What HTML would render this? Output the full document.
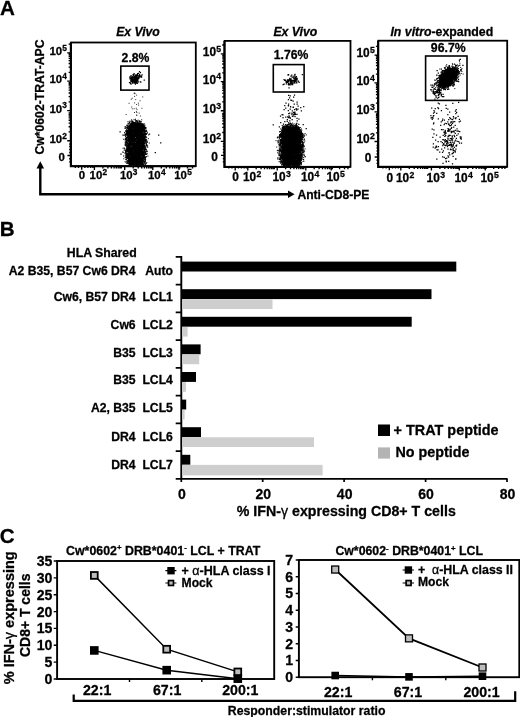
<!DOCTYPE html>
<html><head><meta charset="utf-8"><title>Figure</title>
<style>
html,body{margin:0;padding:0;background:#fff;}
svg{display:block;font-family:"Liberation Sans", sans-serif;}
text{fill:#000;stroke:#000;stroke-width:0.28px;stroke-linejoin:round;}
</style></head>
<body>
<svg width="520" height="717" viewBox="0 0 520 717">
<rect width="520" height="717" fill="#fff"/>
<rect x="71" y="42.5" width="124.8" height="123.6" fill="none" stroke="#000" stroke-width="1.8"/>
<path d="M70.8 42.5V166.29999999999998H195.8" fill="none" stroke="#000" stroke-width="2.0"/>
<path d="M67.2 52.9H71M68.6 44.1H71M67.2 81.1H71M68.6 72.3H71M68.6 67.1H71M68.6 63.5H71M68.6 60.6H71M68.6 58.3H71M68.6 56.4H71M68.6 54.7H71M68.6 53.2H71M67.2 110.6H71M68.6 101.8H71M68.6 96.6H71M68.6 93.0H71M68.6 90.1H71M68.6 87.8H71M68.6 85.9H71M68.6 84.2H71M68.6 82.7H71M67.2 140.7H71M68.6 131.9H71M68.6 126.7H71M68.6 123.1H71M68.6 120.2H71M68.6 117.9H71M68.6 116.0H71M68.6 114.3H71M68.6 112.8H71M67.4 155.5H71M69.2 158.7H71M69.2 161.9H71M69.2 152.5H71M69.2 149.5H71M69.2 146.5H71M69.2 144.0H71M94.4 166.1V169.9M102.9 166.1V168.5M107.9 166.1V168.5M111.4 166.1V168.5M114.1 166.1V168.5M116.3 166.1V168.5M118.2 166.1V168.5M119.9 166.1V168.5M121.3 166.1V168.5M124.7 166.1V169.9M133.2 166.1V168.5M138.2 166.1V168.5M141.7 166.1V168.5M144.4 166.1V168.5M146.6 166.1V168.5M148.5 166.1V168.5M150.2 166.1V168.5M151.6 166.1V168.5M152.8 166.1V169.9M161.3 166.1V168.5M166.3 166.1V168.5M169.8 166.1V168.5M172.5 166.1V168.5M174.7 166.1V168.5M176.6 166.1V168.5M178.3 166.1V168.5M179.7 166.1V168.5M179.0 166.1V169.9M187.5 166.1V168.5M192.5 166.1V168.5M81.7 166.1V169.7M78.5 166.1V167.9M75.3 166.1V167.9M84.9 166.1V167.9M87.9 166.1V167.9M90.7 166.1V167.9M92.9 166.1V167.9" stroke="#000" stroke-width="1.35" fill="none"/>
<text x="49.4" y="54.8" font-size="11.4" font-weight="bold">10<tspan dx="0.3" dy="-4.1" font-size="8.322">5</tspan></text>
<text x="49.4" y="83.0" font-size="11.4" font-weight="bold">10<tspan dx="0.3" dy="-4.1" font-size="8.322">4</tspan></text>
<text x="49.4" y="112.5" font-size="11.4" font-weight="bold">10<tspan dx="0.3" dy="-4.1" font-size="8.322">3</tspan></text>
<text x="49.4" y="142.6" font-size="11.4" font-weight="bold">10<tspan dx="0.3" dy="-4.1" font-size="8.322">2</tspan></text>
<text x="58.6" y="160.7" font-size="11.4" font-weight="bold">0</text>
<text x="78.8" y="179.4" font-size="11.4" font-weight="bold">0</text>
<text x="89.6" y="179.4" font-size="11.4" font-weight="bold">10<tspan dx="0.3" dy="-4.1" font-size="8.322">2</tspan></text>
<text x="119.9" y="179.4" font-size="11.4" font-weight="bold">10<tspan dx="0.3" dy="-4.1" font-size="8.322">3</tspan></text>
<text x="148.0" y="179.4" font-size="11.4" font-weight="bold">10<tspan dx="0.3" dy="-4.1" font-size="8.322">4</tspan></text>
<text x="174.2" y="179.4" font-size="11.4" font-weight="bold">10<tspan dx="0.3" dy="-4.1" font-size="8.322">5</tspan></text>
<rect x="224.6" y="40.9" width="125.9" height="125.9" fill="none" stroke="#000" stroke-width="1.8"/>
<path d="M224.4 40.9V167.0H350.5" fill="none" stroke="#000" stroke-width="2.0"/>
<path d="M220.8 53.8H224.6M222.2 45.0H224.6M220.8 81.6H224.6M222.2 72.8H224.6M222.2 67.7H224.6M222.2 64.0H224.6M222.2 61.2H224.6M222.2 58.9H224.6M222.2 57.0H224.6M222.2 55.3H224.6M222.2 53.8H224.6M220.8 110.7H224.6M222.2 101.9H224.6M222.2 96.8H224.6M222.2 93.1H224.6M222.2 90.3H224.6M222.2 88.0H224.6M222.2 86.1H224.6M222.2 84.4H224.6M222.2 82.9H224.6M220.8 141.3H224.6M222.2 132.5H224.6M222.2 127.4H224.6M222.2 123.7H224.6M222.2 120.9H224.6M222.2 118.6H224.6M222.2 116.7H224.6M222.2 115.0H224.6M222.2 113.5H224.6M221.0 155.4H224.6M222.8 158.6H224.6M222.8 161.8H224.6M222.8 152.4H224.6M222.8 149.4H224.6M222.8 146.4H224.6M222.8 143.9H224.6M247.8 166.8V170.6M256.2 166.8V169.2M261.1 166.8V169.2M264.5 166.8V169.2M267.2 166.8V169.2M269.4 166.8V169.2M271.3 166.8V169.2M272.9 166.8V169.2M274.3 166.8V169.2M277.2 166.8V170.6M285.6 166.8V169.2M290.5 166.8V169.2M293.9 166.8V169.2M296.6 166.8V169.2M298.8 166.8V169.2M300.7 166.8V169.2M302.3 166.8V169.2M303.7 166.8V169.2M305.8 166.8V170.6M314.2 166.8V169.2M319.1 166.8V169.2M322.5 166.8V169.2M325.2 166.8V169.2M327.4 166.8V169.2M329.3 166.8V169.2M330.9 166.8V169.2M332.3 166.8V169.2M331.2 166.8V170.6M339.6 166.8V169.2M344.5 166.8V169.2M347.9 166.8V169.2M235.2 166.8V170.4M232.0 166.8V168.6M228.8 166.8V168.6M238.4 166.8V168.6M241.4 166.8V168.6M244.2 166.8V168.6M246.4 166.8V168.6" stroke="#000" stroke-width="1.35" fill="none"/>
<text x="202.8" y="55.7" font-size="11.9" font-weight="bold">10<tspan dx="0.3" dy="-4.1" font-size="8.687">5</tspan></text>
<text x="202.8" y="83.5" font-size="11.9" font-weight="bold">10<tspan dx="0.3" dy="-4.1" font-size="8.687">4</tspan></text>
<text x="202.8" y="112.6" font-size="11.9" font-weight="bold">10<tspan dx="0.3" dy="-4.1" font-size="8.687">3</tspan></text>
<text x="202.8" y="143.2" font-size="11.9" font-weight="bold">10<tspan dx="0.3" dy="-4.1" font-size="8.687">2</tspan></text>
<text x="211.2" y="160.6" font-size="11.9" font-weight="bold">0</text>
<text x="232.3" y="180.9" font-size="11.9" font-weight="bold">0</text>
<text x="243.0" y="180.9" font-size="11.9" font-weight="bold">10<tspan dx="0.3" dy="-4.1" font-size="8.687">2</tspan></text>
<text x="272.4" y="180.9" font-size="11.9" font-weight="bold">10<tspan dx="0.3" dy="-4.1" font-size="8.687">3</tspan></text>
<text x="301.0" y="180.9" font-size="11.9" font-weight="bold">10<tspan dx="0.3" dy="-4.1" font-size="8.687">4</tspan></text>
<text x="326.4" y="180.9" font-size="11.9" font-weight="bold">10<tspan dx="0.3" dy="-4.1" font-size="8.687">5</tspan></text>
<rect x="378.3" y="40.7" width="128.9" height="126.0" fill="none" stroke="#000" stroke-width="1.8"/>
<path d="M378.1 40.7V166.89999999999998H507.2" fill="none" stroke="#000" stroke-width="2.0"/>
<path d="M374.5 55.1H378.3M375.9 46.4H378.3M374.5 82.8H378.3M375.9 74.1H378.3M375.9 69.1H378.3M375.9 65.5H378.3M375.9 62.7H378.3M375.9 60.4H378.3M375.9 58.5H378.3M375.9 56.8H378.3M375.9 55.3H378.3M374.5 111.8H378.3M375.9 103.1H378.3M375.9 98.1H378.3M375.9 94.5H378.3M375.9 91.7H378.3M375.9 89.4H378.3M375.9 87.5H378.3M375.9 85.8H378.3M375.9 84.3H378.3M374.5 141.5H378.3M375.9 132.8H378.3M375.9 127.8H378.3M375.9 124.2H378.3M375.9 121.4H378.3M375.9 119.1H378.3M375.9 117.2H378.3M375.9 115.5H378.3M375.9 114.0H378.3M374.7 157.0H378.3M376.5 160.2H378.3M376.5 163.4H378.3M376.5 154.0H378.3M376.5 151.0H378.3M376.5 148.0H378.3M376.5 145.5H378.3M400.8 166.7V170.5M409.3 166.7V169.1M414.2 166.7V169.1M417.7 166.7V169.1M420.5 166.7V169.1M422.7 166.7V169.1M424.6 166.7V169.1M426.2 166.7V169.1M427.6 166.7V169.1M431.4 166.7V170.5M439.9 166.7V169.1M444.8 166.7V169.1M448.3 166.7V169.1M451.1 166.7V169.1M453.3 166.7V169.1M455.2 166.7V169.1M456.8 166.7V169.1M458.2 166.7V169.1M459.3 166.7V170.5M467.8 166.7V169.1M472.7 166.7V169.1M476.2 166.7V169.1M479.0 166.7V169.1M481.2 166.7V169.1M483.1 166.7V169.1M484.7 166.7V169.1M486.1 166.7V169.1M485.2 166.7V170.5M493.7 166.7V169.1M498.6 166.7V169.1M502.1 166.7V169.1M504.9 166.7V169.1M389.3 166.7V170.3M386.1 166.7V168.5M382.9 166.7V168.5M392.5 166.7V168.5M395.5 166.7V168.5M398.3 166.7V168.5" stroke="#000" stroke-width="1.35" fill="none"/>
<text x="356.5" y="57" font-size="11.9" font-weight="bold">10<tspan dx="0.3" dy="-4.1" font-size="8.687">5</tspan></text>
<text x="356.5" y="84.7" font-size="11.9" font-weight="bold">10<tspan dx="0.3" dy="-4.1" font-size="8.687">4</tspan></text>
<text x="356.5" y="113.7" font-size="11.9" font-weight="bold">10<tspan dx="0.3" dy="-4.1" font-size="8.687">3</tspan></text>
<text x="356.5" y="143.4" font-size="11.9" font-weight="bold">10<tspan dx="0.3" dy="-4.1" font-size="8.687">2</tspan></text>
<text x="364.8" y="162.2" font-size="11.9" font-weight="bold">0</text>
<text x="386.4" y="181.9" font-size="11.9" font-weight="bold">0</text>
<text x="396" y="181.9" font-size="11.9" font-weight="bold">10<tspan dx="0.3" dy="-4.1" font-size="8.687">2</tspan></text>
<text x="426.6" y="181.9" font-size="11.9" font-weight="bold">10<tspan dx="0.3" dy="-4.1" font-size="8.687">3</tspan></text>
<text x="454.5" y="181.9" font-size="11.9" font-weight="bold">10<tspan dx="0.3" dy="-4.1" font-size="8.687">4</tspan></text>
<text x="480.4" y="181.9" font-size="11.9" font-weight="bold">10<tspan dx="0.3" dy="-4.1" font-size="8.687">5</tspan></text>
<text x="138" y="35.6" font-size="12.2" font-weight="bold" text-anchor="middle" font-style="italic" textLength="43.5" lengthAdjust="spacingAndGlyphs">Ex Vivo</text>
<text x="295.3" y="35.8" font-size="12.2" font-weight="bold" text-anchor="middle" font-style="italic" textLength="43.8" lengthAdjust="spacingAndGlyphs">Ex Vivo</text>
<text x="390.4" y="36.1" font-size="12.2" font-weight="bold" textLength="102.8" lengthAdjust="spacingAndGlyphs"><tspan font-style="italic">In vitro</tspan>-expanded</text>
<rect x="120.8" y="66.1" width="28.2" height="24.0" fill="none" stroke="#000" stroke-width="1.6"/>
<rect x="273.3" y="64.6" width="30.8" height="27.4" fill="none" stroke="#000" stroke-width="1.6"/>
<rect x="425.6" y="56" width="41.4" height="44.4" fill="none" stroke="#000" stroke-width="1.6"/>
<text x="135.5" y="61.6" font-size="12.2" font-weight="bold" text-anchor="middle">2.8%</text>
<text x="291" y="59.0" font-size="12.2" font-weight="bold" text-anchor="middle">1.76%</text>
<text x="448.3" y="52.4" font-size="12.3" font-weight="bold" text-anchor="middle">96.7%</text>
<path d="M130.2 139.5h1M136.1 146.8h1M130.2 124.5h1M129.5 142.8h1M132.7 153.7h1M130.3 137.4h1M128.1 160.8h1M136.9 138.7h1M137.0 132.9h1M133.4 150.2h1M128.8 157.7h1M137.8 161.2h1M134.0 133.9h1M125.4 144.1h1M140.9 146.1h1M133.0 152.5h1M138.4 144.2h1M131.4 155.7h1M134.3 140.4h1M140.7 131.4h1M143.7 129.3h1M141.2 124.8h1M132.9 160.8h1M125.6 143.0h1M136.7 131.5h1M134.1 149.6h1M136.7 135.6h1M125.2 144.2h1M136.3 164.1h1M138.4 140.2h1M130.6 127.4h1M129.1 138.6h1M141.7 127.7h1M133.9 151.6h1M147.1 142.3h1M128.3 143.3h1M133.2 138.3h1M129.4 126.7h1M144.4 149.9h1M132.0 161.3h1M137.9 131.2h1M147.9 138.7h1M136.0 162.5h1M126.7 131.8h1M139.2 124.5h1M144.3 161.6h1M130.8 134.6h1M140.9 158.0h1M136.3 125.0h1M140.8 155.6h1M128.2 139.8h1M128.4 144.2h1M144.6 131.5h1M133.0 132.4h1M126.3 138.1h1M136.7 163.0h1M130.6 130.3h1M130.1 150.8h1M131.2 164.3h1M136.0 164.2h1M138.1 146.0h1M126.9 131.9h1M137.7 143.4h1M136.6 145.9h1M130.3 147.4h1M136.8 149.2h1M134.9 139.0h1M132.2 154.1h1M141.0 164.8h1M140.2 131.8h1M128.5 128.3h1M125.9 134.4h1M129.3 160.3h1M142.5 127.1h1M141.9 135.4h1M133.7 128.6h1M129.8 130.9h1M132.5 147.7h1M144.1 150.4h1M131.4 159.3h1M128.9 125.5h1M129.0 145.2h1M137.7 132.3h1M135.2 130.2h1M139.5 129.2h1M140.6 127.6h1M145.3 142.3h1M132.6 137.0h1M131.0 128.7h1M135.0 136.2h1M128.5 146.4h1M136.6 137.7h1M129.9 127.5h1M142.1 157.8h1M143.9 138.0h1M135.0 140.2h1M129.3 141.1h1M129.0 126.5h1M134.9 129.3h1M136.4 136.1h1M143.7 129.1h1M133.3 137.2h1M135.5 143.3h1M134.8 123.6h1M131.5 126.9h1M137.6 146.3h1M130.9 156.6h1M129.5 154.5h1M140.0 147.8h1M137.4 145.7h1M139.3 157.2h1M131.6 152.4h1M129.7 139.7h1M136.6 149.2h1M138.7 121.6h1M141.4 145.0h1M127.4 135.9h1M142.1 135.6h1M133.6 140.1h1M139.0 147.9h1M138.9 135.3h1M128.6 126.4h1M137.8 157.0h1M138.1 146.3h1M144.4 135.1h1M143.4 143.7h1M131.5 135.0h1M123.8 148.8h1M136.7 128.7h1M132.5 154.4h1M127.6 123.3h1M127.9 137.0h1M127.8 162.1h1M140.5 125.2h1M127.1 132.4h1M131.4 153.9h1M130.2 126.3h1M131.5 163.6h1M137.3 134.2h1M141.6 158.4h1M142.6 145.5h1M138.9 144.4h1M142.3 124.4h1M131.4 140.3h1M137.3 129.8h1M130.2 143.3h1M136.0 164.7h1M129.1 144.2h1M131.9 139.8h1M131.6 151.1h1M132.2 140.0h1M134.4 125.4h1M127.2 143.2h1M136.5 135.5h1M129.6 121.3h1M139.1 140.6h1M142.7 164.6h1M129.8 130.5h1M142.8 155.6h1M134.1 154.7h1M133.4 158.0h1M128.7 135.6h1M130.9 157.1h1M133.9 150.3h1M128.2 126.5h1M140.8 153.2h1M143.2 134.7h1M134.7 122.9h1M139.8 133.1h1M131.2 124.4h1M140.6 133.7h1M142.3 130.3h1M130.5 137.0h1M135.8 164.1h1M139.5 143.2h1M131.4 140.6h1M126.4 125.6h1M132.6 160.4h1M125.6 134.6h1M133.8 151.6h1M132.8 132.5h1M134.5 136.1h1M125.3 139.5h1M128.7 164.5h1M135.2 127.9h1M132.8 122.3h1M141.4 136.5h1M142.4 134.5h1M132.1 154.3h1M139.4 157.1h1M129.4 121.2h1M137.5 140.6h1M141.1 159.3h1M129.8 135.5h1M130.2 129.5h1M127.7 124.9h1M129.3 164.1h1M134.7 124.8h1M140.0 131.6h1M126.6 158.2h1M135.7 160.1h1M132.4 156.6h1M130.4 132.2h1M130.4 143.3h1M123.0 156.0h1M139.2 146.1h1M131.9 125.0h1M131.5 162.8h1M140.3 160.5h1M129.5 152.5h1M128.5 133.3h1M125.1 130.9h1M133.1 134.2h1M129.2 151.0h1M139.0 149.0h1M133.4 154.9h1M133.1 135.7h1M131.0 163.6h1M142.8 155.8h1M140.4 143.1h1M136.6 144.1h1M137.1 152.6h1M131.5 138.9h1M134.8 147.4h1M129.2 160.4h1M138.7 125.5h1M143.2 153.6h1M135.9 136.2h1M128.8 128.7h1M128.7 141.8h1M129.1 122.4h1M137.8 162.5h1M138.9 150.6h1M132.4 141.2h1M131.1 122.9h1M127.7 157.7h1M134.8 145.2h1M129.6 125.4h1M142.1 154.4h1M134.0 148.3h1M142.7 156.4h1M128.1 149.4h1M132.6 159.1h1M135.1 159.2h1M143.7 161.0h1M134.6 132.5h1M142.5 125.6h1M139.7 154.5h1M132.9 125.9h1M140.8 159.8h1M133.4 130.8h1M142.7 158.3h1M127.3 139.6h1M132.4 159.8h1M138.1 154.3h1M129.1 137.8h1M143.6 148.7h1M130.0 129.7h1M134.2 123.1h1M128.7 131.2h1M143.4 150.1h1M138.6 134.8h1M130.1 162.5h1M132.2 122.5h1M141.3 147.9h1M135.6 135.0h1M141.1 141.5h1M131.1 119.8h1M136.4 130.6h1M133.6 160.3h1M136.8 128.2h1M132.6 125.5h1M128.7 155.1h1M140.4 135.5h1M128.5 156.0h1M137.3 145.0h1M126.1 132.2h1M131.7 164.0h1M131.5 159.4h1M142.8 161.8h1M141.1 150.5h1M139.1 145.9h1M129.2 142.5h1M142.2 132.3h1M143.3 130.8h1M127.5 139.1h1M137.2 152.2h1M138.9 124.9h1M140.8 160.4h1M132.4 132.3h1M138.8 160.3h1M131.1 133.8h1M131.8 134.4h1M131.1 135.1h1M139.7 135.9h1M125.0 150.8h1M132.2 158.8h1M145.2 130.8h1M127.5 132.9h1M138.8 121.5h1M141.3 129.9h1M129.7 136.5h1M137.9 153.6h1M137.2 127.8h1M135.2 150.1h1M130.7 126.7h1M134.4 149.8h1M136.1 143.0h1M132.1 149.0h1M137.8 161.8h1M139.4 141.8h1M142.4 143.5h1M139.7 138.1h1M129.9 129.5h1M134.4 132.7h1M129.9 160.6h1M145.1 140.3h1M129.3 139.8h1M135.5 132.0h1M135.9 158.9h1M127.3 144.0h1M140.3 155.2h1M134.5 157.7h1M134.7 156.6h1M138.2 150.3h1M139.7 124.9h1M136.8 151.4h1M144.8 148.6h1M130.6 129.7h1M136.1 145.7h1M130.9 131.5h1M137.6 125.9h1M132.8 143.9h1M138.3 142.9h1M143.1 141.0h1M134.2 140.7h1M138.4 122.4h1M141.2 139.0h1M139.6 163.8h1M141.5 141.1h1M134.8 157.9h1M137.5 135.2h1M130.2 160.6h1M135.6 150.3h1M133.3 161.0h1M139.5 142.4h1M136.8 136.0h1M130.6 140.7h1M142.2 159.7h1M137.9 159.3h1M129.9 152.6h1M127.2 134.1h1M140.1 163.8h1M139.4 151.0h1M137.5 159.1h1M140.0 146.9h1M130.4 148.0h1M129.8 147.3h1M142.0 142.9h1M134.7 124.9h1M132.2 154.0h1M124.5 152.9h1M134.9 162.9h1M145.8 144.7h1M133.8 151.8h1M136.0 143.1h1M130.3 141.5h1M139.3 135.3h1M138.5 136.8h1M131.8 158.1h1M138.0 150.9h1M141.7 155.0h1M128.3 136.6h1M139.4 154.4h1M135.2 146.6h1M139.4 147.8h1M141.2 146.5h1M141.5 125.9h1M141.8 138.4h1M130.2 132.6h1M138.6 143.4h1M129.9 148.4h1M142.6 151.3h1M142.5 140.8h1M136.2 142.5h1M129.3 134.5h1M129.5 153.8h1M132.5 161.8h1M139.9 134.6h1M141.0 158.4h1M136.7 124.8h1M134.4 162.8h1M127.8 123.3h1M132.8 124.2h1M136.8 160.5h1M133.8 149.6h1M131.3 157.9h1M134.5 139.9h1M136.4 153.8h1M135.6 155.5h1M135.7 134.9h1M140.3 152.6h1M126.3 134.0h1M141.6 151.5h1M142.1 160.0h1M142.8 133.8h1M135.0 161.3h1M130.6 160.1h1M136.3 129.5h1M131.0 130.7h1M129.2 140.5h1M140.3 130.8h1M133.8 144.2h1M129.0 131.4h1M132.5 146.8h1M141.8 125.4h1M142.1 152.2h1M136.3 140.9h1M131.7 159.4h1M142.5 153.9h1M127.9 161.2h1M128.1 132.7h1M141.8 149.6h1M130.1 142.1h1M140.9 148.1h1M137.4 140.2h1M133.1 134.7h1M138.5 123.5h1M130.8 164.5h1M142.7 152.7h1M130.8 127.5h1M130.3 145.5h1M130.3 156.5h1M141.3 126.3h1M134.0 162.7h1M136.0 131.1h1M138.3 141.6h1M128.6 152.2h1M141.7 154.1h1M131.9 134.4h1M136.2 160.1h1M143.4 138.4h1M129.0 128.2h1M131.6 144.3h1M142.6 146.3h1M132.3 126.8h1M132.3 154.3h1M128.0 158.7h1M134.1 159.2h1M132.4 164.4h1M126.7 131.9h1M136.7 129.2h1M141.9 136.3h1M127.4 158.3h1M129.2 153.4h1M145.0 157.5h1M135.4 149.5h1M141.6 162.0h1M138.8 140.7h1M135.4 121.7h1M137.9 128.1h1M137.9 137.3h1M131.7 129.5h1M126.3 143.9h1M131.4 129.2h1M138.6 127.3h1M133.5 150.4h1M141.1 127.6h1M133.7 128.4h1M135.5 128.9h1M127.7 163.6h1M142.8 129.4h1M139.4 141.4h1M133.8 157.2h1M142.4 146.2h1M135.2 160.0h1M136.1 141.6h1M133.9 128.3h1M144.3 129.7h1M144.2 147.1h1M136.9 122.4h1M138.8 138.5h1M131.1 133.4h1M131.3 138.1h1M142.0 149.1h1M136.7 144.0h1M130.3 130.1h1M124.1 135.2h1M135.8 149.5h1M131.9 153.9h1M132.1 143.5h1M133.0 147.5h1M142.1 139.0h1M133.3 147.7h1M133.2 157.6h1M125.8 144.6h1M129.4 157.4h1M129.1 161.0h1M139.8 154.9h1M139.5 143.6h1M139.3 141.3h1M143.3 125.1h1M138.0 149.5h1M142.5 141.4h1M131.3 138.5h1M131.5 137.3h1M142.0 137.1h1M129.3 141.4h1M140.9 150.0h1M144.4 140.1h1M134.4 128.5h1M132.6 125.5h1M138.5 157.8h1M137.2 146.4h1M135.7 151.0h1M126.7 145.9h1M140.7 149.7h1M129.4 141.7h1M136.5 134.2h1M145.2 136.5h1M140.1 126.4h1M140.1 164.1h1M134.3 136.9h1M136.2 131.5h1M141.1 153.6h1M131.7 137.0h1M128.8 158.4h1M137.5 144.1h1M133.7 149.5h1M131.3 130.7h1M143.0 129.0h1M125.9 150.9h1M135.8 156.3h1M143.6 130.9h1M135.2 148.1h1M141.2 127.9h1M126.1 141.9h1M139.4 162.0h1M132.9 146.8h1M143.9 155.6h1M128.0 145.3h1M136.8 141.3h1M135.1 150.1h1M141.7 142.3h1M132.9 139.1h1M133.2 136.7h1M130.4 130.2h1M141.9 161.9h1M140.5 160.1h1M143.1 141.5h1M131.0 146.2h1M141.5 154.5h1M133.1 139.9h1M137.4 163.8h1M136.2 135.7h1M129.9 147.9h1M136.8 132.3h1M134.8 126.7h1M131.2 138.2h1M132.2 128.8h1M137.1 164.4h1M138.9 129.3h1M140.0 151.7h1M136.8 154.5h1M143.8 151.7h1M126.6 155.9h1M134.9 131.2h1M133.2 124.2h1M129.9 158.0h1M124.6 142.1h1M126.7 160.7h1M131.0 160.9h1M141.0 128.8h1M135.2 159.2h1M126.9 157.4h1M140.3 161.5h1M132.1 157.5h1M133.9 125.3h1M139.1 127.7h1M142.1 146.3h1M126.1 132.8h1M134.1 133.9h1M130.8 155.4h1M142.2 145.5h1M128.8 164.0h1M136.3 159.0h1M133.7 151.9h1M128.9 161.1h1M127.2 134.4h1M135.9 155.8h1M133.3 145.4h1M142.0 124.6h1M143.1 154.5h1M135.2 144.8h1M140.0 126.1h1M137.7 162.8h1M127.5 131.1h1M127.1 133.0h1M131.0 161.8h1M133.8 152.9h1M131.1 140.9h1M133.5 159.8h1M139.9 152.0h1M134.3 161.4h1M139.7 136.8h1M135.3 132.1h1M135.5 125.1h1M142.3 126.5h1M130.2 139.7h1M129.6 140.2h1M142.5 161.2h1M135.7 144.5h1M127.6 128.3h1M143.9 150.2h1M127.1 151.5h1M137.5 142.8h1M129.6 164.4h1M126.9 146.0h1M131.2 147.7h1M130.3 140.6h1M129.5 151.4h1M135.8 126.6h1M129.6 150.2h1M138.9 145.8h1M136.0 127.7h1M144.9 153.3h1M129.8 159.3h1M140.1 129.4h1M141.2 128.3h1M125.5 140.5h1M135.2 136.1h1M137.8 152.8h1M130.1 160.4h1M139.1 155.6h1M142.9 139.2h1M138.4 124.5h1M131.7 160.5h1M126.1 133.5h1M129.5 150.4h1M128.7 159.1h1M135.9 153.4h1M140.6 150.4h1M134.6 119.8h1M140.8 164.0h1M136.6 160.0h1M138.3 131.9h1M127.1 153.0h1M137.7 164.3h1M133.0 139.8h1M124.8 138.3h1M135.3 123.6h1M138.2 129.9h1M128.8 147.2h1M142.1 158.2h1M132.2 149.0h1M137.9 164.4h1M132.5 153.6h1M132.9 147.3h1M132.8 140.0h1M130.8 134.5h1M133.3 125.3h1M128.8 148.3h1M139.5 135.8h1M140.0 162.7h1M145.5 128.1h1M139.8 139.6h1M133.0 122.5h1M131.4 136.0h1M132.1 155.1h1M127.7 152.0h1M127.7 158.5h1M128.4 160.6h1M136.8 128.1h1M140.3 164.8h1M134.3 149.9h1M137.4 125.5h1M131.1 135.8h1M137.0 148.3h1M133.4 156.5h1M143.4 130.4h1M133.8 144.1h1M135.5 151.3h1M139.5 137.7h1M142.6 133.9h1M136.9 135.5h1M133.7 123.5h1M144.7 136.8h1M127.4 130.6h1M138.5 146.2h1M130.6 143.8h1M131.4 133.9h1M133.2 164.3h1M142.8 157.3h1M137.1 128.2h1M136.0 141.7h1M135.2 145.7h1M135.8 133.4h1M141.4 134.7h1M136.6 138.0h1M128.0 132.9h1M131.0 157.5h1M137.9 145.9h1M143.1 147.6h1M139.1 134.1h1M145.8 163.3h1M144.1 137.6h1M138.1 124.8h1M131.1 129.2h1M140.6 141.2h1M140.8 158.9h1M134.5 134.3h1M134.4 138.2h1M139.0 128.4h1M126.2 129.9h1M132.8 134.9h1M138.7 136.9h1M129.1 136.3h1M136.0 123.5h1M138.4 142.5h1M143.1 144.8h1M130.8 161.8h1M133.0 143.9h1M132.4 145.9h1M136.7 151.7h1M129.9 140.3h1M124.6 161.7h1M139.0 153.0h1M139.8 137.6h1M143.5 158.8h1M130.7 131.7h1M139.0 153.2h1M138.8 152.3h1M141.7 132.3h1M132.5 144.1h1M139.7 136.0h1M130.0 143.3h1M135.8 132.1h1M126.5 163.2h1M125.2 142.1h1M133.8 130.3h1M127.9 157.0h1M134.4 144.0h1M125.7 145.6h1M132.6 152.1h1M128.5 138.9h1M129.3 131.8h1M132.6 155.1h1M142.1 162.7h1M139.1 129.5h1M133.6 141.9h1M140.1 154.5h1M138.3 158.3h1M132.5 159.8h1M137.5 125.2h1M142.6 147.1h1M130.8 149.3h1M136.7 142.7h1M137.0 144.0h1M136.7 153.8h1M140.4 148.8h1M128.2 132.3h1M138.7 126.6h1M138.5 153.4h1M127.5 154.2h1M143.2 156.3h1M128.2 147.8h1M131.9 135.0h1M135.0 151.9h1M143.3 137.3h1M132.5 131.3h1M132.0 140.8h1M142.3 139.9h1M126.3 152.2h1M135.8 143.8h1M131.2 160.1h1M136.7 146.4h1M126.2 161.6h1M143.0 126.8h1M139.5 132.6h1M137.7 144.3h1M144.3 131.4h1M131.3 136.0h1M141.3 141.1h1M139.5 154.3h1M130.3 126.2h1M131.6 148.3h1M133.2 162.3h1M127.8 160.8h1M135.1 139.5h1M135.0 124.7h1M131.2 156.3h1M129.6 146.7h1M145.2 148.1h1M136.1 163.0h1M134.5 129.5h1M145.8 131.3h1M126.3 141.4h1M140.3 136.9h1M125.9 131.8h1M142.1 150.3h1M135.8 149.4h1M135.8 127.2h1M131.5 137.2h1M140.9 132.6h1M129.2 161.1h1M137.2 164.1h1M136.2 127.6h1M134.7 145.1h1M143.2 133.5h1M143.1 146.0h1M136.2 145.8h1M129.9 133.7h1M133.9 123.1h1M137.8 135.1h1M128.9 123.3h1M135.9 122.2h1M136.4 135.4h1M140.1 125.0h1M130.9 128.4h1M133.7 127.4h1M139.5 134.2h1M131.6 157.6h1M138.3 163.8h1M141.8 150.2h1M135.5 154.5h1M142.1 157.5h1M136.6 163.5h1M142.1 146.4h1M140.4 160.6h1M132.3 161.7h1M134.8 131.1h1M138.5 153.4h1M136.7 156.8h1M143.0 143.9h1M138.4 135.6h1M130.6 123.4h1M136.0 157.2h1M143.5 138.8h1M132.1 150.7h1M142.0 152.0h1M140.2 128.6h1M138.2 131.0h1M140.7 135.4h1M135.5 136.2h1M137.2 134.0h1M131.3 144.2h1M134.6 124.4h1M136.5 143.8h1M140.6 125.4h1M130.6 138.1h1M131.3 144.8h1M141.3 140.3h1M139.1 151.8h1M125.5 162.6h1M146.4 141.0h1M126.9 127.8h1M128.4 140.8h1M136.5 156.7h1M135.5 164.8h1M138.1 143.3h1M143.6 137.1h1M136.6 158.1h1M133.0 164.0h1M133.9 138.8h1M144.0 136.9h1M128.2 144.5h1M143.6 142.5h1M137.9 144.9h1M137.7 139.3h1M128.3 146.7h1M130.3 141.6h1M130.7 151.2h1M142.1 158.5h1M137.1 135.3h1M139.0 156.0h1M145.2 127.5h1M130.1 150.4h1M140.1 139.2h1M133.3 163.1h1M129.6 163.1h1M137.3 142.4h1M132.2 146.8h1M140.6 160.2h1M135.5 152.3h1M140.0 163.3h1M128.6 159.9h1M134.0 147.8h1M132.1 161.1h1M141.8 129.0h1M142.6 138.9h1M125.7 139.5h1M124.9 134.9h1M128.4 160.1h1M136.7 132.6h1M130.7 150.1h1M140.0 159.4h1M125.2 157.9h1M136.9 126.2h1M134.3 138.7h1M144.7 161.2h1M146.3 133.5h1M133.2 130.4h1M133.3 140.9h1M129.7 137.8h1M129.6 140.6h1M134.8 134.1h1M146.4 151.8h1M127.6 153.9h1M137.8 162.1h1M125.0 138.2h1M128.1 132.7h1M129.0 158.3h1M141.9 130.7h1M138.2 164.5h1M137.3 131.1h1M143.2 132.8h1M132.6 160.0h1M144.1 153.4h1M137.1 130.7h1M140.8 143.9h1M137.2 147.9h1M142.9 125.5h1M129.7 144.1h1M137.3 163.0h1M139.0 129.7h1M125.4 151.1h1M134.4 157.6h1M136.6 153.0h1M143.0 153.1h1M144.8 151.3h1M143.5 131.0h1M127.5 151.6h1M132.8 125.2h1M140.1 152.7h1M132.7 131.9h1M142.9 128.5h1M128.7 158.1h1M142.1 158.3h1M137.2 161.2h1M137.4 148.9h1M135.6 125.2h1M142.0 125.7h1M136.7 160.0h1M138.5 134.6h1M135.6 151.0h1M141.9 162.9h1M141.8 138.0h1M128.9 158.3h1M133.1 152.3h1M140.9 139.4h1M137.0 157.2h1M141.9 158.1h1M142.5 143.4h1M130.3 142.7h1M135.2 138.6h1M136.0 164.5h1M132.0 163.7h1M130.8 134.2h1M138.6 164.3h1M133.8 160.4h1M136.0 128.9h1M128.0 135.0h1M141.2 145.6h1M142.2 144.0h1M143.4 127.8h1M144.1 123.9h1M139.7 128.6h1M129.6 156.6h1M131.2 124.3h1M135.9 164.6h1M125.9 149.4h1M129.7 128.3h1M137.9 123.5h1M126.9 135.8h1M136.1 134.5h1M135.3 159.4h1M132.1 163.9h1M129.5 162.3h1M133.9 125.5h1M128.0 150.3h1M136.7 134.3h1M126.9 151.2h1M141.0 124.8h1M139.5 139.4h1M130.3 133.1h1M131.6 134.9h1M131.9 157.6h1M137.1 138.7h1M140.9 164.7h1M128.9 135.9h1M127.6 143.7h1M135.7 145.4h1M135.7 130.4h1M131.2 164.3h1M142.1 152.9h1M132.7 149.7h1M127.4 136.2h1M141.6 148.2h1M129.1 138.5h1M141.8 127.3h1M137.1 124.1h1M138.2 144.3h1M136.6 145.3h1M142.7 158.2h1M143.3 136.0h1M143.9 151.2h1M135.2 125.7h1M138.7 157.6h1M128.1 152.9h1M137.9 144.2h1M133.9 151.8h1M139.5 136.3h1M140.2 123.7h1M134.2 122.4h1M129.6 148.1h1M128.8 129.9h1M125.3 143.2h1M137.0 135.1h1M139.9 143.8h1M128.2 146.1h1M131.7 123.8h1M140.2 138.5h1M130.7 151.5h1M140.6 149.7h1M137.5 164.0h1M129.0 137.5h1M127.6 155.2h1M138.6 141.7h1M137.8 144.3h1M143.4 128.8h1M144.2 141.2h1M136.1 163.7h1M129.3 153.0h1M129.4 133.0h1M137.3 140.8h1M137.6 163.7h1M128.9 143.9h1M145.4 154.4h1M135.2 158.9h1M139.9 156.0h1M141.1 136.7h1M129.3 162.9h1M132.5 121.2h1M138.5 127.8h1M139.3 123.9h1M130.1 148.0h1M128.5 136.0h1M136.9 128.1h1M138.1 157.2h1M142.5 133.7h1M136.3 130.1h1M141.0 135.7h1M128.8 148.7h1M133.1 155.2h1M129.9 150.1h1M137.9 130.6h1M135.9 143.7h1M129.6 155.1h1M138.5 156.7h1M138.2 136.5h1M141.8 134.6h1M139.2 163.3h1M127.0 157.0h1M137.8 125.2h1M136.5 144.3h1M138.5 144.6h1M134.0 158.4h1M133.5 144.9h1M140.7 134.6h1M144.8 135.9h1M139.3 152.6h1M144.2 141.0h1M132.9 126.6h1M131.5 126.6h1M142.8 126.6h1M133.0 125.0h1M136.5 129.2h1M140.6 161.0h1M131.7 141.9h1M144.1 157.3h1M136.4 164.7h1M140.4 157.3h1M129.5 128.9h1M130.6 129.1h1M140.3 160.8h1M143.2 139.4h1M139.4 161.5h1M129.2 154.1h1M132.1 161.7h1M130.0 139.0h1M136.7 135.2h1M140.3 162.9h1M139.1 162.2h1M136.2 159.5h1M134.6 162.3h1M144.5 157.8h1M137.9 159.9h1M134.6 161.6h1M141.1 158.7h1M132.4 137.6h1M139.7 125.6h1M139.8 127.2h1M142.6 143.3h1M138.1 151.0h1M134.0 156.8h1M137.7 126.4h1M136.2 142.9h1M129.5 130.8h1M129.5 158.0h1M133.7 149.4h1M137.0 125.6h1M130.3 136.3h1M144.3 129.8h1M140.5 140.3h1M132.2 136.3h1M134.8 146.5h1M129.8 164.7h1M140.2 160.8h1M126.2 140.7h1M140.9 149.0h1M127.9 148.3h1M135.2 152.1h1M137.8 134.7h1M132.6 144.4h1M129.5 155.2h1M145.2 147.6h1M138.1 129.8h1M139.9 154.7h1M131.4 144.6h1M126.1 155.0h1M128.4 138.5h1M133.6 128.4h1M130.7 130.8h1M135.0 136.3h1M143.0 145.1h1M131.7 145.2h1M145.3 133.6h1M134.5 140.2h1M142.7 153.2h1M139.7 152.6h1M130.2 136.3h1M140.9 141.9h1M132.7 157.1h1M135.8 161.9h1M132.7 140.8h1M143.8 134.6h1M136.9 123.7h1M134.8 141.0h1M131.4 163.3h1M128.8 138.1h1M144.1 138.5h1M143.0 147.1h1M129.5 130.5h1M130.4 126.5h1M141.3 125.8h1M131.0 163.6h1M141.2 131.1h1M140.9 126.2h1M129.6 164.2h1M137.7 124.8h1M127.4 130.0h1M135.2 164.7h1M131.6 140.6h1M130.3 155.3h1M135.2 139.0h1M141.1 155.7h1M138.5 145.3h1M144.9 134.8h1M130.2 163.0h1M140.6 140.4h1M140.4 158.1h1M137.1 140.6h1M141.8 146.2h1M133.1 150.0h1M137.1 164.4h1M130.2 155.5h1M134.6 160.8h1M143.2 131.4h1M139.0 156.1h1M146.3 141.0h1M134.6 129.8h1M139.3 145.6h1M124.8 155.3h1M137.8 133.1h1M141.1 148.8h1M135.8 159.7h1M141.2 128.1h1M140.3 128.1h1M136.6 128.5h1M127.2 160.6h1M143.5 161.3h1M139.1 144.7h1M132.8 163.1h1M127.8 131.5h1M139.5 130.8h1M143.7 135.1h1M144.3 154.7h1M140.9 144.5h1M138.6 164.3h1M137.1 130.9h1M129.0 160.0h1M131.0 139.2h1M129.4 147.0h1M139.0 159.0h1M144.8 143.2h1M141.8 149.2h1M127.2 139.0h1M133.0 137.0h1M135.8 152.1h1M141.0 146.7h1M133.3 148.7h1M130.7 128.8h1M141.1 148.6h1M135.7 159.1h1M134.1 155.7h1M136.0 126.2h1M127.6 158.6h1M130.5 161.5h1M133.6 161.9h1M142.6 145.9h1M128.1 128.4h1M139.9 137.2h1M137.4 128.7h1M132.4 162.8h1M137.4 131.0h1M134.7 144.7h1M128.7 146.9h1M140.2 134.7h1M126.0 137.7h1M140.7 138.6h1M130.8 163.3h1M130.4 150.2h1M126.7 138.5h1M137.1 135.6h1M130.0 129.8h1M134.5 158.5h1M140.7 129.4h1M125.6 150.3h1M138.8 128.0h1M135.6 128.7h1M143.5 128.7h1M132.7 141.2h1M133.5 138.1h1M127.1 140.5h1M138.9 121.0h1M131.0 125.7h1M131.8 149.7h1M137.1 127.8h1M137.4 156.5h1M142.2 155.1h1M136.4 127.0h1M132.6 152.6h1M139.5 143.7h1M140.4 161.1h1M139.8 156.6h1M141.1 125.4h1M137.0 162.1h1M142.2 149.4h1M134.0 146.0h1M137.3 147.7h1M132.8 147.3h1M135.4 133.1h1M138.7 157.9h1M134.6 164.3h1M140.2 142.4h1M128.3 153.9h1M133.0 137.6h1M131.4 129.6h1M137.3 150.7h1M137.5 124.8h1M142.2 147.7h1M135.4 132.9h1M134.1 158.3h1M142.4 146.2h1M133.0 159.7h1M144.4 132.5h1M145.1 159.5h1M136.5 143.6h1M132.3 130.5h1M133.8 149.9h1M140.2 142.1h1M127.1 137.1h1M131.1 123.2h1M127.0 134.9h1M126.2 148.0h1M133.3 136.3h1M135.6 129.3h1M143.6 140.4h1M135.7 135.0h1M141.9 143.5h1M141.8 135.8h1M137.9 124.9h1M131.5 159.3h1M140.4 160.1h1M134.7 143.8h1M128.1 133.8h1M132.6 137.8h1M128.8 149.2h1M142.0 144.3h1M131.1 134.1h1M127.3 149.3h1M135.1 153.3h1M129.1 162.4h1M135.3 141.8h1M133.2 155.3h1M135.6 159.3h1M127.9 154.4h1M136.1 158.5h1M127.5 132.3h1M139.9 132.6h1M134.5 133.1h1M134.3 131.6h1M135.8 136.5h1M137.0 157.3h1M136.4 162.3h1M145.2 141.6h1M140.8 125.7h1M133.6 155.3h1M141.7 159.8h1M133.2 144.4h1M136.6 162.9h1M130.2 124.3h1M132.5 152.0h1M139.9 139.5h1M133.4 164.2h1M130.4 130.7h1M143.9 149.5h1M139.2 146.4h1M126.9 135.8h1M131.2 153.2h1M136.9 164.2h1M137.9 124.7h1M141.5 139.8h1M130.6 150.7h1M140.2 162.0h1M139.1 132.0h1M137.7 127.2h1M133.6 139.0h1M138.6 124.0h1M126.9 145.8h1M144.3 156.9h1M136.5 154.4h1M136.5 142.6h1M134.4 163.0h1M127.2 150.1h1M135.7 143.3h1M133.9 164.4h1M136.8 149.5h1M139.9 140.3h1M132.3 154.7h1M140.4 152.1h1M130.7 157.9h1M133.3 122.5h1M135.2 128.1h1M133.9 145.5h1M132.9 125.6h1M139.8 128.4h1M128.5 126.6h1M133.5 162.8h1M141.1 144.3h1M134.0 159.1h1M137.8 160.6h1M135.7 142.7h1M141.8 163.4h1M140.5 151.7h1M139.0 137.0h1M138.0 150.7h1M130.7 142.7h1M137.4 128.2h1M136.6 140.3h1M128.1 155.0h1M133.9 155.4h1M135.7 147.4h1M142.1 138.4h1M142.5 135.0h1M133.9 162.8h1M125.0 126.8h1M134.5 133.7h1M131.6 128.7h1M126.2 132.2h1M136.0 144.6h1M130.6 158.9h1M132.8 136.8h1M129.6 128.8h1M130.3 134.1h1M136.9 148.7h1M131.3 134.9h1M136.5 160.1h1M126.8 150.5h1M129.6 151.6h1M133.5 146.3h1M139.6 149.0h1M129.0 128.0h1M138.5 126.3h1M133.7 136.6h1M132.6 161.7h1M142.0 130.1h1M128.7 145.5h1M138.3 134.1h1M127.9 157.1h1M137.9 143.8h1M142.0 131.4h1M138.7 141.4h1M135.3 138.6h1M141.7 138.3h1M144.8 158.3h1M138.8 132.0h1M143.0 140.1h1M131.0 150.1h1M133.4 134.9h1M131.5 155.9h1M132.0 159.7h1M134.3 125.9h1M138.0 161.9h1M131.9 133.6h1M135.3 155.1h1M139.5 136.2h1M138.7 129.2h1M138.3 158.6h1M133.3 128.9h1M137.8 131.3h1M138.3 147.8h1M137.4 146.6h1M144.2 126.5h1M136.2 149.8h1M133.0 140.1h1M129.7 125.8h1M128.2 154.6h1M148.8 143.0h1M126.7 144.0h1M124.6 144.2h1M134.0 143.8h1M135.8 133.3h1M137.3 150.4h1M131.2 125.7h1M141.9 161.2h1M138.9 148.7h1M140.0 135.2h1M134.5 141.1h1M139.9 156.4h1M145.6 149.5h1M140.0 125.3h1M141.3 162.9h1M132.2 148.2h1M127.7 153.9h1M136.9 147.4h1M132.8 122.4h1M136.4 148.4h1M132.1 155.0h1M138.0 126.1h1M129.8 139.1h1M127.8 148.1h1M143.6 155.6h1M133.1 142.9h1M140.7 147.1h1M136.4 135.3h1M129.7 160.3h1M133.5 125.1h1M138.1 137.8h1M137.8 158.5h1M134.1 162.6h1M129.1 132.4h1M139.4 125.2h1M141.9 157.7h1M138.8 136.2h1M137.7 148.4h1M127.4 132.0h1M139.5 153.9h1M132.5 157.1h1M130.1 154.3h1M133.3 125.9h1M137.2 126.8h1M143.9 127.3h1M132.7 141.2h1M137.3 134.9h1M132.3 146.7h1M133.6 135.9h1M142.0 137.1h1M146.6 141.7h1M129.3 140.0h1M141.7 136.7h1M137.2 125.1h1M129.4 142.6h1M139.6 126.9h1M133.9 151.9h1M143.6 139.2h1M130.2 159.7h1M131.3 161.9h1M134.0 160.4h1M133.7 155.7h1M143.6 159.6h1M130.8 136.1h1M140.7 164.2h1M126.5 126.9h1M142.4 143.0h1M132.1 142.9h1M134.1 146.6h1M137.1 147.0h1M128.4 132.4h1M142.0 159.6h1M135.5 146.4h1M137.2 126.3h1M140.0 162.5h1M138.3 148.7h1M126.8 145.6h1M134.6 133.2h1M137.9 132.7h1M138.4 139.8h1M138.6 139.3h1M135.4 158.1h1M130.7 137.6h1M142.7 142.9h1M130.1 133.9h1M132.9 154.0h1M139.5 157.2h1M143.7 127.8h1M139.7 141.1h1M136.3 159.4h1M139.0 122.9h1M130.5 125.6h1M134.0 148.9h1M133.3 129.8h1M131.5 130.5h1M138.4 139.6h1M128.5 155.4h1M130.3 126.7h1M141.4 162.5h1M136.3 157.4h1M132.8 123.3h1M141.2 142.9h1M131.7 141.2h1M129.9 134.2h1M137.2 131.5h1M138.8 133.8h1M134.7 141.6h1M143.3 144.1h1M145.1 154.0h1M134.8 124.6h1M140.0 159.1h1M142.5 130.6h1M130.7 131.7h1M131.7 130.1h1M142.6 160.9h1M138.3 129.8h1M143.5 163.8h1M129.1 142.6h1M141.3 148.6h1M125.8 157.8h1M131.4 157.5h1M129.1 155.0h1M135.6 158.3h1M126.0 146.2h1M133.8 161.6h1M141.8 157.2h1M137.8 143.4h1M140.6 123.4h1M144.1 130.1h1M140.7 128.7h1M134.2 127.1h1M128.4 142.0h1M138.0 160.7h1M135.7 144.3h1M136.9 161.7h1M140.4 135.4h1M134.0 150.5h1M133.6 138.4h1M138.1 126.4h1M139.6 154.8h1M127.5 154.2h1M127.5 157.0h1M143.6 162.1h1M139.1 129.1h1M131.3 155.3h1M136.1 150.6h1M138.2 155.9h1M132.3 143.6h1M130.2 140.2h1M126.3 131.2h1M136.0 141.5h1M141.8 125.2h1M136.4 143.5h1M131.4 162.0h1M133.9 161.7h1M141.9 159.8h1M143.6 149.1h1M128.3 127.9h1M134.1 158.6h1M135.6 152.9h1M127.1 137.3h1M134.5 132.3h1M138.1 143.4h1M130.5 142.5h1M139.0 151.8h1M129.1 151.5h1M139.1 149.1h1M136.6 162.0h1M129.9 135.9h1M129.2 143.9h1M135.4 129.7h1M134.9 155.4h1M141.2 159.4h1M138.3 136.9h1M143.5 140.3h1M133.7 138.8h1M140.4 133.4h1M134.2 150.6h1M141.4 126.5h1M133.0 147.2h1M143.6 134.0h1M126.6 156.5h1M137.0 126.2h1M130.0 158.2h1M141.5 123.8h1M135.4 132.4h1M129.4 139.8h1M129.7 151.3h1M137.1 127.9h1M145.2 139.8h1M140.8 135.8h1M132.3 147.8h1M137.5 131.3h1M130.4 147.4h1M132.5 125.5h1M127.8 127.2h1M125.8 138.3h1M127.1 154.4h1M130.4 152.3h1M137.8 142.6h1M130.1 145.2h1M141.3 141.6h1M135.9 154.1h1M142.5 128.7h1M129.6 135.8h1M138.7 155.7h1M141.7 139.5h1M142.4 139.4h1M130.4 144.6h1M128.4 146.1h1M142.5 151.1h1M143.6 147.1h1M131.1 158.7h1M134.3 147.8h1M128.9 147.7h1M136.1 129.2h1M143.4 151.5h1M141.9 134.1h1M125.7 159.5h1M131.9 155.9h1M137.8 157.5h1M140.4 145.6h1M141.7 151.5h1M142.5 147.2h1M129.4 151.4h1M129.3 137.7h1M126.9 128.5h1M138.5 134.4h1M134.9 162.6h1M137.8 150.8h1M142.2 155.0h1M123.2 139.3h1M142.4 163.1h1M134.1 125.9h1M135.9 137.6h1M138.4 135.8h1M134.6 141.6h1M139.1 144.7h1M128.6 162.2h1M122.4 135.1h1M137.6 122.7h1M140.9 129.4h1M145.0 137.7h1M135.5 149.9h1M128.6 160.4h1M143.6 142.4h1M132.0 139.3h1M145.3 146.7h1M123.3 158.8h1M131.7 137.1h1M142.0 154.2h1M138.1 129.1h1M144.0 127.8h1M145.9 156.7h1M139.1 134.6h1M139.3 152.8h1M131.1 162.4h1M139.6 147.0h1M127.3 146.4h1M129.2 143.8h1M132.5 131.0h1M133.2 159.0h1M135.2 150.1h1M138.4 134.2h1M139.3 126.7h1M143.3 143.8h1M126.7 146.0h1M141.1 139.6h1M135.4 152.1h1M137.7 156.1h1M137.7 151.3h1M136.2 154.2h1M141.7 144.6h1M132.8 144.4h1M128.5 158.9h1M140.5 134.2h1M128.2 163.0h1M128.5 130.9h1M143.1 151.9h1M128.1 126.6h1M139.0 147.0h1M141.8 145.4h1M131.2 149.6h1M134.0 134.4h1M130.8 123.6h1M137.9 126.1h1M139.0 143.6h1M138.5 163.9h1M138.7 124.1h1M133.5 135.0h1M133.1 123.3h1M134.1 163.6h1M136.7 127.9h1M128.8 158.8h1M129.4 161.9h1M129.0 162.7h1M141.2 164.2h1M142.8 152.5h1M128.8 135.1h1M139.3 130.9h1M135.5 150.2h1M133.7 138.0h1M134.1 159.9h1M133.0 146.4h1M132.9 127.5h1M138.5 155.7h1M140.2 154.6h1M133.4 147.6h1M138.3 162.9h1M137.2 134.7h1M137.4 148.0h1M137.4 150.4h1M141.0 121.8h1M130.5 127.5h1M136.5 123.5h1M131.7 140.5h1M130.5 134.3h1M128.5 138.8h1M126.9 142.7h1M132.0 147.8h1M134.7 125.3h1M136.2 137.3h1M133.5 148.6h1M141.8 160.7h1M128.9 157.2h1M141.0 162.6h1M129.6 163.4h1M136.3 132.6h1M128.3 133.7h1M138.0 154.4h1M136.8 130.3h1M125.2 131.2h1M128.5 155.8h1M129.1 149.5h1M128.1 151.5h1M133.2 148.2h1M130.1 144.9h1M137.1 154.7h1M135.2 132.5h1M130.2 158.6h1M138.1 140.3h1M139.7 162.1h1M141.5 148.3h1M133.6 125.2h1M136.2 127.8h1M130.1 143.7h1M131.5 140.7h1M141.2 135.0h1M128.6 145.4h1M134.9 131.3h1M142.9 164.0h1M130.2 149.0h1M136.1 127.4h1M135.8 126.4h1M130.4 137.7h1M136.5 163.4h1M125.6 159.6h1M143.7 156.8h1M136.7 142.0h1M132.5 145.4h1M131.8 127.5h1M127.7 160.0h1M134.2 128.5h1M140.7 144.6h1M128.2 146.2h1M126.1 133.3h1M137.0 143.7h1M134.5 149.7h1M144.8 160.5h1M130.8 144.2h1M138.9 125.5h1M125.8 142.7h1M129.1 158.9h1M140.1 129.4h1M143.8 144.0h1M128.0 137.4h1M141.9 141.1h1M134.8 127.4h1M132.6 149.0h1M129.3 157.3h1M143.3 135.6h1M130.3 160.8h1M143.5 141.3h1M126.5 132.5h1M132.5 159.8h1M131.8 135.4h1M139.6 157.9h1M134.9 122.8h1M129.0 144.3h1M128.5 129.7h1M135.5 151.1h1M137.8 133.5h1M139.8 141.3h1M135.8 131.3h1M125.3 157.0h1M138.3 150.0h1M128.4 136.8h1M138.2 133.2h1M145.5 134.7h1M127.4 131.9h1M137.2 161.1h1M126.8 155.5h1M138.1 156.2h1M125.2 135.7h1M137.9 162.5h1M126.7 145.4h1M125.6 146.1h1M130.8 152.1h1M131.4 157.9h1M137.6 150.5h1M140.9 143.5h1M141.0 128.7h1M145.0 154.5h1M124.6 157.2h1M131.2 139.4h1M127.5 121.6h1M144.3 149.2h1M133.8 133.1h1M135.5 127.3h1M129.5 154.2h1M137.6 163.2h1M139.7 132.6h1M130.5 144.3h1M128.4 141.3h1M126.2 135.1h1M133.3 126.7h1M134.0 157.4h1M142.1 163.1h1M133.8 151.9h1M140.0 129.6h1M133.7 162.4h1M132.9 145.1h1M131.7 138.9h1M130.3 152.4h1M135.4 157.9h1M138.0 133.4h1M129.9 159.9h1M140.5 127.9h1M144.0 145.6h1M134.4 154.7h1M135.8 133.4h1M135.1 130.4h1M144.3 156.3h1M125.4 127.9h1M133.0 164.5h1M141.8 146.7h1M138.3 141.3h1M143.0 153.2h1M130.9 134.6h1M140.7 153.9h1M135.8 130.8h1M135.2 161.4h1M135.6 160.9h1M143.4 130.5h1M134.0 156.6h1M142.5 125.9h1M138.7 136.5h1M144.5 149.5h1M128.6 133.6h1M134.3 126.6h1M140.9 127.1h1M131.4 124.9h1M131.7 142.2h1M143.3 139.8h1M134.7 133.5h1M133.8 158.2h1M134.5 164.0h1M136.9 146.6h1M138.7 154.3h1M126.1 154.2h1M131.0 129.2h1M134.5 150.6h1M139.7 134.8h1M142.4 149.1h1M132.4 140.3h1M136.5 124.5h1M143.9 154.6h1M132.8 138.4h1M137.9 134.8h1M141.1 164.4h1M132.6 160.2h1M133.4 143.8h1M140.2 130.6h1M140.6 135.2h1M130.1 131.3h1M139.9 124.7h1M142.5 133.1h1M127.5 133.5h1M134.9 153.9h1M135.6 163.3h1M138.0 149.7h1M144.5 138.6h1M138.1 158.9h1M130.0 135.4h1M129.4 148.9h1M134.1 148.0h1M135.6 151.4h1M129.6 145.5h1M130.0 149.7h1M136.3 152.9h1M135.1 132.1h1M138.3 162.5h1M143.9 162.8h1M140.2 159.4h1M134.4 140.7h1M142.5 144.7h1M128.6 144.1h1M133.2 161.9h1M131.6 155.9h1M133.7 164.2h1M141.3 141.2h1M127.6 155.5h1M139.3 123.8h1M131.2 131.6h1M137.1 162.2h1M142.6 154.2h1M135.8 139.7h1M137.6 153.0h1M135.7 125.5h1M130.7 133.3h1M131.6 123.5h1M141.2 137.0h1M125.4 150.4h1M135.1 127.1h1M141.7 153.7h1M139.3 131.0h1M127.3 141.3h1M140.0 149.1h1M130.6 149.4h1M130.1 153.4h1M143.7 136.4h1M128.2 126.4h1M130.0 158.9h1M135.6 128.5h1M141.3 138.7h1M144.7 162.9h1M132.0 147.4h1M135.0 134.1h1M126.2 154.3h1M130.9 158.3h1M138.8 151.8h1M130.4 128.7h1M131.4 148.6h1M128.2 141.5h1M133.9 145.9h1M137.4 133.1h1M134.8 162.4h1M128.7 126.3h1M131.7 143.7h1M139.6 163.3h1M143.6 161.7h1M139.9 136.0h1M144.7 161.5h1M138.6 148.7h1M135.9 143.9h1M139.8 162.4h1M136.6 143.4h1M144.5 143.0h1M131.5 129.0h1M141.4 158.4h1M129.6 163.7h1M138.8 149.1h1M129.0 135.3h1M138.8 164.6h1M139.4 140.4h1M136.1 160.0h1M132.5 127.5h1M131.1 127.0h1M137.0 125.5h1M140.4 132.2h1M142.7 145.9h1M133.5 136.6h1M135.3 135.2h1M135.3 134.6h1M141.1 163.1h1M134.4 157.6h1M133.3 133.9h1M129.2 143.9h1M142.6 136.0h1M127.6 136.1h1M129.2 126.4h1M128.2 130.8h1M129.8 129.6h1M139.9 121.7h1M141.7 134.5h1M125.5 136.0h1M137.1 127.0h1M132.6 153.5h1M135.3 160.1h1M133.4 128.7h1M136.2 146.5h1M126.3 134.5h1M127.7 148.7h1M133.3 143.9h1M131.7 144.6h1M130.4 157.8h1M133.6 136.0h1M144.6 152.7h1M129.5 142.6h1M130.7 130.6h1M138.5 143.5h1M128.8 158.3h1M136.1 131.8h1M129.7 128.2h1M141.9 153.7h1M130.2 158.0h1M142.2 157.4h1M134.6 149.3h1M143.3 129.0h1M129.7 153.2h1M128.4 148.5h1M134.7 157.4h1M131.4 127.2h1M131.4 155.2h1M137.2 127.8h1M132.0 157.8h1M137.9 160.9h1M139.0 123.8h1M125.9 154.8h1M141.2 151.8h1M139.4 161.8h1M137.7 163.2h1M134.4 147.5h1M132.9 137.3h1M139.8 158.2h1M139.2 125.9h1M142.0 143.0h1M137.5 151.9h1M138.0 143.6h1M143.2 148.8h1M127.3 148.2h1M127.9 154.3h1M139.8 145.4h1M137.1 127.5h1M139.4 148.9h1M140.6 163.9h1M129.5 132.2h1M135.1 133.6h1M142.3 157.1h1M133.9 142.4h1M131.9 126.8h1M126.5 134.5h1M127.3 127.5h1M133.2 139.5h1M144.9 133.6h1M134.6 159.8h1M132.2 132.4h1M122.6 148.2h1M135.6 143.9h1M132.9 152.6h1M127.1 149.6h1M143.9 140.2h1M145.1 128.1h1M139.0 159.9h1M137.8 126.2h1M126.4 127.5h1M124.6 153.6h1M144.2 132.6h1M132.9 142.3h1M133.8 127.0h1M138.0 143.2h1M137.4 161.7h1M132.3 148.9h1M130.2 151.2h1M145.1 164.5h1M140.1 145.6h1M132.9 145.3h1M134.3 153.3h1M138.3 128.5h1M137.5 128.9h1M146.0 134.2h1M133.3 123.6h1M136.0 143.9h1M141.5 140.1h1M133.3 160.0h1M128.8 161.9h1M144.7 140.7h1M140.0 140.6h1M130.9 148.4h1M131.1 125.6h1M141.3 135.7h1M141.4 124.5h1M139.2 126.2h1M131.7 161.3h1M139.9 129.0h1M143.3 129.1h1M144.9 152.1h1M139.1 132.6h1M135.5 146.6h1M122.8 135.2h1M136.8 147.1h1M132.4 158.3h1M131.9 153.3h1M142.1 128.7h1M133.4 162.4h1M127.0 155.4h1M136.8 155.5h1M141.8 134.9h1M132.6 157.5h1M145.2 140.6h1M125.1 136.4h1M142.5 154.1h1M144.8 154.0h1M130.2 131.4h1M131.2 137.9h1M136.2 124.1h1M128.4 141.3h1M131.7 122.1h1M143.7 147.3h1M137.7 147.2h1M138.8 162.9h1M135.4 159.4h1M137.4 164.7h1M125.8 159.6h1M129.9 154.7h1M140.3 138.5h1M136.0 145.8h1M132.8 134.9h1M124.7 145.5h1M143.6 139.8h1M131.0 149.1h1M134.1 137.7h1M134.5 132.8h1M137.6 156.2h1M127.8 145.2h1M130.3 161.5h1M136.1 158.1h1M140.9 140.4h1M136.1 125.3h1M142.5 134.9h1M133.7 132.1h1M132.6 127.6h1M139.7 127.8h1M125.4 151.7h1M131.6 160.2h1M142.4 157.9h1M139.2 125.6h1M139.9 122.0h1M134.4 139.7h1M132.6 135.0h1M131.1 143.1h1M140.0 138.9h1M143.1 160.2h1M145.1 157.2h1M124.6 140.0h1M140.3 123.2h1M133.7 128.3h1M138.5 150.5h1M131.8 159.2h1M131.5 144.1h1M132.8 156.4h1M137.2 151.5h1M131.9 155.3h1M122.4 151.9h1M135.8 125.1h1M139.4 152.6h1M142.8 126.7h1M133.4 131.0h1M137.6 145.0h1M134.0 143.3h1M136.1 135.6h1M139.7 147.8h1M138.3 123.7h1M137.5 159.9h1M140.5 144.5h1M131.8 140.5h1M131.9 162.7h1M136.9 148.1h1M130.9 139.1h1M136.1 159.9h1M136.8 133.5h1M130.7 130.1h1M142.5 154.3h1M137.1 143.7h1M140.3 148.3h1M133.5 126.5h1M135.3 122.4h1M130.6 161.6h1M128.4 133.3h1M144.1 147.9h1M136.0 141.4h1M124.2 132.4h1M127.8 128.0h1M139.1 163.9h1M126.6 127.6h1M133.5 155.2h1M141.5 150.6h1M145.5 134.5h1M131.0 137.0h1M133.7 139.5h1M126.8 133.2h1M141.4 146.1h1M134.1 133.5h1M135.3 138.6h1M141.3 126.6h1M138.9 136.2h1M136.6 147.2h1M130.1 135.1h1M131.6 164.6h1M129.6 123.8h1M138.0 127.0h1M131.7 145.6h1M139.9 145.5h1M134.0 155.3h1M140.8 147.3h1M139.9 145.4h1M139.9 156.1h1M138.2 125.4h1M129.7 134.2h1M127.3 145.4h1M128.3 146.9h1M135.5 129.3h1M128.0 130.4h1M137.6 127.5h1M129.5 153.0h1M138.9 158.8h1M132.9 139.2h1M129.2 136.1h1M143.7 164.0h1M133.4 153.3h1M143.2 138.3h1M129.1 139.4h1M140.3 157.1h1M143.1 144.9h1M140.7 162.6h1M140.6 155.4h1M136.6 132.7h1M142.2 129.3h1M134.7 154.9h1M128.9 153.0h1M135.3 123.1h1M138.1 160.1h1M127.1 131.7h1M141.7 129.9h1M143.5 133.6h1M134.5 139.3h1M127.7 145.6h1M136.8 131.4h1M140.7 161.5h1M146.7 145.2h1M142.0 125.8h1M130.0 153.0h1M144.7 127.9h1M143.9 155.5h1M140.1 155.9h1M130.9 140.8h1M132.2 147.0h1M128.1 153.7h1M125.8 149.1h1M128.6 151.4h1M132.9 129.2h1M131.3 123.4h1M135.3 134.7h1M140.1 160.5h1M129.2 128.5h1M144.4 145.5h1M129.9 125.4h1M134.2 162.4h1M135.5 143.7h1M132.8 137.8h1M125.1 151.0h1M127.6 132.2h1M135.9 120.5h1M127.8 161.3h1M138.2 156.0h1M135.8 157.9h1M130.6 164.3h1M140.6 132.1h1M146.7 153.7h1M131.4 137.7h1M143.1 140.2h1M129.3 132.2h1M134.6 149.3h1M140.3 149.7h1M131.2 125.3h1M131.2 149.1h1M145.6 156.8h1M137.6 157.0h1M139.9 164.2h1M134.8 148.2h1M143.3 152.4h1M130.5 131.8h1M128.0 158.4h1M126.2 142.0h1M128.6 138.5h1M133.2 138.8h1M134.1 137.8h1M132.7 156.0h1M138.5 149.0h1M131.5 141.2h1M130.7 149.0h1M128.8 134.8h1M138.5 153.7h1M137.7 155.1h1M140.8 138.1h1M127.5 157.2h1M132.4 152.9h1M140.9 156.9h1M139.6 125.4h1M135.9 148.2h1M137.4 156.9h1M146.2 144.8h1M128.2 147.2h1M129.5 148.4h1M128.0 137.8h1M142.7 124.8h1M128.4 136.8h1M135.6 128.2h1M137.2 138.2h1M125.2 142.6h1M133.0 145.5h1M140.4 151.8h1M130.3 162.7h1M130.8 147.7h1M142.8 157.8h1M139.9 141.5h1M135.6 133.5h1M141.8 143.9h1M141.8 147.2h1M140.1 145.3h1M136.9 154.6h1M135.8 149.9h1M140.8 153.4h1M140.4 164.1h1M130.3 143.9h1M134.9 147.5h1M129.4 140.9h1M141.7 149.3h1M138.2 124.6h1M133.3 125.2h1M130.7 125.6h1M134.1 133.8h1M133.8 123.4h1M127.5 133.9h1M141.2 155.1h1M139.8 149.1h1M139.3 140.4h1M136.1 145.1h1M139.4 163.1h1M126.0 157.6h1M135.6 147.1h1M133.9 131.2h1M143.0 128.0h1M136.8 127.8h1M135.9 156.5h1M141.9 143.5h1M143.0 141.5h1M129.4 150.4h1M139.2 156.1h1M138.7 124.7h1M144.5 149.2h1M135.3 157.6h1M136.7 155.3h1M142.1 142.0h1M131.2 161.6h1M133.7 128.2h1M135.8 158.3h1M138.1 136.7h1M132.1 133.8h1M129.1 164.0h1M136.7 121.7h1M135.6 134.8h1M133.2 157.5h1M131.9 153.7h1M143.0 157.7h1M133.8 131.6h1M136.2 146.4h1M137.1 143.4h1M127.1 148.3h1M140.6 139.5h1M128.0 143.8h1M141.0 129.0h1M132.9 149.7h1M136.2 135.7h1M135.4 158.6h1M134.1 153.9h1M123.8 148.0h1M140.2 132.5h1M137.2 139.0h1M135.8 160.2h1M140.1 149.7h1M134.9 134.4h1M132.2 157.6h1M138.3 149.9h1M139.4 132.4h1M129.9 151.9h1M139.1 137.7h1M145.6 130.3h1M142.0 163.5h1M136.2 135.3h1M125.4 157.0h1M129.6 153.7h1M139.4 124.4h1M133.5 138.9h1M138.6 163.9h1M138.5 134.7h1M132.8 145.6h1M140.9 149.5h1M130.9 132.7h1M140.0 143.9h1M130.4 138.2h1M126.9 130.9h1M131.3 163.0h1M142.5 148.4h1M132.3 155.6h1M135.7 127.4h1M135.0 126.0h1M124.2 132.9h1M130.2 132.4h1M140.9 157.5h1M134.3 149.3h1M131.3 150.1h1M134.0 137.9h1M138.8 148.3h1M131.3 126.9h1M140.7 145.5h1M141.1 150.6h1M134.3 161.7h1M141.3 143.9h1M141.1 160.5h1M136.4 142.0h1M139.7 157.8h1M126.7 133.4h1M142.1 146.8h1M140.1 127.5h1M126.6 151.3h1M135.2 146.2h1M139.1 161.9h1M131.0 137.3h1M129.9 131.1h1M135.3 127.3h1M141.1 153.1h1M135.0 163.1h1M133.1 158.7h1M142.4 157.0h1M144.5 163.0h1M139.0 130.4h1M131.1 162.3h1M141.4 136.7h1M126.1 157.6h1M139.0 131.0h1M132.1 137.8h1M129.0 133.6h1M136.1 133.4h1M133.7 163.6h1M126.5 147.9h1M136.1 144.1h1M144.7 160.3h1M131.7 162.5h1M130.0 157.8h1M144.1 149.7h1M144.3 140.8h1M140.2 151.4h1M138.2 151.6h1M138.4 138.0h1M137.1 129.0h1M128.2 138.0h1M134.1 149.4h1M134.1 161.0h1M131.7 131.6h1M133.4 126.1h1M133.0 156.6h1M140.4 157.3h1M138.8 136.9h1M143.4 126.0h1M138.6 124.0h1M128.4 159.8h1M137.6 134.5h1M141.7 164.3h1M127.9 148.9h1M135.0 132.6h1M134.1 161.3h1M131.1 150.3h1M141.5 137.0h1M133.5 144.5h1M141.9 144.0h1M141.3 131.9h1M135.1 147.6h1M135.7 141.1h1M141.0 151.1h1M135.5 132.2h1M138.8 151.3h1M142.8 127.6h1M129.3 153.4h1M125.8 152.3h1M130.1 134.9h1M131.2 162.5h1M131.5 162.7h1M143.0 140.6h1M137.2 147.0h1M137.5 164.1h1M137.5 154.5h1M142.7 142.1h1M144.4 152.4h1M141.2 128.9h1M134.9 160.7h1M148.0 134.9h1M138.5 151.6h1M130.2 160.6h1M131.4 133.0h1M143.3 164.6h1M136.4 154.5h1M129.8 130.0h1M131.1 154.2h1M142.2 162.0h1M141.9 143.9h1M138.6 143.6h1M135.8 156.5h1M135.6 147.7h1M134.8 159.3h1M141.5 150.6h1M124.8 144.1h1M134.3 152.1h1M141.7 139.7h1M139.5 136.7h1M141.2 150.5h1M137.2 151.8h1M144.7 135.0h1M136.1 138.9h1M133.2 153.0h1M133.7 158.6h1M142.0 145.8h1M136.8 160.2h1M139.4 152.6h1M141.3 138.7h1M130.8 151.1h1M141.4 147.7h1M139.1 136.1h1M131.0 139.4h1M126.5 140.2h1M142.6 136.4h1M130.0 142.7h1M134.2 143.9h1M137.2 129.8h1M129.1 156.6h1M126.3 130.4h1M137.5 146.5h1M132.7 157.1h1M134.6 129.6h1M136.6 147.8h1M135.4 152.8h1M135.8 123.7h1M132.7 139.4h1M127.8 133.9h1M141.5 150.3h1M140.8 163.5h1M137.6 127.8h1M137.7 129.1h1M129.8 146.7h1M133.6 153.2h1M131.4 133.1h1M142.0 160.4h1M147.4 156.1h1M141.0 159.0h1M137.4 122.8h1M133.2 163.4h1M126.4 158.8h1M137.7 126.7h1M139.9 133.0h1M143.1 137.0h1M143.1 145.0h1M128.8 151.3h1M132.9 152.3h1M128.1 132.7h1M135.9 136.6h1M131.5 145.0h1M127.7 150.7h1M128.2 147.5h1M143.6 152.4h1M135.3 139.4h1M147.2 147.3h1M136.8 138.9h1M131.8 148.5h1M143.6 127.9h1M128.4 154.1h1M126.5 140.5h1M135.9 145.9h1M137.1 155.0h1M135.5 125.4h1M142.0 137.8h1M140.4 154.0h1M137.5 125.3h1M130.5 142.2h1M131.8 163.8h1M133.3 157.8h1M142.5 163.0h1M143.6 126.8h1M128.2 137.2h1M142.3 153.1h1M140.9 155.4h1M146.1 139.8h1M145.2 127.7h1M131.9 129.8h1M140.9 163.6h1M142.2 128.0h1M134.2 131.2h1M136.6 128.4h1M129.1 162.9h1M129.9 153.0h1M131.6 144.6h1M125.7 159.7h1M134.1 156.1h1M140.6 131.4h1M146.2 154.4h1M132.1 123.0h1M141.5 135.2h1M136.7 143.0h1M132.8 138.1h1M142.8 147.8h1M130.0 151.5h1M129.8 132.1h1M132.1 138.8h1M134.7 154.1h1M124.9 139.5h1M131.6 156.1h1M129.4 143.2h1M136.9 121.9h1M140.5 151.2h1M131.4 126.3h1M139.3 159.3h1M126.7 153.7h1M136.2 141.3h1M139.6 124.2h1M140.7 146.7h1M130.4 149.6h1M134.1 161.5h1M140.0 162.8h1M139.8 133.6h1M128.9 145.7h1M126.9 163.0h1M134.7 126.1h1M145.6 141.9h1M133.3 153.6h1M145.8 149.9h1M135.4 160.6h1M138.3 139.6h1M139.3 160.8h1M144.8 152.1h1M136.4 158.7h1M144.6 146.1h1M131.4 136.8h1M127.0 156.4h1M136.3 133.4h1M138.2 129.6h1M143.3 142.8h1M142.8 152.4h1M134.6 155.8h1M135.4 156.7h1M132.4 127.3h1M133.0 157.0h1M137.7 158.8h1M142.6 127.7h1M127.7 130.7h1M130.9 142.6h1M139.9 158.4h1M140.0 163.8h1M142.0 164.5h1M131.9 155.5h1M127.7 150.1h1M132.8 127.4h1M137.0 130.7h1M134.3 160.4h1M130.7 150.6h1M140.0 140.7h1M130.6 130.2h1M141.2 152.4h1M132.2 125.9h1M127.7 157.8h1M137.8 134.3h1M139.2 128.5h1M138.8 159.2h1M136.8 146.3h1M127.8 128.5h1M140.8 149.4h1M130.1 164.4h1M131.5 125.7h1M141.7 124.9h1M130.2 123.9h1M137.2 137.4h1M127.6 129.8h1M131.4 121.2h1M135.3 144.9h1M142.7 143.0h1M134.1 161.2h1M142.4 161.7h1M139.6 145.5h1M141.8 144.7h1M135.5 132.1h1M138.3 151.0h1M140.6 134.1h1M144.1 157.3h1M140.0 142.2h1M131.7 145.3h1M137.3 142.2h1M139.2 159.0h1M137.1 128.7h1M138.1 146.8h1M127.9 161.5h1M142.1 156.4h1M132.2 132.3h1M141.2 129.2h1M141.2 125.0h1M133.0 135.8h1M136.4 137.9h1M134.0 128.0h1M131.8 141.0h1M137.2 153.7h1M140.6 130.5h1M135.3 134.6h1M127.9 158.9h1M129.5 133.0h1M144.2 143.2h1M139.4 145.9h1M137.0 164.0h1M143.3 152.7h1M134.7 134.0h1M130.5 160.5h1M130.2 134.9h1M132.7 143.4h1M137.8 138.8h1M140.7 164.3h1M129.3 144.1h1M134.9 161.7h1M136.7 149.7h1M139.9 150.7h1M131.0 159.9h1M136.4 160.2h1M128.6 131.0h1M129.4 144.0h1M139.0 150.7h1M134.5 152.9h1M137.8 158.9h1M143.2 152.9h1M131.5 153.6h1M131.3 132.6h1M139.1 132.3h1M131.6 133.9h1M138.0 125.9h1M137.0 121.7h1M133.5 135.4h1M131.9 126.5h1M131.7 140.3h1M137.4 145.3h1M127.8 156.8h1M129.2 153.1h1M140.2 133.1h1M142.8 160.9h1M131.9 130.4h1M142.0 146.0h1M127.4 154.9h1M141.7 160.6h1M129.3 135.5h1M132.6 140.1h1M139.2 146.4h1M145.7 139.8h1M134.5 151.5h1M138.8 161.1h1M131.3 142.0h1M140.1 148.0h1M139.4 138.7h1M141.2 132.7h1M129.0 155.9h1M125.9 150.0h1M129.8 147.9h1M137.1 139.3h1M131.0 153.8h1M125.7 156.0h1M134.2 136.0h1M127.9 157.5h1M138.1 141.1h1M144.0 146.4h1M130.7 150.1h1M143.0 160.0h1M140.7 152.1h1M139.7 129.3h1M130.6 134.5h1M134.8 139.5h1M138.7 129.9h1M142.9 139.5h1M128.8 158.2h1M132.2 138.4h1M134.0 159.6h1M139.2 126.8h1M126.4 163.2h1M127.8 131.6h1M139.8 157.1h1M141.1 154.6h1M138.5 159.6h1M128.6 130.1h1M125.4 141.4h1M130.5 141.4h1M137.8 140.9h1M146.9 151.2h1M129.0 128.4h1M128.9 153.2h1M146.6 146.3h1M131.6 123.5h1M135.7 151.6h1M128.5 157.6h1M140.9 133.6h1M127.8 130.2h1M139.3 127.6h1M135.0 162.8h1M131.2 140.4h1M131.4 156.4h1M145.8 142.2h1M136.7 147.6h1M143.7 134.8h1M133.1 162.5h1M134.6 125.7h1M133.7 130.3h1M132.4 126.2h1M127.1 150.8h1M133.3 123.5h1M140.7 151.0h1M135.2 158.4h1M140.0 126.0h1M129.8 160.7h1M142.0 125.1h1M139.1 130.8h1M134.8 135.4h1M135.2 157.4h1M144.3 125.8h1M139.1 161.1h1M139.9 147.2h1M136.0 161.7h1M134.3 155.3h1M129.9 164.5h1M139.0 121.5h1M136.8 133.2h1M135.5 164.6h1M133.7 129.3h1M133.5 145.7h1M135.1 131.6h1M127.3 131.1h1M129.6 160.2h1M131.7 135.3h1M130.1 136.8h1M141.4 158.7h1M143.8 158.8h1M144.8 133.7h1M134.0 154.5h1M136.2 127.7h1M127.9 133.3h1M128.6 162.7h1M127.8 140.6h1M127.3 133.7h1M135.1 144.1h1M125.6 139.2h1M139.1 139.5h1M134.1 125.2h1M132.2 132.2h1M128.9 145.1h1M139.6 122.1h1M137.2 160.0h1M133.5 155.0h1M139.3 151.2h1M140.9 131.5h1M142.9 151.3h1M140.5 137.3h1M140.0 156.7h1M126.7 149.6h1M135.9 149.1h1M137.6 162.6h1M128.1 140.4h1M137.5 138.9h1M139.1 136.5h1M130.9 153.4h1M137.0 138.5h1M141.5 161.6h1M131.5 123.4h1M130.2 163.2h1M137.1 132.7h1M131.7 131.1h1M130.9 154.5h1M145.3 163.6h1M143.3 129.4h1M126.0 129.1h1M132.8 162.1h1M137.6 147.4h1M142.5 154.6h1M136.9 127.1h1M134.5 150.3h1M130.3 133.4h1M142.8 157.3h1M138.5 129.4h1M130.3 136.6h1M140.9 134.7h1M130.0 147.2h1M138.0 150.2h1M136.3 142.7h1M125.6 145.2h1M143.2 135.7h1M136.8 149.1h1M133.4 147.7h1M138.4 150.4h1M137.8 161.3h1M134.4 143.1h1M131.9 153.8h1M132.4 137.9h1M145.1 139.6h1M135.8 130.8h1M133.1 152.7h1M134.7 143.6h1M131.7 150.4h1M138.6 160.6h1M127.5 148.5h1M145.9 150.1h1M132.4 146.5h1M143.9 138.1h1M146.0 143.4h1M141.8 129.3h1M136.9 142.8h1M141.3 135.1h1M140.1 139.3h1M131.9 148.0h1M142.0 127.6h1M131.6 121.5h1M132.8 155.0h1M130.8 162.1h1M145.2 133.7h1M129.9 137.6h1M128.8 128.5h1M127.8 131.4h1M132.4 153.8h1M131.8 138.5h1M143.2 140.6h1M128.9 150.0h1M140.3 161.2h1M129.4 134.6h1M128.7 161.6h1M138.5 146.2h1M129.4 128.2h1M147.1 145.9h1M132.2 152.9h1M133.8 142.4h1M140.3 164.3h1M136.1 138.2h1M135.8 157.0h1M133.2 138.8h1M138.2 164.0h1M143.3 153.7h1M126.4 153.8h1M128.1 156.0h1M141.6 150.0h1M133.7 147.3h1M134.8 162.8h1M142.7 124.0h1M141.8 126.0h1M127.3 131.5h1M134.1 142.9h1M131.9 125.0h1M139.6 140.1h1M129.9 155.6h1M128.4 158.4h1M140.8 161.3h1M135.3 154.4h1M138.5 123.6h1M132.4 144.6h1M130.1 153.8h1M133.4 163.5h1M138.5 148.1h1M142.9 149.3h1M142.5 154.1h1M139.6 152.3h1M142.4 157.2h1M131.1 128.6h1M130.1 157.7h1M130.7 144.1h1M130.6 152.8h1M138.3 147.0h1M140.7 162.5h1M137.2 157.4h1M128.7 139.4h1M139.0 140.6h1M122.6 152.5h1M137.4 151.9h1M135.3 120.5h1M138.1 139.6h1M132.3 150.4h1M130.0 154.2h1M144.3 125.2h1M135.0 154.2h1M132.7 132.0h1M130.0 153.0h1M132.0 148.5h1M133.4 134.0h1M132.5 125.0h1M139.2 140.1h1M136.9 143.6h1M141.0 130.4h1M138.2 151.5h1M138.8 149.3h1M139.1 164.4h1M143.7 149.7h1M127.0 133.2h1M143.7 129.5h1M134.6 130.3h1M137.5 155.6h1M125.0 128.2h1M137.5 164.7h1M141.4 147.5h1M131.2 148.5h1M125.9 142.0h1M129.2 138.9h1M139.1 150.5h1M146.1 130.3h1M127.8 126.5h1M142.1 127.3h1M134.6 124.4h1M131.9 139.0h1M131.1 153.2h1M134.4 133.7h1M128.5 155.2h1M130.8 152.1h1M136.9 162.0h1M132.5 164.4h1M144.8 149.4h1M127.6 144.3h1M137.6 156.2h1M135.3 159.6h1M129.4 152.0h1M127.5 156.2h1M135.3 147.2h1M136.4 132.4h1M138.6 147.4h1M131.2 125.6h1M144.0 131.0h1M133.8 136.6h1M136.2 154.4h1M136.3 148.8h1M131.2 130.2h1M132.6 129.5h1M128.4 150.2h1M132.1 144.2h1M133.5 153.2h1M137.0 160.7h1M135.9 134.7h1M129.8 160.2h1M143.3 145.1h1M134.6 140.1h1M144.4 139.8h1M134.5 146.4h1M132.3 126.0h1M129.4 141.7h1M138.3 154.6h1M132.2 146.9h1M139.1 155.4h1M130.4 160.6h1M135.5 146.4h1M145.2 140.7h1M126.5 151.1h1M123.7 150.3h1M132.2 146.7h1M137.4 164.7h1M140.2 157.2h1M126.2 140.1h1M142.1 146.5h1M136.9 140.2h1M135.7 133.1h1M135.5 131.4h1M129.3 131.8h1M143.7 131.8h1M137.7 157.8h1M144.9 131.9h1M138.3 124.7h1M137.6 158.7h1M138.6 140.3h1M134.2 146.5h1M125.1 152.6h1M146.2 133.3h1M126.0 151.5h1M132.2 132.0h1M131.0 153.5h1M142.7 141.0h1M139.6 123.7h1M133.7 139.1h1M136.3 158.7h1M139.4 153.1h1M134.5 149.8h1M132.2 125.6h1M136.3 156.7h1M128.4 163.2h1M130.6 132.6h1M140.3 131.3h1M129.7 125.5h1M131.5 124.5h1M138.0 138.3h1M127.0 162.3h1M129.6 134.5h1M142.3 139.1h1M126.5 130.5h1M142.3 155.3h1M139.2 162.6h1M139.6 151.7h1M137.2 155.3h1M140.1 135.0h1M133.7 127.8h1M129.2 163.0h1M137.7 136.2h1M130.8 128.4h1M141.3 151.1h1M140.8 155.1h1M137.0 163.7h1M141.1 155.2h1M137.2 161.6h1M143.0 136.4h1M140.2 149.2h1M141.1 136.2h1M136.7 141.7h1M140.5 143.4h1M135.2 153.1h1M141.4 142.9h1M134.4 144.6h1M142.7 133.6h1M137.9 149.7h1M127.2 137.3h1M128.9 134.6h1M129.2 138.0h1M128.8 140.2h1M133.3 141.3h1M138.7 143.6h1M141.0 150.4h1M136.6 143.8h1M132.4 134.4h1M140.0 133.5h1M140.0 134.5h1M132.7 158.4h1M136.4 144.7h1M143.5 134.4h1M130.6 131.6h1M130.8 163.1h1M141.4 151.5h1M139.9 155.7h1M136.3 135.0h1M139.8 135.1h1M130.1 151.9h1M126.4 153.8h1M128.2 131.3h1M134.4 164.5h1M142.7 151.6h1M128.7 138.6h1M144.1 162.1h1M136.0 143.8h1M129.9 137.4h1M141.4 145.5h1M137.1 136.6h1M132.6 138.6h1M143.0 130.4h1M138.1 152.5h1M145.1 128.5h1M146.1 151.4h1M140.5 133.0h1M137.4 134.6h1M137.7 148.5h1M131.4 120.8h1M129.7 141.8h1M131.4 151.0h1M135.4 148.3h1M128.4 152.6h1M144.2 138.5h1M130.9 145.2h1M142.3 143.6h1M131.1 144.0h1M142.2 137.9h1M144.0 127.6h1M131.1 159.7h1M145.5 154.1h1M137.5 143.5h1M137.4 150.8h1M128.8 129.0h1M144.1 151.9h1M129.1 134.2h1M147.0 132.8h1M130.4 129.0h1M125.4 155.0h1M126.3 156.2h1M133.6 131.9h1M143.9 159.4h1M132.0 132.1h1M144.9 158.9h1M139.8 137.1h1M136.2 143.4h1M135.1 161.7h1M133.2 163.9h1M128.5 131.9h1M142.1 154.0h1M139.5 155.6h1M128.7 124.7h1M128.3 139.7h1M130.7 162.4h1M132.5 131.5h1M136.0 138.2h1M133.1 155.3h1M141.0 134.5h1M134.1 154.9h1M126.4 125.1h1M132.2 135.5h1M136.0 132.9h1M130.5 162.1h1M131.8 153.5h1M130.2 145.1h1M140.6 137.9h1M127.0 145.5h1M146.4 131.7h1M137.9 158.4h1M129.9 150.2h1M142.7 130.7h1M133.0 145.5h1M129.2 159.4h1M139.3 141.1h1M143.0 125.3h1M139.0 136.9h1M141.4 133.1h1M127.9 157.2h1M133.5 151.0h1M124.4 128.3h1M129.8 148.6h1M144.5 137.2h1M136.9 133.6h1M127.8 140.7h1M134.5 130.5h1M133.5 130.9h1M129.7 154.0h1M139.8 158.8h1M140.2 138.5h1M128.2 128.9h1M143.5 146.0h1M127.1 140.7h1M126.9 126.1h1M132.7 142.1h1M135.9 152.7h1M131.5 128.7h1M125.5 153.4h1M127.5 153.7h1M130.2 139.1h1M137.2 157.3h1M128.9 128.2h1M127.7 140.7h1M135.0 119.2h1M146.0 137.0h1M140.6 152.3h1M141.1 140.2h1M132.9 141.2h1M142.2 163.7h1M129.5 137.4h1M143.6 143.9h1M136.0 141.7h1M132.3 160.8h1M139.0 142.5h1M129.3 122.5h1M140.5 147.0h1M136.2 138.3h1M139.3 130.9h1M137.1 152.2h1M135.7 135.3h1M126.9 156.9h1M137.6 156.9h1M132.5 138.1h1M129.7 139.4h1M138.4 160.8h1M142.1 130.6h1M141.9 129.2h1M129.6 147.2h1M134.3 131.8h1M137.0 133.6h1M140.6 137.7h1M140.3 161.3h1M142.6 124.0h1M130.5 148.0h1M135.2 160.2h1M130.0 142.8h1M137.3 156.7h1M132.6 133.9h1M133.7 143.4h1M141.5 133.9h1M143.0 137.1h1M129.2 156.9h1M141.4 132.7h1M131.4 126.6h1M128.1 145.4h1M127.5 134.9h1M136.1 125.3h1M130.2 162.9h1M130.4 157.7h1M132.3 136.9h1M144.7 134.2h1M133.0 164.7h1M140.7 130.2h1M138.5 147.1h1M136.0 128.0h1M137.2 163.2h1M128.7 153.1h1M141.8 142.1h1M136.8 149.6h1M141.2 132.0h1M131.2 143.5h1M141.4 145.2h1M130.8 132.2h1M127.4 125.2h1M133.3 125.1h1M128.2 129.5h1M138.9 145.1h1M146.2 137.8h1M136.0 145.4h1M136.3 141.5h1M129.4 161.7h1M136.9 126.0h1M143.4 143.3h1M136.2 136.8h1M145.9 145.5h1M132.3 159.9h1M135.3 132.5h1M129.0 145.5h1M126.5 142.6h1M128.1 159.8h1M134.5 164.3h1M139.4 136.5h1M130.3 149.9h1M131.5 134.8h1M134.1 145.1h1M135.6 149.8h1M130.3 134.8h1M137.1 139.5h1M132.5 161.8h1M133.7 144.0h1M143.1 161.5h1M130.7 164.8h1M136.9 123.0h1M134.6 137.0h1M138.3 131.1h1M131.4 142.3h1M136.3 151.7h1M140.5 150.2h1M135.6 121.4h1M142.4 133.1h1M128.3 155.3h1M133.8 153.1h1M135.4 163.5h1M138.3 139.9h1M140.3 158.9h1M138.4 153.0h1M130.9 136.1h1M136.8 164.2h1M132.9 164.3h1M140.1 157.3h1M134.4 154.4h1M126.9 156.5h1M138.8 156.8h1M128.3 161.0h1M127.1 147.2h1M135.5 138.8h1M132.2 127.1h1M130.6 164.2h1M141.1 141.2h1M135.4 147.9h1M136.5 120.6h1M140.7 139.1h1M142.4 134.2h1M135.3 156.5h1M139.6 156.5h1M140.2 141.3h1M130.5 164.4h1M133.3 134.0h1M139.2 137.8h1M133.3 160.7h1M134.7 130.1h1M133.8 140.5h1M129.1 161.3h1M136.1 125.7h1M139.0 132.5h1M131.9 137.6h1M140.3 127.5h1M135.4 143.1h1M144.6 139.6h1M132.8 124.8h1M137.9 131.4h1M140.3 142.8h1M140.3 156.6h1M136.1 154.9h1M141.2 119.8h1M138.5 127.3h1M132.9 161.3h1M134.6 147.2h1M130.0 144.5h1M131.0 135.9h1M143.0 129.3h1M135.9 161.2h1M129.8 144.1h1M136.8 144.1h1M126.9 126.0h1M127.4 161.5h1M132.2 132.8h1M130.3 135.0h1M134.1 154.5h1M125.9 137.8h1M141.8 152.5h1M142.0 155.2h1M139.4 124.5h1M127.5 151.4h1M126.4 137.3h1M139.7 134.1h1M139.0 164.2h1M134.4 130.4h1M144.4 137.6h1M130.2 162.5h1M126.1 156.6h1M145.1 148.2h1M136.0 161.9h1M131.6 145.9h1M135.7 156.8h1M126.2 148.0h1M126.5 157.2h1M131.1 140.8h1M132.4 136.4h1M139.4 163.2h1M137.7 120.2h1M132.1 140.8h1M128.8 159.3h1M133.8 136.8h1M129.2 143.0h1M137.9 130.5h1M143.8 140.6h1M140.9 159.6h1M139.0 154.4h1M142.3 150.6h1M135.3 124.1h1M129.4 135.6h1M135.1 129.4h1M138.1 131.0h1M135.8 147.8h1M129.1 134.4h1M128.7 142.0h1M143.3 143.6h1M136.1 141.1h1M126.7 142.9h1M131.7 147.3h1M129.4 160.3h1M144.2 130.7h1M129.8 144.1h1M132.2 139.3h1M126.7 147.6h1M143.9 148.9h1M139.4 157.4h1M131.5 160.9h1M130.8 137.8h1M128.8 135.2h1M131.0 137.5h1M135.9 145.5h1M141.8 159.2h1M140.4 146.9h1M136.4 142.6h1M132.8 143.4h1M129.7 149.9h1M131.3 148.3h1M129.5 139.2h1M129.6 136.4h1M131.6 151.6h1M129.6 143.2h1M140.3 143.4h1M137.2 138.6h1M142.3 136.8h1M139.5 136.3h1M135.7 161.4h1M128.0 136.6h1M128.5 142.8h1M139.4 153.6h1M131.9 121.6h1M128.6 128.4h1M131.8 161.3h1M132.2 145.7h1M136.7 158.2h1M136.2 156.3h1M137.8 155.7h1M129.0 138.9h1M134.3 131.3h1M144.1 129.7h1M138.5 150.1h1M139.3 120.8h1M135.4 140.6h1M142.0 145.7h1M127.2 145.0h1M140.0 158.6h1M139.3 164.1h1M138.0 148.3h1M146.3 162.5h1M129.4 142.3h1M144.3 131.6h1M142.0 141.6h1M130.0 139.4h1M139.9 130.1h1M138.3 132.6h1M133.1 122.4h1M139.6 143.6h1M135.2 154.2h1M131.6 137.3h1M128.1 139.2h1M132.6 159.0h1M139.6 133.3h1M127.7 131.3h1M143.3 158.7h1M145.6 153.2h1M133.3 161.0h1M137.0 131.3h1M130.2 136.8h1M134.1 162.5h1M132.9 164.6h1M134.9 146.8h1M128.9 157.5h1M139.8 158.6h1M136.6 136.9h1M138.0 153.6h1M132.9 163.3h1M132.7 133.0h1M139.7 151.3h1M135.1 141.8h1M130.7 138.2h1M133.2 145.2h1M143.1 144.4h1M133.0 151.7h1M131.0 127.6h1M136.2 138.7h1M133.7 140.6h1M126.9 130.9h1M135.6 145.9h1M138.9 126.6h1M132.0 157.1h1M135.6 124.7h1M139.5 130.1h1M138.8 163.9h1M139.4 156.4h1M136.5 134.6h1M143.0 142.6h1M131.2 130.7h1M142.3 128.0h1M140.8 136.3h1M132.2 134.1h1M134.4 160.7h1M126.3 149.1h1M133.0 139.1h1M128.7 163.7h1M134.3 156.8h1M145.5 131.1h1M138.0 160.1h1M132.0 151.2h1M136.9 128.3h1M135.3 136.1h1M130.1 164.3h1M127.3 158.3h1M142.9 154.6h1M138.2 128.2h1M140.7 132.3h1M135.0 163.3h1M131.4 139.0h1M134.7 130.5h1M136.0 164.2h1M140.6 141.8h1M138.5 141.6h1M142.6 128.7h1M127.8 163.7h1M124.4 149.0h1M138.0 123.7h1M129.6 143.1h1M133.3 158.5h1M135.7 134.9h1M129.5 128.3h1M133.2 125.7h1M136.9 137.5h1M136.7 123.7h1M126.6 132.3h1M128.7 127.0h1M134.4 137.3h1M127.4 143.4h1M134.0 152.4h1M141.8 158.6h1M143.3 131.6h1M130.3 151.4h1M140.2 154.7h1M139.5 158.0h1M129.5 153.2h1M132.2 151.9h1M139.4 146.2h1M139.2 153.5h1M139.0 132.6h1M133.5 124.4h1M134.3 135.9h1M129.0 126.2h1M130.5 138.3h1M131.1 163.7h1M132.0 158.4h1M144.3 150.6h1M140.7 149.9h1M135.6 155.9h1M138.1 125.1h1M132.2 137.6h1M134.7 135.2h1M128.6 140.1h1M139.3 159.8h1M141.9 129.2h1M137.4 157.2h1M136.4 149.5h1M131.7 162.9h1M137.7 163.6h1M129.0 152.7h1M142.3 138.9h1M134.5 132.4h1M131.1 139.7h1M143.7 141.1h1M128.6 132.0h1M129.9 129.3h1M136.8 134.7h1M141.0 145.0h1M139.7 163.9h1M134.5 150.4h1M131.1 128.4h1M136.0 148.5h1M143.9 133.8h1M131.8 146.1h1M131.2 157.1h1M133.6 157.5h1M131.8 163.1h1M141.0 162.4h1M129.9 158.1h1M128.3 135.5h1M128.2 130.4h1M130.8 148.9h1M134.1 159.5h1M124.4 126.9h1M139.7 149.4h1M141.8 164.4h1M129.4 164.7h1M145.7 144.3h1M130.7 153.1h1M139.0 142.0h1M134.2 139.8h1M133.2 147.2h1M133.3 156.7h1M133.3 130.1h1M139.4 135.4h1M143.6 133.1h1M128.8 161.0h1M128.6 153.7h1M140.9 148.1h1M142.8 129.8h1M130.1 162.4h1M129.5 139.4h1M134.3 149.8h1M135.7 146.2h1M127.3 131.1h1M127.9 154.3h1M128.0 150.2h1M130.0 144.0h1M130.1 163.5h1M137.3 143.0h1M125.0 134.1h1M136.7 132.4h1M130.7 132.1h1M135.2 148.3h1M128.8 148.6h1M136.3 134.9h1M144.9 157.6h1M142.0 145.9h1M135.4 147.5h1M143.1 145.3h1M138.8 129.7h1M132.4 126.6h1M142.9 135.9h1M133.1 146.4h1M141.6 164.2h1M134.0 131.4h1M133.7 136.4h1M141.0 140.0h1" stroke="#000" stroke-width="1" fill="none"/>
<path d="M135.2 76.5h1.25M134.7 77.7h1.25M132.7 75.7h1.25M130.1 78.5h1.25M131.2 80.1h1.25M130.2 80.3h1.25M135.6 76.7h1.25M131.2 78.7h1.25M137.5 81.0h1.25M141.0 77.2h1.25M136.4 78.6h1.25M133.7 76.5h1.25M133.9 81.3h1.25M138.3 76.3h1.25M130.4 84.0h1.25M134.7 79.6h1.25M132.9 75.0h1.25M134.8 76.4h1.25M133.1 77.6h1.25M134.8 84.0h1.25M137.9 73.4h1.25M129.4 78.8h1.25M132.7 80.9h1.25M138.7 75.9h1.25M136.0 77.8h1.25M128.9 82.7h1.25M139.3 75.6h1.25M136.0 77.1h1.25M133.8 77.8h1.25M133.9 78.9h1.25M132.6 79.8h1.25M130.8 81.4h1.25M130.4 75.5h1.25M136.7 77.3h1.25M133.2 81.0h1.25M135.3 82.8h1.25M134.9 75.3h1.25M132.4 77.7h1.25M134.4 82.5h1.25M143.6 80.2h1.25M136.0 79.5h1.25M133.7 73.9h1.25M139.7 81.8h1.25M132.7 79.1h1.25M132.1 78.8h1.25M131.1 77.0h1.25M137.0 73.6h1.25M136.9 75.5h1.25M132.5 74.7h1.25M135.8 76.1h1.25M141.5 74.8h1.25M135.5 79.9h1.25M130.9 77.7h1.25M131.4 80.7h1.25M135.8 80.6h1.25M129.4 77.9h1.25M133.8 77.8h1.25M135.9 80.8h1.25M134.3 76.9h1.25M133.8 77.2h1.25M133.4 83.1h1.25M137.4 82.0h1.25M133.7 78.7h1.25M130.6 80.2h1.25M137.0 79.6h1.25M130.9 79.8h1.25M136.9 77.0h1.25M136.2 77.1h1.25M134.0 77.5h1.25M129.4 78.1h1.25M134.7 78.0h1.25M134.0 77.5h1.25M137.0 77.6h1.25M135.3 77.4h1.25M138.3 77.5h1.25M136.9 83.0h1.25M134.8 75.1h1.25M132.5 79.9h1.25M129.5 76.6h1.25M133.1 75.5h1.25M137.9 78.8h1.25M134.0 81.5h1.25M131.6 76.7h1.25M137.1 78.0h1.25M134.2 81.1h1.25M134.3 80.2h1.25M135.7 81.0h1.25M135.8 77.3h1.25M138.8 76.8h1.25M139.0 74.7h1.25M133.3 73.9h1.25M136.7 81.1h1.25M133.4 80.0h1.25M134.5 81.9h1.25M135.6 79.2h1.25M136.9 74.6h1.25M136.6 78.4h1.25M138.4 77.7h1.25M136.2 78.1h1.25M131.1 78.4h1.25M133.1 76.0h1.25M134.0 77.7h1.25M139.8 76.8h1.25M134.8 78.8h1.25M135.6 74.8h1.25M129.9 83.4h1.25M131.3 77.5h1.25M138.1 78.4h1.25M132.3 80.9h1.25M131.8 83.0h1.25M133.6 79.7h1.25M135.4 82.8h1.25M131.4 79.2h1.25M139.8 72.7h1.25M133.0 79.7h1.25M134.0 79.8h1.25M137.3 75.4h1.25M133.1 82.0h1.25M138.9 71.5h1.25M136.6 80.4h1.25M131.8 77.4h1.25M130.8 79.2h1.25M131.3 81.1h1.25M132.6 80.3h1.25M130.1 81.8h1.25M136.9 80.2h1.25M136.5 83.3h1.25M137.4 78.0h1.25M139.1 76.7h1.25M135.7 82.0h1.25M133.0 79.1h1.25M135.3 78.9h1.25M134.2 81.0h1.25M140.8 76.2h1.25M129.6 78.9h1.25M129.5 77.1h1.25M131.8 81.8h1.25M135.3 80.1h1.25M134.6 80.9h1.25M133.9 81.8h1.25M137.2 78.5h1.25M129.3 77.5h1.25M134.6 76.3h1.25M133.8 78.5h1.25M138.2 76.2h1.25M134.6 77.6h1.25M132.3 80.2h1.25M136.6 74.9h1.25M140.2 82.2h1.25M135.2 79.7h1.25M128.0 158.3h1.25M133.4 123.8h1.25M148.9 134.1h1.25M129.2 127.8h1.25M136.4 133.1h1.25M134.8 125.1h1.25M120.4 154.1h1.25M160.1 142.9h1.25M129.2 151.9h1.25M126.9 153.6h1.25M158.1 135.0h1.25M132.1 158.1h1.25M137.0 146.7h1.25M141.4 123.8h1.25M154.7 152.5h1.25M119.5 131.8h1.25M134.1 139.0h1.25M136.5 153.3h1.25M138.8 135.5h1.25M142.0 135.4h1.25M133.0 124.7h1.25M143.9 146.4h1.25M124.6 134.4h1.25M137.7 156.3h1.25M138.7 136.6h1.25M125.7 154.4h1.25M128.4 143.6h1.25M140.7 124.2h1.25M133.2 156.9h1.25M137.1 152.1h1.25" stroke="#000" stroke-width="1.25" fill="none"/>
<path d="M135.9 111.6h0.9M135.8 108.2h0.9M130.8 99.3h0.9M136.2 104.5h0.9M135.3 99.6h0.9M134.4 93.7h0.9M134.2 102.9h0.9M136.5 109.6h0.9M139.9 116.0h0.9M133.7 108.7h0.9M134.4 93.2h0.9M128.6 103.3h0.9M137.9 103.2h0.9M138.2 105.1h0.9M139.6 100.8h0.9M142.3 96.9h0.9M131.7 98.3h0.9M136.4 112.5h0.9M133.5 119.6h0.9M134.2 96.4h0.9M141.5 108.3h0.9M125.7 114.5h0.9M136.5 115.2h0.9M134.1 112.5h0.9M136.2 95.1h0.9M136.0 115.2h0.9M131.8 108.8h0.9M131.3 107.0h0.9M133.7 93.2h0.9M138.7 113.1h0.9" stroke="#000" stroke-width="0.9" fill="none"/>
<path d="M294.7 153.8h1M288.3 156.4h1M299.7 148.4h1M282.2 144.0h1M284.5 132.9h1M288.9 137.6h1M288.6 131.1h1M290.2 155.7h1M292.6 156.7h1M290.5 135.1h1M290.9 125.2h1M283.0 150.2h1M278.5 140.0h1M287.8 130.6h1M290.7 162.2h1M295.5 148.5h1M286.9 151.2h1M290.8 138.2h1M286.4 127.5h1M291.5 145.4h1M280.5 137.0h1M282.4 136.9h1M300.1 148.2h1M295.3 139.8h1M290.9 145.6h1M290.5 141.3h1M281.8 163.5h1M286.5 130.2h1M294.1 136.5h1M283.6 151.6h1M296.6 158.1h1M296.6 150.9h1M297.4 127.8h1M295.9 145.7h1M297.9 127.8h1M303.2 151.1h1M294.1 148.7h1M296.3 164.9h1M292.0 134.3h1M284.0 162.2h1M297.3 161.4h1M296.4 160.4h1M294.0 161.2h1M281.9 156.1h1M291.3 156.4h1M283.2 149.6h1M297.3 138.6h1M285.4 134.4h1M304.3 140.9h1M296.3 164.5h1M281.0 143.6h1M296.4 161.3h1M288.7 159.8h1M292.3 160.8h1M290.1 138.1h1M298.0 146.5h1M296.2 155.2h1M297.3 162.9h1M283.9 133.3h1M299.5 151.9h1M295.7 145.7h1M286.6 160.6h1M292.3 155.9h1M283.9 144.6h1M286.6 161.4h1M289.6 140.0h1M282.9 140.3h1M301.1 162.6h1M302.1 141.2h1M286.2 148.7h1M293.8 144.9h1M286.0 161.9h1M282.7 137.0h1M279.2 158.1h1M297.1 151.0h1M288.2 141.6h1M296.0 136.7h1M290.9 140.1h1M287.5 139.9h1M288.5 138.7h1M283.9 146.7h1M291.5 149.3h1M295.6 140.1h1M296.1 161.1h1M298.3 162.8h1M282.0 148.3h1M278.8 137.2h1M302.7 149.1h1M288.4 141.2h1M296.5 165.3h1M292.4 147.6h1M301.0 155.4h1M288.8 149.2h1M281.7 141.6h1M291.6 164.4h1M289.7 155.4h1M287.3 133.5h1M282.3 141.9h1M292.0 158.1h1M289.0 145.3h1M293.5 162.9h1M301.1 134.7h1M290.1 138.4h1M299.3 136.2h1M293.2 159.9h1M288.1 135.3h1M292.1 164.4h1M286.8 138.3h1M285.4 133.5h1M279.8 146.0h1M285.9 147.0h1M285.6 129.3h1M299.5 146.8h1M297.8 136.0h1M293.7 150.7h1M293.2 148.8h1M295.5 133.9h1M294.0 141.2h1M287.9 155.3h1M296.1 145.1h1M293.8 157.0h1M285.8 125.5h1M289.0 127.7h1M297.7 151.0h1M300.1 133.8h1M296.3 151.9h1M296.3 129.8h1M292.3 164.5h1M285.5 141.3h1M276.8 137.7h1M286.7 158.9h1M287.7 165.0h1M289.1 162.5h1M294.5 157.3h1M295.0 137.9h1M299.6 154.0h1M285.8 156.8h1M291.0 156.3h1M286.7 134.5h1M295.4 139.1h1M283.9 131.5h1M294.5 155.6h1M288.4 143.2h1M280.5 155.0h1M291.6 140.2h1M285.8 146.7h1M291.2 161.9h1M300.4 144.4h1M278.3 150.7h1M286.8 130.2h1M292.7 145.0h1M281.3 152.0h1M290.6 159.0h1M283.4 145.2h1M286.4 130.8h1M289.6 154.6h1M303.5 136.6h1M294.4 136.3h1M288.0 146.7h1M296.5 149.0h1M283.9 164.8h1M283.9 143.6h1M301.4 147.0h1M281.7 141.2h1M287.1 162.9h1M300.8 136.4h1M298.1 136.4h1M294.6 158.9h1M283.5 163.4h1M296.6 164.2h1M298.1 163.2h1M288.0 155.0h1M288.4 136.5h1M295.3 141.5h1M287.3 142.5h1M293.4 137.0h1M300.2 136.3h1M288.8 136.0h1M282.1 159.3h1M298.8 160.2h1M296.8 130.8h1M288.6 145.6h1M291.1 145.1h1M281.2 147.3h1M295.3 127.0h1M295.1 136.1h1M294.9 162.2h1M293.8 157.9h1M296.6 147.1h1M287.5 164.0h1M288.1 143.6h1M280.6 139.2h1M294.9 139.3h1M298.7 159.5h1M295.1 129.2h1M284.9 142.5h1M295.4 139.4h1M293.9 130.0h1M285.4 162.6h1M303.5 136.2h1M295.2 134.4h1M284.9 129.5h1M294.2 160.8h1M292.2 142.6h1M294.5 135.7h1M290.9 163.5h1M281.3 147.6h1M299.2 156.8h1M290.5 137.2h1M292.1 131.5h1M294.9 139.3h1M293.7 161.1h1M289.4 164.8h1M285.0 134.0h1M288.5 150.4h1M290.0 134.6h1M297.6 143.6h1M295.2 134.5h1M285.5 136.4h1M291.8 164.0h1M295.7 159.9h1M300.8 147.7h1M291.5 143.2h1M293.4 147.9h1M285.2 138.3h1M294.9 143.9h1M286.1 136.1h1M285.9 136.9h1M300.2 158.4h1M294.4 139.7h1M287.4 161.5h1M291.1 144.9h1M283.1 154.0h1M283.3 156.7h1M288.8 153.2h1M289.0 161.7h1M291.6 157.3h1M287.8 156.1h1M283.0 144.1h1M297.8 131.7h1M284.1 134.0h1M294.6 150.8h1M296.6 159.1h1M298.1 136.3h1M282.4 136.6h1M295.8 164.5h1M289.2 149.8h1M288.5 161.7h1M300.4 145.4h1M282.7 146.3h1M285.0 149.4h1M293.3 160.9h1M293.2 143.0h1M282.3 155.1h1M291.0 151.2h1M290.0 142.4h1M303.7 146.4h1M297.7 156.6h1M289.2 162.1h1M293.9 147.0h1M291.8 126.7h1M292.1 154.4h1M288.0 138.7h1M287.1 131.0h1M287.2 159.6h1M287.5 145.8h1M297.6 129.3h1M291.0 143.9h1M286.1 153.7h1M294.5 155.8h1M283.1 150.4h1M295.0 146.3h1M283.3 161.3h1M292.6 160.7h1M289.7 157.6h1M289.0 143.8h1M289.8 129.1h1M282.4 145.9h1M291.1 155.4h1M297.1 157.7h1M296.0 146.8h1M298.1 147.3h1M289.0 137.3h1M285.3 158.4h1M287.0 147.0h1M296.7 129.8h1M289.0 154.3h1M292.7 138.5h1M296.0 130.4h1M293.1 145.5h1M281.7 150.8h1M284.8 148.7h1M283.9 136.8h1M297.8 142.2h1M300.6 158.2h1M282.3 136.9h1M289.0 157.1h1M288.1 134.0h1M293.7 163.5h1M293.8 135.7h1M300.2 158.0h1M296.9 140.3h1M288.0 139.5h1M298.6 153.1h1M297.4 147.9h1M287.4 151.8h1M302.4 143.6h1M284.4 155.0h1M297.3 126.9h1M289.2 129.0h1M296.9 164.5h1M298.5 139.1h1M296.7 143.0h1M278.7 144.4h1M297.0 131.7h1M288.7 164.2h1M295.0 141.8h1M283.2 136.7h1M293.3 161.8h1M291.9 133.7h1M302.0 148.0h1M287.7 153.8h1M294.7 127.1h1M282.5 159.3h1M289.8 165.1h1M285.8 143.9h1M282.3 136.2h1M292.5 131.7h1M301.3 144.7h1M295.6 164.4h1M287.3 134.1h1M287.6 147.4h1M281.2 144.1h1M292.7 131.9h1M290.7 137.2h1M298.3 148.6h1M295.2 152.6h1M287.7 162.7h1M291.7 163.8h1M294.2 140.0h1M298.0 144.8h1M292.4 163.6h1M291.9 157.3h1M301.0 133.4h1M281.6 165.3h1M294.4 165.1h1M291.1 151.8h1M286.9 141.4h1M300.7 135.7h1M289.5 144.0h1M282.6 161.4h1M299.1 151.0h1M285.2 141.9h1M297.9 131.8h1M291.0 146.1h1M285.7 145.0h1M278.2 150.2h1M300.2 163.6h1M292.0 160.7h1M299.7 150.0h1M283.7 132.8h1M286.2 165.1h1M296.1 163.5h1M287.9 155.4h1M285.7 151.2h1M290.2 155.4h1M295.3 155.2h1M300.0 141.2h1M292.5 148.6h1M291.6 147.9h1M293.3 151.5h1M295.1 125.4h1M298.0 149.9h1M285.7 135.3h1M286.1 141.0h1M291.3 145.7h1M296.5 156.1h1M292.5 148.6h1M297.2 141.0h1M296.8 138.2h1M295.5 135.1h1M288.7 150.7h1M282.1 144.4h1M290.4 128.0h1M284.7 150.4h1M289.6 161.8h1M283.5 150.9h1M292.9 152.3h1M288.4 157.0h1M282.5 152.5h1M290.2 135.7h1M284.1 139.1h1M288.8 152.7h1M291.5 159.9h1M288.1 161.2h1M291.9 149.5h1M296.1 152.2h1M293.3 140.8h1M296.6 136.0h1M298.4 147.9h1M296.7 146.5h1M297.4 161.4h1M290.9 149.6h1M292.3 161.2h1M297.4 140.9h1M294.8 138.2h1M288.9 129.5h1M280.4 150.8h1M298.2 131.3h1M288.7 129.3h1M292.3 149.9h1M283.5 145.4h1M297.0 157.2h1M291.0 128.1h1M294.1 136.0h1M291.2 142.1h1M301.7 144.5h1M296.8 147.7h1M288.3 147.9h1M283.7 129.9h1M292.8 162.9h1M303.3 140.1h1M293.7 139.4h1M293.9 152.5h1M290.3 139.6h1M290.8 149.8h1M293.0 152.5h1M286.8 129.4h1M292.7 162.0h1M290.9 136.8h1M301.6 138.1h1M282.8 148.2h1M283.1 160.9h1M298.6 151.6h1M284.9 141.0h1M287.3 129.9h1M289.0 159.3h1M296.4 158.1h1M294.9 161.8h1M299.4 161.9h1M295.1 155.0h1M300.5 150.5h1M293.0 146.3h1M293.7 131.7h1M286.5 139.8h1M286.9 147.1h1M284.5 149.0h1M293.9 147.4h1M285.0 135.7h1M292.7 134.7h1M290.3 141.3h1M298.9 135.1h1M286.6 135.1h1M283.8 137.6h1M289.1 162.8h1M299.7 132.7h1M292.2 151.5h1M291.3 148.8h1M297.7 140.4h1M290.2 133.0h1M287.1 147.8h1M293.3 146.0h1M289.7 164.7h1M290.0 146.7h1M290.5 145.1h1M296.2 152.2h1M297.0 137.2h1M281.6 149.7h1M298.3 157.6h1M295.4 152.8h1M286.3 126.6h1M289.2 162.3h1M289.8 147.4h1M300.9 136.5h1M298.3 156.6h1M292.9 158.5h1M285.3 154.1h1M294.7 132.2h1M285.1 133.4h1M289.7 154.6h1M282.8 132.2h1M290.2 133.1h1M290.8 130.7h1M288.5 153.7h1M289.1 134.3h1M285.5 130.7h1M294.6 159.7h1M288.8 139.6h1M287.5 149.4h1M295.8 161.1h1M297.2 151.2h1M296.4 152.1h1M290.8 150.0h1M292.5 143.6h1M291.5 154.4h1M300.9 148.2h1M283.8 134.1h1M280.2 128.9h1M302.5 135.7h1M287.5 128.7h1M293.6 140.4h1M282.0 155.5h1M289.6 155.8h1M283.6 146.5h1M295.8 139.9h1M280.5 161.9h1M281.2 156.0h1M297.4 150.9h1M297.5 161.5h1M288.7 154.6h1M294.4 141.1h1M294.8 135.3h1M300.4 145.5h1M292.4 137.9h1M287.8 139.4h1M279.3 143.3h1M301.2 140.8h1M286.9 164.8h1M288.5 155.2h1M291.1 150.5h1M285.8 159.8h1M288.7 146.3h1M294.7 129.5h1M284.2 151.1h1M292.8 151.3h1M283.9 148.3h1M290.6 134.3h1M297.5 128.2h1M298.3 133.0h1M295.0 156.6h1M282.6 127.7h1M294.3 138.7h1M293.7 157.3h1M296.3 154.8h1M291.2 148.7h1M293.9 138.0h1M289.9 136.9h1M302.1 152.1h1M292.2 160.2h1M282.1 148.4h1M296.3 164.1h1M282.9 156.8h1M295.1 145.7h1M294.2 153.3h1M291.0 160.0h1M295.0 160.3h1M290.3 134.2h1M282.5 158.8h1M283.3 157.2h1M289.9 163.5h1M300.3 155.1h1M290.6 128.6h1M289.6 135.5h1M288.4 141.9h1M286.6 135.1h1M279.7 149.5h1M296.8 159.9h1M283.4 126.9h1M285.5 150.8h1M285.8 162.4h1M297.4 161.3h1M281.5 129.9h1M287.8 132.5h1M287.0 139.5h1M293.7 156.8h1M280.2 148.8h1M293.3 133.3h1M291.4 160.2h1M292.5 130.9h1M281.7 159.8h1M292.6 161.7h1M288.7 163.0h1M295.8 137.8h1M288.5 142.9h1M281.6 130.0h1M287.7 159.0h1M286.9 129.9h1M296.2 140.2h1M289.7 165.0h1M282.9 136.0h1M296.5 153.8h1M286.9 155.9h1M293.0 144.3h1M296.6 145.2h1M292.2 161.1h1M299.0 164.0h1M287.7 135.9h1M293.5 133.0h1M294.0 160.3h1M292.8 135.9h1M289.9 134.3h1M290.3 137.1h1M300.4 142.7h1M285.4 160.4h1M290.6 148.2h1M294.3 161.7h1M297.2 149.1h1M282.2 136.3h1M286.9 160.3h1M284.1 159.6h1M299.1 160.7h1M284.7 134.0h1M294.5 160.3h1M289.4 148.9h1M297.1 128.3h1M296.8 159.1h1M297.4 148.8h1M288.9 138.7h1M293.6 163.2h1M283.5 127.0h1M298.2 165.3h1M276.2 147.1h1M295.0 136.9h1M296.5 140.1h1M292.3 146.4h1M300.2 156.8h1M292.1 158.0h1M291.2 162.1h1M298.3 142.2h1M302.2 135.5h1M297.7 144.9h1M283.3 129.9h1M295.0 136.7h1M283.2 140.3h1M289.6 158.8h1M285.7 137.7h1M295.1 142.0h1M294.7 142.7h1M283.2 156.6h1M279.7 159.9h1M282.2 145.3h1M288.0 128.9h1M297.4 147.5h1M294.7 129.0h1M301.3 150.1h1M285.3 146.7h1M279.7 153.9h1M287.3 162.3h1M288.9 156.0h1M281.7 125.4h1M289.7 135.6h1M286.0 132.4h1M286.0 149.4h1M298.1 147.7h1M282.5 148.2h1M281.8 162.4h1M291.8 134.5h1M292.9 147.8h1M283.1 143.0h1M292.6 146.5h1M285.0 157.2h1M296.9 164.9h1M288.3 150.3h1M284.2 130.1h1M296.2 161.0h1M288.8 142.2h1M293.9 139.9h1M300.2 156.7h1M281.7 158.8h1M300.8 150.0h1M295.3 139.5h1M296.9 148.9h1M282.1 140.8h1M286.1 164.3h1M300.9 149.1h1M292.9 150.7h1M292.5 152.9h1M286.0 137.8h1M295.1 131.5h1M285.8 161.1h1M286.6 151.4h1M290.4 155.0h1M278.8 138.1h1M292.7 133.8h1M283.7 132.8h1M281.3 142.2h1M283.1 157.5h1M289.4 159.9h1M285.9 155.4h1M291.3 128.2h1M286.3 130.0h1M301.3 132.6h1M300.4 151.6h1M289.5 137.1h1M299.7 141.6h1M286.7 146.9h1M281.1 147.9h1M298.4 139.4h1M287.4 163.3h1M295.3 137.4h1M296.3 156.3h1M288.4 158.2h1M293.5 148.6h1M294.6 135.2h1M287.5 152.6h1M292.8 136.8h1M292.2 164.7h1M284.6 134.3h1M283.8 160.3h1M296.3 160.7h1M287.2 143.5h1M288.7 137.1h1M289.7 136.3h1M297.6 133.3h1M285.4 160.5h1M294.1 161.5h1M299.5 137.4h1M282.7 154.0h1M291.9 153.6h1M298.3 147.5h1M296.4 141.3h1M282.8 150.4h1M295.0 150.6h1M294.5 140.9h1M289.4 134.9h1M295.7 156.6h1M280.3 140.4h1M284.7 126.7h1M291.3 135.3h1M303.2 152.8h1M288.4 149.0h1M289.1 132.9h1M279.7 140.5h1M299.9 146.4h1M291.1 157.5h1M290.3 152.8h1M285.5 152.4h1M284.3 148.3h1M296.5 163.7h1M293.3 131.2h1M291.3 129.2h1M298.9 135.9h1M291.4 163.9h1M281.3 139.6h1M282.7 132.4h1M284.5 138.9h1M295.8 130.4h1M297.9 152.7h1M283.8 153.3h1M296.3 129.4h1M289.7 140.1h1M296.5 153.4h1M298.7 163.3h1M287.1 148.4h1M290.5 157.9h1M294.7 134.2h1M293.0 130.4h1M284.2 130.9h1M285.0 151.0h1M290.3 146.6h1M296.7 151.3h1M278.5 141.8h1M292.9 149.1h1M289.1 135.6h1M290.8 156.6h1M298.4 136.7h1M294.2 133.9h1M297.8 148.2h1M289.3 134.1h1M286.6 148.3h1M289.3 124.5h1M298.3 164.6h1M280.0 147.0h1M291.0 160.5h1M288.3 135.6h1M296.5 157.5h1M285.8 143.5h1M299.1 160.0h1M283.3 154.8h1M295.7 148.1h1M284.5 146.3h1M286.8 159.2h1M283.9 153.4h1M302.6 145.4h1M283.5 160.5h1M292.5 127.1h1M301.8 139.6h1M290.4 146.0h1M278.7 146.0h1M282.6 138.1h1M288.3 152.5h1M289.0 129.2h1M299.0 146.8h1M299.6 152.6h1M293.6 143.2h1M299.5 139.5h1M280.1 163.0h1M296.9 150.8h1M283.3 165.0h1M283.4 131.9h1M293.6 147.2h1M301.0 129.0h1M294.6 164.0h1M289.4 142.5h1M298.3 135.8h1M292.9 145.8h1M287.3 128.8h1M290.8 164.1h1M290.4 138.1h1M297.8 163.0h1M291.6 156.1h1M297.0 158.8h1M286.3 142.4h1M298.6 140.9h1M291.3 149.3h1M281.5 128.1h1M292.9 143.3h1M293.1 147.2h1M283.1 150.1h1M279.3 153.3h1M291.5 145.5h1M289.8 133.3h1M290.0 151.1h1M281.7 156.0h1M296.1 155.0h1M282.8 131.0h1M300.2 156.3h1M282.9 132.8h1M280.8 139.7h1M296.4 144.7h1M294.9 161.8h1M286.4 159.6h1M291.7 144.8h1M298.9 130.9h1M293.2 162.8h1M292.2 152.8h1M290.5 164.2h1M300.4 149.6h1M291.4 157.5h1M284.2 149.5h1M285.4 144.3h1M282.4 134.3h1M282.4 145.8h1M302.3 137.7h1M296.2 161.9h1M297.6 152.1h1M279.0 131.8h1M294.6 136.0h1M290.6 135.3h1M278.6 155.3h1M289.0 124.0h1M294.6 161.1h1M295.6 151.6h1M296.7 162.7h1M299.7 134.6h1M287.4 149.5h1M290.2 151.7h1M282.4 148.0h1M295.5 149.3h1M293.5 148.6h1M288.6 155.4h1M299.5 132.8h1M280.3 136.7h1M294.4 136.9h1M298.5 129.5h1M295.8 157.0h1M297.2 147.1h1M288.3 157.7h1M298.1 163.1h1M290.9 148.6h1M294.1 155.9h1M303.0 137.6h1M290.1 152.4h1M294.7 143.0h1M296.4 154.8h1M292.8 125.1h1M291.0 135.3h1M283.1 130.2h1M296.8 127.2h1M292.9 160.2h1M292.8 128.3h1M289.6 160.7h1M289.1 148.4h1M294.6 149.7h1M299.0 148.9h1M286.9 142.2h1M279.3 149.5h1M287.6 141.8h1M280.1 135.8h1M288.5 146.5h1M294.9 133.7h1M283.7 165.5h1M292.0 132.3h1M289.4 126.1h1M286.9 148.7h1M294.9 137.5h1M285.3 154.8h1M298.3 136.6h1M292.1 146.2h1M288.3 138.8h1M297.7 138.3h1M283.1 157.6h1M296.3 162.0h1M293.2 140.4h1M298.1 153.3h1M285.7 149.1h1M293.0 164.8h1M287.8 135.9h1M284.6 142.0h1M296.2 145.9h1M295.9 133.2h1M298.6 149.6h1M285.6 150.5h1M298.8 141.0h1M288.0 129.9h1M284.4 132.7h1M295.3 129.4h1M291.2 135.7h1M287.4 129.4h1M283.9 148.1h1M301.9 152.5h1M284.7 157.7h1M286.9 160.4h1M295.7 158.6h1M290.0 164.0h1M292.2 129.5h1M282.9 162.7h1M298.6 152.0h1M290.7 129.9h1M294.5 159.6h1M284.3 137.8h1M288.4 146.7h1M293.1 133.2h1M291.3 137.7h1M296.0 154.2h1M289.4 164.2h1M290.9 132.2h1M299.4 143.2h1M293.1 142.8h1M294.4 138.8h1M295.4 160.2h1M299.0 164.6h1M291.4 142.1h1M286.0 136.3h1M292.4 154.2h1M286.6 145.7h1M280.0 142.0h1M285.7 140.1h1M279.5 161.8h1M284.4 134.9h1M287.9 133.5h1M283.2 154.7h1M283.6 155.0h1M291.5 151.0h1M294.8 145.6h1M282.6 142.9h1M295.0 145.1h1M288.9 136.0h1M299.1 140.5h1M294.7 143.3h1M290.3 137.3h1M283.3 130.9h1M287.3 137.0h1M293.2 130.8h1M286.9 138.7h1M298.9 133.7h1M287.4 162.3h1M287.1 152.7h1M297.6 152.3h1M285.4 161.9h1M292.1 139.2h1M288.7 129.8h1M292.7 162.7h1M292.9 144.9h1M289.0 143.7h1M284.1 158.4h1M288.9 152.9h1M293.4 163.7h1M286.9 126.8h1M283.5 132.1h1M294.8 148.2h1M292.2 148.9h1M288.9 127.1h1M293.0 150.5h1M288.3 158.8h1M294.5 149.5h1M298.0 147.1h1M295.6 127.7h1M284.0 158.7h1M295.9 154.7h1M282.3 156.8h1M301.7 139.4h1M288.0 127.1h1M293.0 154.3h1M290.5 162.2h1M301.1 133.7h1M297.5 132.1h1M295.0 140.5h1M287.0 141.7h1M300.3 139.4h1M289.1 136.5h1M291.1 164.3h1M282.8 152.7h1M301.9 134.4h1M289.2 133.1h1M287.3 136.8h1M285.3 146.2h1M288.6 143.3h1M285.0 147.2h1M288.0 155.8h1M286.4 131.8h1M298.5 135.6h1M290.0 146.3h1M292.9 150.6h1M288.1 155.1h1M285.4 152.4h1M296.7 151.4h1M287.3 146.5h1M295.2 157.8h1M293.8 125.8h1M297.1 140.9h1M281.0 136.8h1M286.3 154.9h1M284.1 135.2h1M296.8 154.0h1M295.7 162.2h1M299.8 154.8h1M283.4 154.4h1M287.5 158.1h1M289.6 145.3h1M280.1 159.4h1M282.5 154.0h1M282.9 130.1h1M283.2 133.5h1M300.4 132.6h1M292.2 165.1h1M301.1 150.6h1M293.8 145.3h1M293.0 165.2h1M281.3 147.8h1M288.8 158.4h1M296.9 136.3h1M290.9 154.5h1M288.5 151.6h1M290.5 154.9h1M280.0 158.2h1M288.4 164.2h1M284.8 154.1h1M295.4 159.1h1M287.6 130.6h1M299.3 146.9h1M282.3 129.0h1M289.5 164.1h1M288.1 153.6h1M287.3 162.4h1M292.5 148.5h1M289.4 133.2h1M291.1 151.7h1M297.1 163.4h1M284.0 162.8h1M292.7 131.4h1M293.9 130.2h1M293.6 136.3h1M284.9 146.9h1M282.6 127.3h1M286.4 162.6h1M285.3 158.0h1M292.1 164.9h1M281.0 140.9h1M277.4 140.9h1M291.4 158.1h1M291.2 161.0h1M281.0 139.1h1M281.6 148.2h1M294.0 164.1h1M288.0 148.9h1M296.8 147.0h1M291.9 149.7h1M294.4 157.0h1M295.3 141.7h1M281.7 136.4h1M301.0 146.6h1M291.0 144.6h1M283.6 152.1h1M297.5 131.6h1M292.6 132.4h1M293.8 165.2h1M288.0 124.4h1M284.4 139.5h1M291.1 131.5h1M300.5 159.7h1M282.7 148.5h1M296.8 131.1h1M286.9 150.9h1M283.5 143.5h1M282.4 132.1h1M288.9 164.4h1M291.2 153.9h1M288.0 159.0h1M288.7 150.0h1M294.8 164.3h1M299.9 145.3h1M281.2 131.9h1M285.3 152.2h1M289.6 133.3h1M282.0 136.0h1M288.9 159.4h1M281.6 142.6h1M283.2 151.0h1M299.6 159.5h1M299.6 147.6h1M301.0 132.9h1M282.1 127.4h1M290.2 155.0h1M291.7 160.7h1M299.3 145.3h1M289.9 125.9h1M286.8 131.6h1M293.1 143.5h1M299.0 158.3h1M293.4 130.4h1M288.1 165.2h1M287.2 160.8h1M284.0 134.5h1M295.9 155.5h1M296.7 135.3h1M299.4 146.4h1M291.1 130.5h1M282.0 146.8h1M299.6 130.1h1M293.9 164.5h1M291.4 157.4h1M282.6 136.4h1M291.0 139.5h1M294.2 162.0h1M286.9 145.5h1M282.9 157.2h1M291.7 164.3h1M291.5 160.8h1M283.0 149.8h1M283.2 148.8h1M284.5 157.4h1M295.1 142.2h1M289.0 135.7h1M292.0 129.9h1M291.7 164.2h1M296.6 145.4h1M293.3 162.9h1M282.8 149.5h1M299.5 146.3h1M285.4 138.7h1M288.4 146.2h1M298.3 128.0h1M285.6 137.6h1M292.8 141.6h1M290.9 160.2h1M285.5 129.1h1M288.5 132.3h1M295.9 145.0h1M292.6 163.6h1M292.4 127.2h1M298.3 149.4h1M284.1 165.3h1M297.3 147.1h1M287.5 156.8h1M295.3 154.2h1M295.8 157.5h1M296.7 155.2h1M290.3 127.9h1M297.3 161.4h1M299.2 146.6h1M285.5 127.2h1M296.6 158.5h1M292.2 155.2h1M292.4 130.3h1M296.5 132.5h1M292.4 153.3h1M290.6 165.3h1M281.0 164.7h1M290.5 132.2h1M297.1 141.6h1M291.4 144.7h1M299.8 151.8h1M291.2 149.0h1M284.4 159.4h1M292.9 138.2h1M296.5 151.2h1M296.2 156.7h1M289.2 128.6h1M288.0 153.3h1M286.1 152.0h1M297.5 142.0h1M282.7 154.4h1M287.8 165.1h1M284.1 129.6h1M293.4 143.2h1M287.5 163.7h1M291.6 160.4h1M298.2 145.3h1M290.4 160.1h1M293.9 149.5h1M287.7 162.5h1M299.0 132.7h1M283.2 128.3h1M283.7 162.3h1M293.3 160.2h1M280.1 145.4h1M290.4 128.7h1M285.8 154.8h1M298.8 157.3h1M286.0 143.4h1M291.2 128.8h1M304.1 151.7h1M290.3 144.8h1M293.0 147.5h1M291.6 156.7h1M282.6 158.1h1M286.5 130.9h1M299.9 155.8h1M283.0 159.9h1M292.8 161.1h1M285.7 158.6h1M298.9 152.7h1M289.5 132.4h1M290.2 156.9h1M293.3 148.5h1M294.0 138.1h1M292.6 144.8h1M296.3 128.5h1M296.0 134.5h1M297.7 138.5h1M289.0 157.1h1M290.7 163.9h1M295.2 162.8h1M284.0 158.2h1M298.2 141.4h1M299.0 143.8h1M283.8 163.1h1M295.0 135.0h1M295.6 127.3h1M289.0 164.0h1M281.3 132.8h1M283.4 162.9h1M290.7 129.0h1M301.1 153.7h1M287.6 158.6h1M300.0 146.8h1M279.8 150.8h1M291.6 155.4h1M291.2 147.7h1M286.4 127.7h1M289.3 157.3h1M287.3 135.4h1M300.1 154.4h1M285.2 131.6h1M296.8 127.1h1M294.7 164.6h1M295.7 132.4h1M292.6 134.4h1M289.1 150.3h1M297.3 145.2h1M290.9 156.1h1M291.8 138.4h1M280.7 157.4h1M285.8 137.3h1M291.0 159.3h1M295.9 133.3h1M297.2 136.6h1M285.5 140.6h1M291.8 130.2h1M296.9 130.3h1M284.7 150.0h1M300.6 158.5h1M287.1 132.9h1M284.6 149.1h1M284.1 136.1h1M288.2 137.5h1M291.4 130.4h1M288.4 160.1h1M303.3 134.2h1M297.9 156.4h1M297.0 135.6h1M296.0 129.4h1M290.1 152.7h1M288.4 164.9h1M300.6 135.8h1M294.6 148.4h1M296.8 148.5h1M297.2 129.9h1M288.8 148.4h1M288.0 158.6h1M298.3 141.8h1M294.1 146.8h1M280.9 140.2h1M296.3 164.2h1M288.1 157.4h1M282.6 149.0h1M291.7 139.2h1M284.8 164.7h1M293.7 127.6h1M301.0 148.9h1M294.9 163.5h1M286.5 129.5h1M294.9 146.7h1M298.0 164.4h1M280.7 133.5h1M294.8 141.2h1M291.8 149.4h1M292.4 161.1h1M295.7 142.0h1M292.2 165.0h1M291.2 149.2h1M291.6 149.1h1M287.4 155.6h1M283.5 136.4h1M292.4 154.1h1M298.7 138.9h1M299.1 142.0h1M288.5 163.6h1M286.4 163.6h1M292.9 133.1h1M293.6 164.3h1M289.0 140.1h1M285.2 139.7h1M295.9 143.2h1M293.7 154.1h1M283.2 136.3h1M300.0 133.5h1M293.0 138.5h1M300.3 153.4h1M295.6 139.1h1M299.9 163.9h1M288.7 145.7h1M278.8 145.4h1M290.1 128.5h1M300.3 162.6h1M298.4 135.9h1M296.7 162.9h1M301.6 145.6h1M282.4 136.3h1M292.1 161.2h1M291.5 147.1h1M290.3 143.9h1M299.0 128.1h1M294.7 141.8h1M282.2 142.2h1M290.4 151.5h1M296.5 132.6h1M282.8 155.5h1M292.9 148.8h1M285.4 137.4h1M282.3 147.6h1M299.0 145.6h1M293.6 160.1h1M296.9 157.6h1M284.3 140.0h1M287.5 155.2h1M301.9 136.1h1M291.4 152.8h1M289.0 150.7h1M290.9 127.0h1M293.2 150.3h1M288.8 140.3h1M284.6 150.8h1M289.7 159.7h1M291.4 149.2h1M284.5 136.7h1M296.4 163.7h1M282.0 162.4h1M292.8 149.9h1M295.8 162.2h1M285.6 146.8h1M288.9 161.9h1M291.1 134.8h1M291.7 139.4h1M287.5 140.5h1M286.8 157.5h1M298.3 150.0h1M295.5 135.9h1M288.8 150.3h1M291.0 144.3h1M285.0 165.1h1M295.7 155.5h1M292.8 162.7h1M285.3 153.2h1M298.8 154.1h1M288.2 131.7h1M298.7 154.5h1M284.5 161.0h1M288.9 154.5h1M298.3 157.5h1M296.8 155.9h1M295.4 126.6h1M290.1 146.9h1M298.4 128.0h1M284.2 153.6h1M294.5 135.0h1M290.7 128.6h1M285.2 157.9h1M296.0 154.8h1M296.4 155.3h1M296.1 139.8h1M298.1 148.9h1M287.4 162.1h1M280.9 141.5h1M295.8 165.2h1M287.7 160.3h1M283.7 152.5h1M295.0 134.3h1M300.5 149.4h1M289.8 133.7h1M289.1 134.7h1M295.2 154.7h1M287.8 140.8h1M286.2 139.3h1M301.5 142.1h1M297.4 160.3h1M286.5 154.0h1M291.7 156.8h1M283.5 153.4h1M289.3 140.3h1M291.2 146.0h1M287.5 161.4h1M292.7 141.7h1M285.3 155.1h1M300.5 153.4h1M294.1 153.1h1M289.0 143.3h1M286.3 150.1h1M297.3 155.8h1M293.4 145.2h1M299.4 143.4h1M296.7 153.6h1M287.0 144.0h1M295.9 152.2h1M282.0 159.2h1M289.8 161.5h1M283.4 161.3h1M282.1 153.5h1M280.7 135.2h1M293.3 156.3h1M297.2 160.1h1M290.3 162.4h1M291.0 143.8h1M284.4 146.5h1M286.8 145.6h1M285.5 129.2h1M295.1 138.2h1M298.3 148.9h1M283.1 160.4h1M290.2 160.6h1M291.3 148.7h1M284.7 140.3h1M293.7 151.4h1M282.3 145.9h1M297.5 157.8h1M286.3 160.4h1M287.6 163.9h1M281.6 152.1h1M284.7 157.4h1M281.2 147.6h1M299.5 137.9h1M298.9 142.1h1M286.9 162.8h1M290.1 131.6h1M294.7 128.7h1M302.4 144.6h1M286.1 161.4h1M296.2 152.3h1M293.1 138.7h1M298.1 154.2h1M301.9 137.4h1M279.7 134.5h1M305.8 134.9h1M296.8 130.8h1M288.6 154.3h1M298.5 144.2h1M285.2 147.7h1M286.6 139.9h1M282.9 140.1h1M283.2 136.7h1M297.8 128.0h1M292.8 135.8h1M293.1 130.2h1M292.7 153.9h1M282.4 152.8h1M293.9 137.3h1M292.2 159.0h1M285.1 160.9h1M285.6 160.1h1M278.8 147.2h1M297.8 142.7h1M291.0 145.1h1M286.0 152.0h1M289.5 152.1h1M289.8 160.4h1M285.9 153.7h1M285.2 132.2h1M290.4 147.4h1M284.6 160.5h1M286.2 163.5h1M297.7 145.8h1M291.9 147.8h1M285.4 144.6h1M294.7 151.9h1M292.2 148.3h1M289.0 128.3h1M282.6 153.8h1M302.4 142.5h1M297.6 150.6h1M299.5 141.0h1M299.2 156.5h1M289.4 148.5h1M296.1 129.5h1M291.1 154.5h1M286.3 130.5h1M282.5 138.1h1M283.7 157.6h1M301.7 154.1h1M278.4 144.2h1M284.5 149.5h1M297.0 152.8h1M287.3 142.4h1M292.9 145.6h1M295.6 129.5h1M295.8 157.7h1M291.1 152.4h1M289.6 134.9h1M285.2 137.0h1M300.9 137.8h1M295.2 145.8h1M300.4 138.6h1M285.1 146.0h1M293.9 131.1h1M285.9 151.9h1M288.6 140.1h1M292.3 165.5h1M284.7 129.4h1M286.1 159.6h1M290.8 154.8h1M292.0 159.1h1M290.4 153.9h1M293.0 141.6h1M301.3 136.2h1M289.2 138.4h1M282.2 161.5h1M295.6 164.2h1M289.3 159.6h1M282.3 164.2h1M300.2 156.1h1M294.4 164.0h1M296.7 165.2h1M288.5 146.8h1M294.3 155.9h1M292.8 163.7h1M283.8 158.0h1M294.1 132.9h1M290.0 163.8h1M291.6 141.0h1M296.4 162.2h1M285.8 131.7h1M293.5 151.1h1M295.7 153.2h1M290.3 133.7h1M295.2 133.0h1M292.6 163.6h1M297.3 141.2h1M286.5 146.0h1M284.9 153.0h1M279.1 135.1h1M281.2 153.2h1M285.5 161.8h1M293.1 137.4h1M290.1 162.0h1M292.2 154.7h1M282.1 141.5h1M281.8 140.3h1M289.9 164.4h1M291.9 162.8h1M292.7 146.7h1M289.8 132.7h1M284.3 127.9h1M288.3 136.9h1M288.7 155.3h1M299.4 148.6h1M283.1 142.9h1M289.0 143.0h1M295.4 156.7h1M300.1 138.3h1M297.0 145.5h1M298.2 137.6h1M287.3 165.1h1M288.1 140.9h1M283.7 129.6h1M285.2 136.1h1M297.8 139.9h1M294.5 165.3h1M282.0 143.1h1M287.3 149.4h1M288.5 163.2h1M295.3 134.2h1M291.5 153.5h1M282.1 162.7h1M286.5 135.1h1M291.7 128.7h1M283.9 138.4h1M298.5 155.0h1M296.0 132.9h1M286.5 136.8h1M283.6 131.3h1M297.6 149.4h1M297.3 160.5h1M279.3 144.7h1M298.6 138.2h1M281.1 152.4h1M286.7 162.8h1M302.0 136.9h1M289.5 139.5h1M281.2 161.1h1M280.0 144.0h1M290.9 151.2h1M294.0 151.5h1M292.0 154.9h1M282.1 154.0h1M296.5 135.7h1M281.1 142.1h1M284.8 134.3h1M290.3 140.5h1M290.1 149.2h1M301.6 139.1h1M297.2 139.7h1M284.8 139.2h1M281.7 157.3h1M288.7 158.4h1M286.7 152.0h1M290.2 160.7h1M289.0 129.7h1M290.9 136.0h1M287.5 137.3h1M293.6 135.5h1M293.9 137.1h1M295.8 133.5h1M299.9 137.6h1M299.0 156.8h1M286.2 154.8h1M287.0 141.5h1M299.3 138.8h1M288.0 132.7h1M285.4 141.0h1M289.4 145.0h1M282.1 136.8h1M289.3 135.7h1M287.0 151.1h1M300.6 163.6h1M295.8 141.5h1M299.1 142.7h1M287.0 149.6h1M291.5 137.0h1M293.3 152.0h1M286.3 135.2h1M299.3 155.4h1M285.7 156.2h1M290.9 135.7h1M285.7 161.8h1M282.3 160.3h1M286.6 149.0h1M298.4 157.6h1M293.5 145.5h1M293.6 131.0h1M295.0 160.6h1M290.3 130.3h1M284.0 126.6h1M290.3 134.7h1M287.0 156.4h1M292.3 143.7h1M291.8 155.9h1M286.9 156.3h1M301.1 155.4h1M290.8 154.7h1M286.3 140.3h1M287.3 127.6h1M281.1 155.7h1M281.5 153.9h1M290.8 143.6h1M302.2 143.8h1M293.9 147.3h1M297.3 152.6h1M290.6 130.1h1M296.5 160.9h1M296.7 163.5h1M288.9 147.0h1M296.0 145.3h1M298.3 161.7h1M296.4 128.5h1M286.2 144.8h1M283.0 142.7h1M299.7 130.8h1M292.6 138.0h1M300.6 140.0h1M288.6 160.7h1M294.7 150.8h1M299.0 146.8h1M294.8 165.3h1M297.5 128.0h1M292.3 137.3h1M285.8 149.8h1M301.5 136.0h1M285.7 126.8h1M287.5 139.5h1M287.7 157.6h1M286.8 131.4h1M292.3 139.2h1M290.8 157.9h1M286.7 145.7h1M299.3 133.5h1M282.7 163.8h1M300.7 148.7h1M283.4 133.2h1M297.4 141.2h1M287.4 128.2h1M285.3 163.2h1M295.1 157.9h1M290.0 134.5h1M293.0 165.3h1M286.3 163.0h1M291.2 139.5h1M283.2 157.3h1M291.1 132.0h1M280.8 155.1h1M286.0 165.3h1M288.7 155.0h1M285.0 151.6h1M294.3 157.9h1M292.6 130.3h1M279.5 134.6h1M277.1 152.8h1M301.2 134.7h1M288.6 148.9h1M297.2 131.0h1M291.0 160.7h1M286.1 165.5h1M293.7 148.2h1M285.7 149.7h1M286.2 150.2h1M287.1 152.6h1M295.6 144.2h1M291.0 129.8h1M284.8 152.9h1M295.6 131.1h1M292.3 146.2h1M288.9 149.2h1M292.0 135.1h1M293.7 149.9h1M279.8 142.8h1M292.9 150.6h1M295.7 163.0h1M280.2 149.1h1M292.5 150.8h1M281.2 135.1h1M283.1 150.3h1M281.5 150.5h1M300.0 135.7h1M295.7 141.2h1M297.1 161.0h1M295.4 149.6h1M285.7 156.5h1M292.1 144.2h1M284.7 164.7h1M284.7 159.6h1M290.0 163.4h1M296.2 148.2h1M290.5 137.6h1M288.8 136.1h1M291.2 130.6h1M296.9 149.0h1M285.8 147.3h1M281.7 137.8h1M299.3 163.4h1M294.1 132.7h1M286.0 148.8h1M287.0 138.3h1M294.1 134.4h1M286.9 145.6h1M284.1 134.0h1M289.1 128.4h1M290.8 130.3h1M284.3 128.4h1M294.0 146.7h1M297.2 164.0h1M301.1 158.5h1M287.8 134.5h1M294.8 150.3h1M283.9 149.1h1M293.7 149.1h1M294.5 148.4h1M293.2 146.6h1M288.4 131.3h1M293.7 157.4h1M285.4 131.6h1M284.5 132.7h1M284.6 157.3h1M296.3 127.6h1M288.3 147.1h1M280.5 157.0h1M300.4 160.6h1M295.1 127.9h1M290.3 144.0h1M293.3 145.5h1M297.5 142.4h1M280.7 133.5h1M283.5 146.4h1M287.8 143.3h1M285.0 132.3h1M297.3 130.1h1M283.5 153.8h1M290.7 146.9h1M280.1 156.8h1M293.2 160.1h1M292.2 145.1h1M288.8 153.5h1M292.8 154.6h1M301.3 154.6h1M299.3 139.5h1M279.8 150.5h1M286.6 129.4h1M278.5 152.1h1M293.8 136.7h1M284.3 145.0h1M303.3 157.7h1M296.3 134.9h1M294.2 162.1h1M293.2 157.2h1M298.9 150.2h1M286.7 145.4h1M285.6 139.3h1M296.1 129.0h1M299.9 142.6h1M292.3 149.1h1M283.1 148.7h1M291.5 132.3h1M293.7 125.9h1M295.9 125.7h1M281.2 147.0h1M286.3 159.2h1M282.5 128.7h1M286.3 150.5h1M277.2 150.3h1M299.8 151.8h1M299.7 136.4h1M295.2 143.2h1M289.3 152.2h1M291.4 156.7h1M294.9 148.6h1M293.5 151.7h1M296.2 151.0h1M282.3 155.4h1M290.0 140.5h1M292.3 143.8h1M288.3 163.6h1M294.8 134.8h1M282.7 151.3h1M300.2 148.5h1M287.1 141.8h1M292.3 140.4h1M279.0 151.3h1M296.7 147.9h1M298.4 144.3h1M280.8 154.4h1M286.8 129.2h1M285.2 138.3h1M299.9 139.3h1M291.3 163.0h1M300.2 156.9h1M292.9 139.5h1M293.2 148.4h1M301.5 158.3h1M286.0 155.8h1M294.9 141.0h1M295.4 150.1h1M295.5 149.0h1M293.0 163.8h1M286.1 151.5h1M288.9 158.3h1M295.0 132.6h1M286.8 165.4h1M285.1 128.5h1M289.5 147.0h1M286.3 139.9h1M288.4 143.0h1M300.6 131.9h1M299.1 148.1h1M279.4 145.5h1M282.1 128.0h1M285.1 137.2h1M294.9 149.7h1M294.7 164.0h1M294.7 133.9h1M286.1 139.8h1M287.8 147.9h1M294.0 133.4h1M283.4 146.1h1M290.5 132.4h1M284.0 149.6h1M296.0 128.4h1M294.0 132.9h1M298.2 151.9h1M292.2 136.8h1M298.1 129.3h1M297.7 162.1h1M285.9 133.9h1M297.4 144.5h1M298.5 164.7h1M284.8 151.7h1M288.9 161.3h1M287.2 157.9h1M289.5 147.7h1M286.8 150.4h1M297.0 156.8h1M298.3 149.2h1M286.2 157.2h1M286.7 133.5h1M284.3 129.5h1M292.4 125.4h1M298.4 146.8h1M299.4 154.7h1M281.8 153.8h1M283.4 142.1h1M293.3 148.1h1M285.0 155.2h1M286.2 137.6h1M286.9 155.7h1M283.8 136.4h1M282.2 141.8h1M295.0 134.2h1M284.4 156.2h1M293.4 127.7h1M298.5 147.0h1M291.0 141.1h1M292.1 137.5h1M280.7 134.7h1M298.3 133.1h1M297.6 147.6h1M292.7 128.4h1M280.8 147.1h1M291.7 165.1h1M295.0 133.2h1M298.5 149.9h1M286.6 151.1h1M285.7 161.7h1M286.5 145.8h1M292.5 158.4h1M296.3 132.5h1M286.7 154.4h1M298.0 151.0h1M298.9 131.2h1M290.9 129.4h1M294.6 133.7h1M286.5 136.6h1M289.9 156.5h1M284.7 158.6h1M288.9 142.5h1M300.1 156.7h1M298.1 160.0h1M282.6 139.9h1M287.8 145.2h1M286.5 143.5h1M284.4 155.8h1M286.7 145.0h1M289.5 161.9h1M290.2 129.5h1M285.5 145.7h1M292.3 159.1h1M294.4 155.3h1M292.5 130.6h1M280.4 151.6h1M293.5 158.8h1M286.9 141.3h1M287.2 127.8h1M281.0 151.3h1M294.9 151.4h1M293.1 130.1h1M291.5 145.1h1M294.6 147.6h1M297.8 134.4h1M299.3 139.2h1M285.5 158.7h1M300.3 149.6h1M283.0 153.9h1M281.5 149.3h1M290.0 146.3h1M298.1 139.7h1M291.7 164.9h1M285.6 127.0h1M293.9 160.3h1M296.2 142.5h1M289.5 146.4h1M299.2 127.9h1M293.7 157.3h1M282.9 144.7h1M289.5 136.6h1M290.9 161.6h1M299.1 152.2h1M298.3 147.7h1M283.7 147.9h1M286.8 143.5h1M290.0 149.2h1M281.3 158.3h1M293.5 147.8h1M288.5 140.3h1M295.5 148.5h1M286.8 133.1h1M297.0 130.4h1M284.6 138.3h1M296.2 133.1h1M289.6 144.1h1M290.0 164.1h1M295.7 151.5h1M284.4 130.5h1M287.9 127.6h1M281.5 148.1h1M291.3 158.7h1M296.8 136.0h1M303.4 161.3h1M290.2 126.2h1M282.5 136.6h1M288.1 129.1h1M288.4 154.5h1M283.9 149.1h1M302.7 152.2h1M299.7 150.9h1M294.3 127.6h1M288.2 138.6h1M300.3 137.8h1M299.3 141.4h1M298.9 158.8h1M283.3 133.6h1M295.5 135.5h1M284.0 164.1h1M286.9 161.6h1M298.9 138.2h1M293.0 130.0h1M293.2 161.4h1M281.9 151.1h1M291.7 145.6h1M292.7 142.0h1M293.8 156.4h1M289.7 161.1h1M296.6 145.9h1M287.7 133.9h1M291.7 158.9h1M289.3 137.3h1M290.0 144.7h1M287.6 133.3h1M282.0 139.3h1M286.0 161.5h1M294.0 148.1h1M294.7 148.7h1M289.1 145.7h1M300.7 151.1h1M294.5 163.3h1M294.8 153.1h1M285.5 160.1h1M283.6 136.7h1M295.4 134.5h1M295.6 164.8h1M299.0 165.2h1M299.9 138.1h1M288.2 128.0h1M284.6 132.6h1M287.5 155.3h1M292.6 154.7h1M284.8 129.8h1M288.5 138.4h1M285.3 142.6h1M288.7 133.8h1M291.0 160.2h1M286.1 132.9h1M284.7 142.8h1M301.4 152.2h1M289.8 131.2h1M291.7 151.7h1M284.8 130.3h1M280.2 134.1h1M283.4 142.5h1M285.4 136.4h1M295.1 150.0h1M292.0 150.7h1M290.5 127.8h1M290.3 158.2h1M297.1 161.9h1M281.6 142.8h1M299.4 150.1h1M281.0 134.9h1M292.6 150.7h1M299.0 149.2h1M293.7 158.4h1M289.2 152.4h1M295.9 155.0h1M290.7 147.7h1M295.7 124.5h1M296.7 146.8h1M299.6 141.0h1M293.8 160.0h1M294.6 138.8h1M291.4 140.3h1M288.8 156.9h1M290.3 133.0h1M287.4 159.0h1M284.0 147.4h1M296.7 148.3h1M283.9 165.4h1M295.7 128.5h1M296.6 138.7h1M289.6 129.0h1M289.0 152.5h1M284.1 150.4h1M300.6 144.4h1M301.3 138.8h1M288.6 146.7h1M283.2 136.1h1M298.8 146.3h1M286.0 157.7h1M298.6 139.5h1M291.4 146.0h1M300.2 133.5h1M293.9 156.8h1M302.0 145.2h1M294.3 128.0h1M287.9 126.3h1M283.1 140.6h1M297.4 152.5h1M291.5 137.2h1M287.6 152.2h1M284.6 142.3h1M299.8 154.9h1M289.8 142.3h1M300.7 138.1h1M297.6 146.1h1M281.7 155.1h1M290.8 160.2h1M297.5 159.6h1M290.1 161.0h1M283.5 158.8h1M295.6 162.9h1M287.7 144.6h1M286.8 158.1h1M282.4 133.4h1M291.4 133.6h1M287.9 139.2h1M286.7 142.8h1M304.6 148.9h1M296.7 155.3h1M290.1 150.0h1M281.5 146.2h1M290.2 165.4h1M300.4 160.3h1M286.1 147.8h1M290.9 162.7h1M297.7 146.7h1M288.5 157.6h1M287.7 158.4h1M284.0 136.4h1M281.5 157.9h1M284.8 162.2h1M290.0 148.5h1M293.7 139.6h1M289.1 149.5h1M285.3 133.1h1M288.2 131.1h1M289.2 131.5h1M292.0 156.5h1M287.0 150.1h1M288.3 147.8h1M284.7 159.4h1M282.6 142.4h1M286.0 149.6h1M285.0 146.0h1M293.5 153.2h1M282.2 139.1h1M286.7 153.3h1M292.6 162.7h1M293.9 128.6h1M289.5 150.6h1M290.5 136.4h1M293.1 144.0h1M284.4 145.4h1M294.2 147.1h1M284.4 148.1h1M293.3 132.9h1M279.4 153.0h1M298.9 157.3h1M301.6 139.5h1M292.8 164.9h1M294.1 155.5h1M290.0 162.8h1M280.1 145.2h1M296.2 162.2h1M288.8 136.1h1M287.4 143.5h1M282.6 146.8h1M289.8 158.5h1M298.1 148.0h1M295.8 160.8h1M288.1 157.3h1M281.4 130.4h1M296.4 153.0h1M297.9 154.4h1M290.1 162.9h1M299.3 131.7h1M293.7 129.0h1M296.8 136.0h1M297.5 127.8h1M295.7 164.3h1M281.1 150.2h1M292.2 128.3h1M297.3 156.6h1M288.8 155.8h1M288.1 133.3h1M289.7 137.6h1M300.7 150.2h1M291.0 161.9h1M294.3 129.3h1M288.6 129.9h1M292.1 134.8h1M284.4 161.4h1M286.6 154.2h1M289.1 150.4h1M293.1 162.3h1M287.8 144.1h1M288.5 148.1h1M283.1 159.8h1M300.4 155.1h1M293.2 146.5h1M284.9 144.8h1M289.5 146.3h1M292.4 151.7h1M290.2 143.1h1M303.4 145.6h1M279.9 134.4h1M290.6 160.8h1M300.4 140.3h1M296.4 141.1h1M286.8 137.3h1M280.5 152.1h1M284.7 132.1h1M290.0 126.0h1M292.6 137.3h1M285.4 128.8h1M285.1 156.7h1M296.4 155.9h1M298.6 135.5h1M291.5 141.7h1M295.3 158.6h1M297.2 152.3h1M280.9 158.2h1M278.6 161.7h1M294.9 164.2h1M291.1 155.3h1M290.1 134.5h1M282.9 147.3h1M294.6 138.0h1M288.2 154.8h1M284.6 147.4h1M289.4 160.7h1M282.5 143.7h1M291.3 154.6h1M284.7 138.7h1M294.1 128.7h1M295.7 136.5h1M279.2 150.3h1M289.5 131.6h1M290.9 137.5h1M290.4 134.3h1M298.1 160.9h1M284.8 142.9h1M298.9 159.2h1M292.6 154.4h1M294.1 155.2h1M290.6 135.7h1M296.3 140.5h1M288.9 162.0h1M285.8 136.0h1M292.0 139.6h1M292.8 152.2h1M294.1 158.3h1M296.1 130.8h1M285.4 145.7h1M286.1 138.5h1M298.9 133.9h1M287.5 137.6h1M284.2 149.5h1M284.7 151.3h1M288.9 134.9h1M283.4 138.2h1M291.7 141.8h1M285.6 153.7h1M286.2 135.7h1M284.5 162.5h1M283.6 154.0h1M284.2 138.8h1M296.0 163.5h1M291.6 163.5h1M293.8 141.1h1M289.4 136.9h1M295.0 143.9h1M284.6 152.4h1M297.9 153.3h1M289.8 137.4h1M284.2 163.7h1M285.2 159.0h1M295.9 136.7h1M291.7 163.9h1M296.2 158.7h1M296.2 125.5h1M296.4 160.6h1M285.6 130.9h1M293.3 127.1h1M291.2 149.0h1M287.3 127.1h1M288.1 141.3h1M288.4 138.0h1M289.5 146.7h1M290.7 160.0h1M295.5 130.3h1M300.6 141.9h1M285.7 146.2h1M295.2 150.0h1M290.6 164.9h1M286.2 129.9h1M302.0 133.8h1M291.8 140.9h1M292.5 140.0h1M295.0 132.7h1M295.2 152.7h1M292.0 165.0h1M291.5 163.3h1M288.6 159.4h1M286.1 139.7h1M280.8 154.4h1M287.8 156.9h1M293.6 152.1h1M280.6 157.6h1M291.5 134.2h1M288.0 133.4h1M289.3 136.1h1M302.5 161.4h1M275.5 140.7h1M283.3 153.2h1M297.8 132.8h1M289.8 154.5h1M285.9 132.6h1M295.0 127.7h1M288.4 144.6h1M279.8 159.1h1M288.9 134.6h1M283.0 137.1h1M291.6 133.7h1M290.7 129.9h1M288.4 141.9h1M285.4 153.7h1M286.9 125.8h1M292.0 162.1h1M284.5 131.2h1M293.7 163.2h1M291.1 142.6h1M294.7 154.1h1M296.2 162.2h1M294.6 143.6h1M286.4 162.6h1M290.2 139.9h1M288.7 150.6h1M294.2 165.2h1M288.1 143.1h1M295.1 134.7h1M289.6 162.5h1M295.0 152.2h1M284.0 155.9h1M297.4 164.2h1M297.3 157.6h1M284.7 148.7h1M298.5 154.8h1M282.0 157.3h1M281.4 139.0h1M299.7 157.7h1M292.2 154.3h1M289.2 160.2h1M297.9 148.7h1M286.3 139.2h1M280.4 139.7h1M295.2 164.0h1M297.4 158.5h1M290.4 129.9h1M291.6 141.8h1M286.8 154.3h1M292.9 157.7h1M293.9 152.2h1M295.7 150.2h1M277.7 137.2h1M298.2 146.3h1M287.7 132.6h1M286.5 146.1h1M283.4 154.9h1M291.7 157.9h1M288.1 160.1h1M290.7 127.0h1M292.5 144.0h1M288.9 141.6h1M283.4 159.8h1M297.3 157.5h1M288.0 157.9h1M296.7 141.6h1M286.3 160.1h1M292.2 143.8h1M283.2 129.9h1M284.1 146.0h1M294.3 140.7h1M297.1 150.1h1M299.4 159.8h1M282.4 133.8h1M288.5 143.3h1M284.2 140.0h1M292.7 148.4h1M291.8 153.4h1M294.5 163.9h1M279.6 134.9h1M280.1 155.4h1M292.1 153.7h1M281.0 133.0h1M293.4 150.0h1M296.4 152.7h1M288.1 130.8h1M300.3 165.1h1M289.0 130.4h1M293.1 147.6h1M291.7 153.4h1M293.4 128.6h1M289.1 154.4h1M288.7 149.4h1M290.9 160.3h1M293.5 133.4h1M288.0 143.0h1M290.8 128.3h1M283.5 130.5h1M293.1 127.7h1M286.3 137.2h1M295.4 141.7h1M296.7 141.7h1M282.0 161.0h1M287.2 135.4h1M300.8 154.5h1M282.3 138.0h1M285.2 156.1h1M295.4 140.4h1M298.7 132.9h1M295.1 153.8h1M294.2 139.0h1M295.0 141.7h1M285.9 153.1h1M301.5 147.9h1M298.3 163.4h1M293.1 144.6h1M299.0 141.3h1M297.2 141.4h1M284.2 147.4h1M289.7 161.3h1M291.5 161.4h1M288.4 135.3h1M280.4 147.4h1M298.2 148.4h1M285.4 143.5h1M282.6 134.4h1M298.9 155.2h1M285.1 146.2h1M285.1 141.0h1M295.4 151.2h1M285.8 149.4h1M290.1 137.6h1M285.7 139.5h1M291.7 131.3h1M297.6 138.8h1M288.6 143.6h1M285.7 160.9h1M282.1 158.3h1M286.9 129.3h1M294.5 155.6h1M286.1 136.0h1M290.6 158.3h1M293.4 133.2h1M285.2 129.3h1M283.1 147.1h1M282.1 164.4h1M296.7 163.5h1M286.3 146.8h1M301.8 153.9h1M295.0 149.8h1M289.3 159.8h1M284.7 155.9h1M282.7 149.6h1M297.1 141.2h1M288.5 164.7h1M295.4 159.6h1M282.3 162.9h1M280.5 161.7h1M289.9 136.9h1M296.8 128.4h1M285.3 156.4h1M286.8 130.5h1M283.9 145.3h1M286.7 162.3h1M283.5 128.2h1M281.5 157.3h1M281.8 144.9h1M281.6 162.4h1M283.9 152.5h1M289.5 148.9h1M286.2 136.8h1M282.2 153.6h1M299.7 140.6h1M283.4 135.0h1M280.4 159.5h1M289.9 127.6h1M292.1 163.6h1M290.7 161.0h1M289.5 156.4h1M298.2 138.5h1M294.4 149.8h1M296.8 149.8h1M295.9 162.7h1M289.0 129.6h1M289.9 148.0h1M294.8 155.1h1M295.6 141.0h1M299.6 143.5h1M282.7 140.1h1M298.2 139.1h1M286.9 157.6h1M285.2 131.5h1M282.7 153.7h1M283.5 156.1h1M285.6 161.8h1M289.1 143.7h1M286.7 147.4h1M290.0 162.6h1M283.0 140.7h1M289.1 140.2h1M286.8 144.6h1M293.2 157.8h1M289.6 158.4h1M287.0 165.0h1M297.7 139.3h1M289.8 140.7h1M290.1 158.5h1M283.2 130.8h1M292.6 133.0h1M294.4 148.5h1M291.9 164.6h1M293.3 161.1h1M294.8 144.5h1M280.4 156.4h1M299.3 158.2h1M299.1 132.7h1M286.7 156.7h1M290.9 134.7h1M287.2 137.6h1M288.3 143.9h1M294.0 140.5h1M286.2 164.2h1M295.7 144.9h1M291.3 153.9h1M277.3 159.1h1M300.7 153.1h1M285.0 160.1h1M292.5 153.6h1M293.0 162.7h1M290.2 153.1h1M297.6 165.4h1M291.0 131.1h1M291.1 155.3h1M292.7 145.9h1M285.7 139.6h1M297.2 146.1h1M287.7 157.0h1M295.2 137.5h1M290.2 145.4h1M292.3 156.3h1M290.3 153.5h1M285.2 140.9h1M288.8 132.1h1M289.1 138.5h1M288.9 134.4h1M288.3 164.5h1M283.7 137.5h1M301.3 157.3h1M290.1 150.7h1M295.2 149.0h1M288.8 142.0h1M284.6 151.9h1M287.2 138.5h1M288.7 128.0h1M296.8 142.4h1M291.8 159.3h1M290.0 131.8h1M281.4 136.5h1M287.5 151.1h1M295.1 158.4h1M284.4 156.5h1M281.3 140.4h1M293.2 153.1h1M290.9 127.4h1M289.4 160.8h1M295.2 162.3h1M287.8 132.5h1M296.1 150.0h1M292.9 146.4h1M298.2 141.6h1M290.1 136.3h1M284.5 147.8h1M293.7 138.2h1M296.2 134.9h1M288.4 140.0h1M285.8 131.4h1M296.5 153.7h1M278.9 136.8h1M286.6 147.7h1M285.2 149.4h1M291.3 159.0h1M283.3 154.2h1M291.6 163.8h1M290.0 139.6h1M295.3 141.7h1M288.6 165.2h1M288.1 132.8h1M285.0 138.7h1M284.6 163.4h1M291.2 151.2h1M301.4 136.4h1M285.0 149.5h1M300.4 153.0h1M282.7 150.3h1M299.4 147.1h1M292.2 127.9h1M294.4 149.3h1M289.5 134.2h1M286.0 146.0h1M292.0 156.6h1M277.1 137.8h1M284.0 129.6h1M285.2 133.1h1M285.7 135.6h1M291.2 144.9h1M293.6 126.7h1M294.6 125.9h1M290.8 144.2h1M296.0 156.0h1M291.5 163.6h1M280.7 160.8h1M282.1 131.1h1M298.3 150.3h1M285.8 136.0h1M295.8 147.4h1M296.1 156.9h1M292.4 129.0h1M289.4 131.7h1M294.5 136.6h1M294.1 146.4h1M285.0 142.1h1M296.8 135.6h1M290.2 158.1h1M300.5 137.6h1M295.7 139.2h1M287.9 157.7h1M295.7 132.1h1M290.9 140.8h1M281.7 156.8h1M281.4 133.6h1M280.9 147.4h1M299.3 159.2h1M294.0 161.9h1M281.4 158.6h1M288.9 142.8h1M299.9 138.0h1M288.2 124.7h1M287.3 161.4h1M294.3 130.1h1M281.5 156.3h1M286.4 151.0h1M293.9 163.1h1M293.5 148.1h1M283.7 155.9h1M296.5 136.6h1M285.7 127.3h1M283.0 135.7h1M289.1 163.9h1M279.7 135.4h1M296.7 130.4h1M283.8 128.6h1M283.7 145.7h1M282.9 150.5h1M291.3 138.5h1M292.3 149.2h1M281.9 130.5h1M291.7 153.9h1M299.3 133.3h1M291.7 138.4h1M282.1 148.9h1M292.5 143.7h1M281.9 148.2h1M279.8 142.9h1M281.9 145.4h1M281.0 162.0h1M294.1 145.7h1M295.4 163.5h1M294.6 163.0h1M286.1 125.9h1M292.8 140.2h1M285.5 132.7h1M300.5 149.9h1M285.3 161.5h1M283.8 130.9h1M288.6 146.4h1M288.7 145.6h1M293.5 141.9h1M303.5 150.4h1M294.2 144.4h1M294.5 144.5h1M298.2 143.8h1M286.0 136.6h1M286.2 144.2h1M289.2 134.6h1M294.6 141.3h1M283.4 138.1h1M298.9 158.9h1M301.2 139.8h1M289.9 149.1h1M287.9 158.9h1M295.6 161.3h1M284.7 138.4h1M302.4 148.9h1M288.8 143.1h1M291.9 153.5h1M285.2 158.6h1M282.9 142.8h1M285.5 140.1h1M295.9 156.9h1M285.9 140.6h1M297.1 149.8h1M285.0 163.1h1M295.4 135.0h1M297.8 161.8h1M300.3 163.5h1M283.4 164.4h1M300.5 134.1h1M297.2 137.8h1M294.6 135.2h1M290.7 159.8h1M297.6 135.9h1M294.0 137.2h1M299.7 152.3h1M292.6 155.0h1M290.9 132.5h1M301.0 131.6h1M294.2 134.0h1M281.4 146.2h1M294.7 145.9h1M285.9 162.5h1M287.5 159.5h1M279.8 136.7h1M287.5 155.0h1M287.0 152.7h1M290.1 161.4h1M292.6 136.9h1M299.1 161.0h1M289.7 151.3h1M293.4 144.6h1M293.0 152.8h1M303.8 155.9h1M293.4 127.5h1M284.7 141.2h1M296.1 142.9h1M283.0 157.2h1M296.7 142.6h1M297.7 155.1h1M298.6 154.9h1M282.3 154.4h1M286.3 143.1h1M287.9 160.0h1M293.8 142.3h1M294.0 144.0h1M282.7 156.3h1M285.7 125.0h1M290.8 147.8h1M294.0 131.8h1M294.7 137.0h1M293.6 151.7h1M294.9 147.7h1M301.3 147.3h1M288.2 132.1h1M289.6 145.9h1M298.1 138.5h1M298.5 149.6h1M283.3 129.6h1M299.9 161.3h1M289.3 130.3h1M282.1 148.0h1M286.8 130.2h1M301.9 151.1h1M283.4 135.1h1M284.4 138.0h1M293.9 132.1h1M292.9 143.5h1M292.0 125.9h1M298.3 154.0h1M288.9 138.2h1M292.7 154.7h1M297.3 155.2h1M284.3 136.1h1M280.1 155.8h1M284.2 147.6h1M288.7 157.1h1M296.2 139.0h1M289.2 139.3h1M285.2 152.5h1M297.5 134.1h1M296.8 164.6h1M300.1 139.7h1M285.2 155.4h1M301.9 141.7h1M288.2 147.6h1M295.7 146.4h1M303.2 147.4h1M277.4 141.1h1M290.8 162.9h1M294.5 142.0h1M285.2 143.5h1M293.9 138.7h1M294.0 148.1h1M295.2 143.9h1M286.4 141.1h1M297.1 152.1h1M296.3 128.2h1M285.1 156.4h1M286.8 128.8h1M283.9 133.4h1M285.4 131.2h1M286.4 133.2h1M295.7 164.6h1M285.8 159.6h1M298.5 161.3h1M287.2 141.1h1M289.8 141.0h1M297.5 155.9h1M293.7 146.9h1M284.5 162.2h1M282.9 143.0h1M284.1 141.7h1M295.2 151.0h1M287.0 134.2h1M279.1 138.7h1M287.6 132.2h1M298.3 129.7h1M298.6 132.3h1M292.9 152.1h1M295.5 146.3h1M292.7 146.4h1M283.5 141.9h1M295.5 152.3h1M287.2 133.2h1M290.0 130.0h1M300.2 133.6h1M294.5 141.2h1M285.8 142.2h1M295.4 139.7h1M283.5 161.1h1M284.6 151.4h1M299.5 143.0h1M292.7 137.8h1M293.7 130.5h1M290.4 147.9h1M290.9 160.2h1M293.5 154.0h1M288.5 135.1h1M282.1 142.5h1M298.3 148.8h1M279.4 135.9h1M301.8 147.1h1M302.6 157.6h1M280.5 131.7h1M278.9 148.4h1M296.7 152.0h1M293.3 157.2h1M286.1 161.2h1M289.3 140.5h1M299.3 137.2h1M285.5 129.4h1M286.0 135.4h1M283.5 143.1h1M288.7 132.7h1M284.8 137.0h1M284.1 152.8h1M291.7 157.3h1M287.7 143.9h1M294.2 143.4h1M285.3 139.6h1M288.2 155.6h1M286.1 162.0h1M289.9 150.8h1M290.3 145.4h1M298.7 160.4h1M289.9 135.3h1M282.8 131.5h1M287.6 155.1h1M294.9 164.7h1M290.5 138.6h1M284.5 127.1h1M283.5 153.6h1M289.2 164.0h1M301.9 133.6h1M288.6 137.0h1M288.4 131.1h1M282.1 133.0h1M289.9 157.4h1M286.4 137.6h1M293.2 150.8h1M289.8 153.1h1M293.6 142.8h1M289.0 154.6h1M290.4 156.1h1M283.9 160.6h1M285.9 136.6h1M291.8 158.1h1M293.4 140.9h1M293.7 147.4h1M283.6 155.2h1M291.4 127.5h1M292.8 150.7h1M285.8 148.2h1M289.6 141.3h1M289.4 149.3h1M287.4 156.7h1M286.6 156.3h1M286.1 160.7h1M297.8 140.9h1M288.5 161.7h1M286.2 163.6h1M290.9 132.7h1M283.9 137.8h1M288.1 136.0h1M296.5 158.0h1M297.6 132.6h1M296.0 137.3h1M283.2 126.5h1M291.2 160.9h1M289.4 160.5h1M294.5 128.3h1M299.8 141.7h1M295.2 149.1h1M289.4 150.7h1M282.5 135.5h1M288.5 134.2h1M285.1 164.3h1M291.9 130.2h1M291.1 135.0h1M281.3 151.5h1M289.4 131.9h1M282.7 157.1h1M281.2 136.5h1M289.7 161.7h1M295.6 158.1h1M294.8 160.3h1M298.9 161.1h1M300.4 141.5h1M294.5 157.6h1M295.4 152.5h1M284.9 157.7h1M291.2 158.4h1M294.4 159.3h1M283.9 128.4h1M297.7 164.0h1M302.6 135.8h1M287.8 146.5h1M299.1 159.3h1M286.0 152.9h1M293.1 126.9h1M293.3 163.6h1M286.9 129.7h1M287.5 157.0h1M300.6 156.9h1M289.2 165.0h1M283.4 160.0h1M292.8 132.0h1M298.8 134.3h1M286.1 158.8h1M288.8 159.6h1M283.0 152.2h1M299.8 129.5h1M296.7 149.0h1M290.8 157.7h1M287.8 161.2h1M295.7 129.9h1M292.6 154.2h1M279.6 135.6h1M284.8 131.3h1M281.3 134.3h1M289.5 159.6h1M298.3 153.1h1M296.2 126.2h1M290.9 140.7h1M283.4 141.1h1M296.5 152.5h1M296.8 151.6h1M295.4 131.2h1M299.5 142.8h1M299.8 136.9h1M284.6 139.2h1M288.9 134.0h1M286.6 149.2h1M296.5 127.9h1M291.5 153.3h1M291.5 143.6h1M281.2 130.3h1M292.8 153.3h1M295.2 159.7h1M297.4 163.9h1M280.8 135.7h1M294.8 161.5h1M287.6 127.9h1M299.2 158.4h1M286.4 164.1h1M292.8 136.1h1M283.6 138.1h1M294.2 152.6h1M286.5 152.9h1M290.0 148.9h1M300.0 144.2h1M290.1 138.3h1M285.1 160.2h1M287.6 157.2h1M284.7 140.5h1M288.9 164.7h1M278.8 152.0h1M282.1 150.2h1M291.0 150.9h1M287.1 139.0h1M293.1 157.1h1M286.6 142.7h1M288.0 132.1h1M284.0 147.3h1M292.0 140.1h1M280.7 134.0h1M281.9 162.2h1M279.9 158.8h1M293.4 136.3h1M298.9 158.7h1M294.4 139.6h1M294.2 137.9h1M282.5 143.5h1M294.1 136.5h1M289.2 137.8h1M299.9 149.3h1M299.5 138.3h1M288.1 158.3h1M293.4 160.4h1M292.5 165.3h1M291.6 135.1h1M290.5 142.4h1M294.7 145.9h1M279.8 143.8h1M285.5 161.5h1M295.3 136.2h1M285.2 157.6h1M290.7 163.9h1M286.4 128.8h1M294.5 158.9h1M298.5 136.6h1M295.4 134.9h1M296.0 130.2h1M284.0 131.7h1M287.2 154.3h1M285.5 140.9h1M289.7 159.5h1M292.8 159.4h1M287.4 164.4h1M293.9 127.4h1M302.2 142.4h1M293.0 140.6h1M292.5 148.4h1M303.3 142.8h1M298.0 133.2h1M297.2 133.8h1M282.7 159.3h1M283.1 148.9h1M287.2 156.5h1M292.9 155.8h1M282.1 158.1h1M288.9 146.4h1M296.2 139.2h1M286.0 152.5h1M294.0 134.8h1M300.9 154.7h1M291.9 139.2h1M299.0 134.8h1M283.7 134.7h1M294.4 141.2h1M284.6 158.5h1M282.6 129.2h1M286.1 153.0h1M292.4 158.6h1M290.4 157.0h1M296.8 164.4h1M298.4 159.0h1M284.5 143.0h1M294.9 133.7h1M293.6 157.4h1M285.5 151.7h1M300.0 159.1h1M299.3 155.9h1M296.9 138.0h1M288.0 136.0h1M286.0 129.3h1M294.9 136.1h1M291.3 159.2h1M280.7 135.4h1M291.7 147.8h1M286.9 128.5h1M279.7 149.3h1M291.9 146.6h1M296.5 153.5h1M291.7 139.6h1M284.9 148.5h1M279.9 150.5h1M283.6 163.3h1M285.7 154.1h1M298.7 133.9h1M285.4 145.5h1M290.7 143.4h1M289.3 158.5h1M298.6 143.3h1M287.6 160.8h1M293.0 160.4h1M291.8 154.3h1M297.8 153.0h1M296.4 146.0h1M288.4 150.1h1M295.3 158.3h1M288.3 165.3h1M295.0 140.7h1M290.6 142.8h1M276.8 150.7h1M292.2 158.4h1M294.7 163.7h1M281.5 138.4h1M281.0 154.8h1M287.6 136.1h1M287.8 153.9h1M296.4 161.5h1M285.6 151.0h1M298.0 126.8h1M290.5 161.6h1M291.3 133.8h1M288.6 131.6h1M294.5 139.0h1M299.5 162.4h1M296.2 144.4h1M296.9 156.0h1M290.3 163.0h1M293.5 146.3h1M282.2 147.9h1M289.9 163.6h1M299.2 143.3h1M289.5 135.6h1M283.5 162.8h1M295.8 157.1h1M287.3 151.0h1M292.8 140.9h1M297.4 149.3h1M286.0 145.1h1M292.0 155.8h1M292.6 131.5h1M293.6 123.8h1M289.9 132.3h1M293.8 161.0h1M302.0 149.7h1M282.5 137.7h1M290.0 162.1h1M295.8 129.2h1M291.8 152.0h1M292.8 164.8h1M290.5 163.4h1M298.1 163.9h1M293.2 131.3h1M297.4 128.6h1M284.2 161.6h1M290.2 152.5h1M293.3 140.5h1M285.0 128.5h1M299.3 165.1h1M292.5 128.5h1M292.1 165.2h1M288.4 162.4h1M299.5 162.4h1M297.8 159.5h1M289.7 148.5h1M289.7 164.7h1M285.5 145.2h1M301.5 154.1h1M292.9 145.2h1M292.8 164.3h1M285.2 131.4h1M295.9 150.4h1M305.0 156.7h1M295.2 161.6h1M281.2 141.4h1M288.7 141.6h1M293.7 155.1h1M292.1 158.0h1M281.8 156.5h1M295.0 146.8h1M286.4 143.4h1M291.7 132.5h1M290.3 137.0h1M293.9 129.8h1M284.2 141.6h1M286.6 158.1h1M297.5 133.0h1M291.3 157.0h1M281.8 152.2h1M289.4 142.9h1M283.8 160.5h1M285.3 164.7h1M289.7 143.4h1M288.2 163.5h1M289.3 158.8h1M296.9 147.5h1M287.4 161.6h1M288.6 140.9h1M299.5 151.4h1M282.3 141.5h1M289.2 128.3h1M287.9 161.9h1M288.6 144.3h1M288.1 146.8h1M296.2 151.7h1M295.2 157.5h1M292.4 133.4h1M295.5 159.0h1M286.8 144.0h1M300.8 160.7h1M288.0 163.1h1M298.5 135.1h1M288.7 164.8h1M298.1 158.8h1M279.8 156.6h1M287.2 139.7h1M284.7 130.9h1M292.7 160.7h1M295.0 132.0h1M285.3 162.9h1M289.3 158.8h1M283.1 149.7h1M290.7 155.8h1M289.6 138.3h1M294.8 144.3h1M296.6 144.1h1M282.6 136.7h1M298.1 148.8h1M288.7 144.4h1M289.7 150.6h1M299.5 156.1h1M300.3 131.0h1M296.0 128.9h1M285.2 165.0h1M294.0 139.6h1M292.2 128.5h1M284.6 144.5h1M290.4 152.9h1M287.3 150.6h1M286.1 139.4h1M298.5 130.1h1M295.7 135.6h1M282.0 133.3h1M295.4 129.7h1M293.2 159.2h1M291.2 133.7h1M287.9 160.6h1M295.0 151.1h1M299.5 141.5h1M295.6 128.0h1M293.1 158.8h1M289.2 152.4h1M298.5 137.4h1M286.7 146.4h1M292.2 135.9h1M294.8 148.7h1M289.9 160.3h1M290.8 133.2h1M283.9 130.5h1M292.8 155.9h1M298.6 147.0h1M295.6 148.4h1M287.5 138.9h1M299.7 156.1h1M282.3 143.3h1M294.4 145.4h1M289.8 126.0h1M288.7 152.3h1M298.1 128.6h1M294.6 160.7h1M295.4 157.9h1M288.3 137.3h1M297.2 153.9h1M286.3 141.5h1M291.2 131.4h1M293.9 153.2h1M288.4 163.7h1M294.2 147.4h1M292.1 131.1h1M299.8 162.1h1M293.0 156.6h1M292.7 150.5h1M285.8 142.8h1M285.0 135.3h1M287.3 128.3h1M285.3 156.6h1M297.8 147.2h1M279.7 144.6h1M289.3 150.4h1M297.4 158.0h1M283.5 126.0h1M285.3 148.3h1M301.3 147.3h1M297.2 157.3h1M283.3 157.7h1M295.5 150.4h1M282.4 144.3h1M290.8 137.8h1M287.6 150.6h1M292.9 134.0h1M293.9 152.7h1M288.6 129.6h1M289.0 151.0h1M290.4 164.4h1M294.8 125.6h1M290.6 153.9h1M297.1 141.9h1M295.6 130.2h1M284.3 127.3h1M297.2 156.8h1M297.8 150.0h1M289.9 149.3h1M295.5 152.6h1M290.6 145.1h1M285.5 132.4h1M300.5 140.2h1M292.9 160.8h1M293.1 128.2h1M282.8 131.9h1M283.1 161.1h1M294.8 145.1h1M298.7 139.8h1M278.0 153.9h1M281.3 162.3h1M289.8 126.7h1M295.7 131.4h1M294.2 130.9h1M290.2 135.0h1M285.2 137.7h1M288.9 149.7h1M294.5 146.4h1M296.9 137.5h1M293.4 145.9h1M280.6 149.9h1M278.4 140.9h1M297.1 148.0h1M299.6 147.6h1M291.2 146.4h1M290.5 143.7h1M291.1 148.0h1M298.9 129.2h1M281.2 133.3h1M296.3 163.3h1M281.3 157.6h1M282.6 157.3h1M299.7 135.6h1M290.4 129.1h1M289.6 161.6h1M296.5 128.6h1M287.3 140.4h1M281.9 129.5h1M290.2 128.9h1M287.1 150.7h1M283.0 126.5h1M299.8 139.8h1M278.8 154.5h1M291.1 133.9h1M297.5 149.0h1M281.6 142.0h1M296.6 162.6h1M283.3 153.0h1M284.3 155.2h1M287.4 140.2h1M285.6 128.7h1M289.4 146.6h1M295.2 139.1h1M292.0 136.7h1M286.6 154.9h1M290.2 145.5h1M286.3 151.4h1M297.6 165.4h1M290.0 162.3h1M302.8 151.7h1M282.2 152.1h1M285.2 160.9h1M285.7 157.9h1M285.2 161.9h1M298.1 137.2h1M291.8 131.1h1M293.2 150.8h1M298.2 129.8h1M283.0 165.5h1M293.3 160.5h1M294.0 164.3h1M285.4 144.0h1M284.0 150.5h1M299.4 161.7h1M295.2 139.4h1M283.9 139.1h1M284.0 152.8h1M282.9 143.9h1M297.0 127.5h1M277.4 136.9h1M300.3 134.5h1M297.0 164.5h1M292.6 133.0h1M296.1 162.4h1M295.1 155.1h1M288.2 131.0h1M294.6 129.8h1M295.8 139.5h1M281.2 139.8h1M287.0 125.1h1M292.8 142.2h1M296.6 125.8h1M284.9 131.3h1M283.3 133.1h1M295.5 157.3h1M283.6 165.3h1M281.8 153.0h1M292.1 153.7h1M295.9 155.2h1M298.9 151.9h1M290.4 146.0h1M288.9 154.7h1M283.6 128.6h1M288.1 126.7h1M293.9 142.2h1M294.5 164.7h1M292.8 130.4h1M279.4 131.7h1M297.8 157.4h1M289.4 139.2h1M297.0 135.2h1M285.2 133.7h1M288.8 161.2h1M291.1 134.3h1M293.7 152.2h1M287.1 130.3h1M289.0 138.5h1M298.8 132.0h1M283.4 142.8h1M296.6 150.9h1M294.9 135.8h1M297.4 141.7h1M294.6 156.8h1M280.8 156.0h1M280.2 162.0h1M283.8 147.4h1M292.5 137.8h1M296.2 158.0h1M304.1 135.3h1M289.7 132.2h1M298.7 146.2h1M300.2 140.6h1M284.7 164.0h1M284.0 158.8h1M292.6 133.9h1M287.1 157.8h1M297.0 163.0h1M286.4 133.5h1M293.5 146.6h1M290.8 141.9h1M291.3 145.4h1M295.2 160.6h1M288.1 162.2h1M301.7 155.4h1M292.0 155.6h1M295.0 134.6h1M279.2 158.2h1M294.7 130.9h1M286.0 164.8h1M301.4 159.1h1M287.4 131.2h1M301.4 150.2h1M292.2 128.7h1M292.4 131.1h1M287.7 146.8h1M288.6 155.4h1M298.7 154.9h1M288.5 139.3h1M280.2 139.5h1M284.3 131.1h1M291.1 150.1h1M300.3 132.1h1M279.6 142.2h1M289.9 149.6h1M288.8 135.3h1M294.0 135.4h1M291.4 155.7h1M292.5 165.2h1M295.6 127.5h1M287.7 138.3h1M296.3 137.0h1M286.9 144.9h1M297.9 160.1h1M283.4 156.4h1M283.6 152.1h1M293.0 153.7h1M299.4 146.1h1M282.6 144.9h1M282.1 131.4h1M290.5 142.9h1M283.1 157.0h1M296.6 144.6h1M281.7 151.0h1M282.0 152.6h1M287.4 154.5h1M302.7 145.5h1M290.7 129.1h1M282.3 135.2h1M288.2 158.3h1M295.8 164.9h1M297.7 142.5h1M296.2 145.9h1M289.9 142.9h1M287.9 159.9h1M281.3 147.7h1M288.3 157.0h1M283.8 138.5h1M283.8 148.9h1M287.4 155.5h1M300.7 148.3h1M290.5 130.7h1M292.5 126.6h1M285.4 164.1h1M289.1 146.1h1M285.1 163.8h1M283.0 141.5h1M278.0 142.2h1M292.2 156.7h1M289.2 146.1h1M299.1 150.6h1M285.5 160.7h1M296.8 139.3h1M294.4 156.6h1M282.5 143.1h1M297.8 147.4h1M297.2 142.4h1M286.0 147.0h1M288.0 126.6h1M291.3 149.7h1M280.6 155.1h1M288.0 127.2h1M299.0 157.7h1M288.8 149.8h1M286.7 151.2h1M277.4 142.9h1M289.1 137.8h1M294.0 136.8h1M287.8 142.5h1M299.5 144.1h1M291.9 162.0h1M303.9 155.9h1M281.4 134.7h1M291.8 135.8h1M281.7 156.7h1M287.5 139.3h1M292.6 130.1h1M285.8 129.1h1M284.6 138.3h1M297.0 133.4h1M283.6 148.0h1M282.5 133.9h1M286.5 162.8h1M287.7 164.9h1M285.8 133.8h1M285.9 132.9h1M286.7 164.6h1M282.6 156.9h1M282.1 135.0h1M295.0 151.4h1M285.3 142.6h1M284.0 152.7h1M299.8 135.7h1M298.2 154.8h1M286.4 139.4h1M295.9 145.9h1M293.1 127.9h1M287.9 126.1h1M292.0 130.9h1M281.5 142.0h1M291.3 149.5h1M292.7 152.4h1M281.8 132.0h1M292.2 145.2h1M288.1 156.9h1M295.2 145.3h1M289.2 146.1h1M289.6 134.5h1M283.8 141.8h1M295.9 130.6h1M289.7 153.8h1M292.6 141.0h1M283.7 142.3h1M292.2 127.9h1M298.1 141.2h1M293.1 140.8h1M280.1 156.4h1M289.6 156.1h1M286.0 138.5h1M283.1 159.8h1M281.3 158.6h1M293.2 159.9h1M282.7 141.0h1M298.1 155.0h1M289.0 163.2h1M297.9 136.0h1M295.3 152.7h1M295.4 158.7h1M287.0 161.8h1M284.6 138.2h1M283.1 130.1h1M289.0 134.6h1M298.3 164.4h1M296.9 144.8h1M288.6 161.4h1M295.3 142.3h1M293.4 162.6h1M286.1 156.5h1M290.2 146.9h1M282.7 156.1h1M292.0 134.1h1M291.9 161.3h1M298.0 147.4h1M291.3 144.5h1M296.3 154.1h1M299.6 145.8h1M286.2 153.1h1M292.9 160.5h1M290.0 135.8h1M293.9 161.7h1M298.2 152.4h1M288.9 158.5h1M287.2 157.9h1M284.9 131.6h1M296.8 146.1h1M286.0 137.3h1M291.9 135.3h1M281.4 133.1h1M293.1 150.5h1M301.7 138.1h1M291.4 149.9h1M289.8 161.0h1M290.5 140.7h1M297.0 134.0h1M285.4 165.3h1M294.7 129.6h1M289.3 159.5h1M297.3 145.5h1M285.1 138.1h1M286.6 156.6h1M294.8 162.7h1M301.4 159.5h1M282.0 133.7h1M286.8 134.3h1M288.3 156.9h1M289.9 133.7h1M285.5 144.0h1M297.8 149.2h1M287.4 129.2h1M283.7 138.2h1M297.1 154.3h1M284.1 141.4h1M294.6 159.6h1M290.9 155.5h1M286.7 153.2h1M286.6 164.6h1M289.1 156.9h1M296.2 141.4h1M284.8 138.3h1M282.1 162.6h1M283.8 157.7h1M296.0 133.1h1M295.7 164.8h1M293.2 156.3h1M287.5 129.4h1M288.3 138.3h1M296.4 126.0h1M285.0 147.9h1M299.1 161.4h1M293.3 151.6h1M282.8 143.7h1M291.2 160.6h1M285.2 145.9h1M293.8 152.7h1M287.0 128.9h1M283.0 156.4h1M297.6 159.8h1M289.2 140.1h1M294.7 153.7h1M284.9 130.3h1M295.2 163.4h1M288.2 147.5h1M287.0 144.7h1M292.3 154.9h1M298.5 132.6h1M287.4 137.6h1M288.9 164.0h1M300.7 145.8h1M282.5 153.2h1M293.8 132.0h1M283.5 130.3h1M292.3 152.6h1M285.6 130.9h1M288.2 136.5h1M295.4 142.1h1M297.2 130.4h1M293.2 130.6h1M297.9 155.2h1M292.5 158.9h1M295.6 148.9h1M282.4 154.7h1M283.8 134.3h1M296.6 162.9h1M286.6 144.3h1M287.9 128.5h1M295.4 142.4h1M292.5 136.6h1M298.2 132.6h1M291.0 144.5h1M293.1 163.0h1M286.3 158.8h1M297.6 134.6h1M295.6 163.1h1M287.7 128.6h1M281.0 155.4h1M291.5 139.0h1M298.1 151.8h1M285.2 131.4h1M298.4 153.9h1M299.0 156.6h1M287.7 131.0h1M284.4 138.1h1M280.5 144.8h1M283.6 148.9h1M290.9 152.6h1M284.8 147.4h1M287.4 129.0h1M290.5 143.4h1M283.8 129.2h1M284.4 128.6h1M297.5 159.8h1M289.9 155.2h1M289.1 163.7h1M295.5 138.4h1M283.4 133.0h1M285.4 157.8h1M287.1 134.4h1M290.0 136.5h1M285.5 132.5h1M300.3 148.8h1M285.1 163.5h1M294.2 143.1h1M291.0 150.8h1M295.3 156.8h1M291.9 163.6h1M291.1 148.5h1M301.4 156.2h1M290.4 136.7h1M287.3 164.3h1M295.4 133.2h1M285.1 139.6h1M288.1 165.4h1M282.6 149.3h1M291.8 160.3h1M283.1 154.9h1M279.6 137.0h1M297.5 143.7h1M299.3 132.8h1M288.9 146.7h1M293.1 161.8h1M295.6 149.1h1M288.5 142.6h1M294.5 147.4h1M284.4 128.6h1M296.7 157.2h1M286.0 163.4h1M286.1 162.3h1M296.8 131.2h1M291.4 150.9h1M283.4 155.4h1M298.4 127.9h1M288.7 143.8h1M291.5 162.0h1M291.9 141.0h1M291.6 134.6h1M292.2 146.6h1M284.2 150.7h1M294.0 138.9h1M295.7 124.2h1M291.4 138.7h1M291.2 149.4h1M299.7 155.7h1M291.5 153.3h1M281.8 150.4h1M299.4 163.1h1M297.6 127.3h1M293.2 161.3h1M284.5 152.1h1M282.5 133.5h1M301.2 157.1h1M288.5 162.9h1M281.7 135.6h1M288.2 165.3h1M285.8 135.8h1M300.7 149.8h1M290.5 160.2h1M292.7 145.6h1M282.3 152.3h1M290.0 144.7h1M296.2 161.3h1M299.4 162.9h1M285.9 148.4h1M289.9 149.2h1M292.3 144.7h1M294.3 130.4h1M300.0 158.0h1M288.4 134.5h1M296.4 151.1h1M288.6 145.7h1M303.3 150.2h1M297.4 130.9h1M298.7 135.4h1M298.9 150.7h1M294.0 143.0h1M292.2 138.4h1M302.9 154.9h1M282.0 156.0h1M288.5 138.3h1M295.0 145.1h1M290.8 144.0h1M285.8 140.0h1M286.4 149.2h1M287.7 157.2h1M289.1 159.3h1M293.9 150.7h1M292.3 132.1h1M295.0 144.7h1M298.2 141.5h1M288.7 155.6h1M293.4 134.5h1M283.9 140.0h1M296.6 156.3h1M284.9 153.5h1M292.1 161.5h1M288.1 145.0h1M292.5 134.0h1M288.9 142.1h1M299.0 137.7h1M280.4 134.7h1M293.7 163.1h1M282.4 154.8h1M292.3 154.8h1M300.4 134.0h1M291.0 164.2h1M293.1 134.1h1M283.4 129.9h1M294.6 148.3h1M291.8 158.3h1M284.5 133.8h1M284.7 151.4h1M290.0 140.9h1M285.9 137.6h1M284.7 153.2h1M295.7 140.3h1M285.8 164.2h1M288.5 138.0h1M282.7 149.5h1M299.4 149.2h1M295.0 133.5h1M300.8 146.2h1M287.9 145.6h1M299.7 131.7h1M292.4 163.2h1M281.9 133.4h1M300.9 145.2h1M288.5 149.9h1M295.0 141.3h1M286.5 164.8h1M287.9 141.1h1M293.0 146.3h1M290.4 156.0h1M296.0 165.0h1M290.9 146.3h1M293.7 130.8h1M298.1 143.0h1M297.3 134.6h1M292.6 132.9h1M292.1 148.8h1M284.1 160.9h1M289.2 160.4h1M282.5 141.4h1M282.2 137.4h1M301.3 130.3h1M293.9 150.1h1M285.8 140.2h1M290.4 158.6h1M303.6 142.1h1M288.5 152.3h1M284.3 158.0h1M287.7 132.9h1M289.9 142.7h1M289.9 156.4h1M293.5 129.8h1M291.4 155.5h1M297.5 133.6h1M288.5 142.2h1M299.2 146.0h1M291.5 129.4h1M290.7 157.0h1M288.3 138.9h1M279.4 137.3h1M287.0 153.7h1M298.5 154.4h1M296.6 133.9h1M285.9 134.2h1M288.5 138.8h1M291.6 158.9h1M291.0 163.6h1M299.8 147.3h1M293.7 134.8h1M282.7 144.4h1M296.8 135.6h1M293.7 164.3h1M295.0 161.1h1M282.3 153.2h1M283.9 146.7h1M289.6 157.6h1M280.7 143.5h1M288.1 146.8h1M286.9 149.4h1M299.2 145.9h1M292.6 150.6h1M284.3 136.7h1M290.4 150.5h1M285.7 163.5h1M293.0 165.4h1M281.3 161.3h1M285.0 160.1h1M279.8 144.2h1M292.0 146.7h1M290.5 164.8h1M291.1 139.2h1M280.7 137.5h1M291.2 143.8h1M290.5 164.4h1M296.0 130.6h1M296.5 127.7h1M294.0 157.4h1M287.9 152.4h1M289.2 128.6h1M288.6 158.3h1M302.1 143.2h1M292.3 132.3h1M297.6 141.5h1M301.4 148.0h1M291.6 148.4h1M290.3 164.4h1M297.4 158.8h1M290.8 135.9h1M295.5 133.5h1M289.9 129.7h1M293.4 163.8h1M292.3 152.6h1M295.8 138.4h1M293.1 138.1h1M288.6 138.2h1M291.5 134.6h1M291.2 147.2h1M290.8 133.4h1M293.0 146.1h1M283.8 164.9h1M293.4 138.8h1M298.0 137.6h1M291.8 131.8h1M300.0 155.9h1M297.7 159.5h1M295.6 153.1h1M290.3 159.6h1M295.6 162.6h1M288.3 158.9h1M289.6 132.6h1M290.4 137.3h1M294.7 132.8h1M292.5 130.3h1M283.9 152.7h1M287.3 149.2h1M287.2 128.8h1M294.4 164.6h1M300.3 158.1h1M298.6 131.3h1M294.0 149.9h1M291.6 141.1h1M297.8 146.5h1M284.2 155.8h1M290.2 163.9h1M285.1 134.7h1M282.2 158.7h1M287.9 129.1h1M298.4 139.5h1M295.8 155.5h1M286.1 161.3h1M287.2 132.6h1M295.8 133.1h1M286.5 158.6h1M287.6 149.0h1M294.3 150.8h1M300.8 154.6h1M282.1 134.8h1M295.9 136.9h1M292.2 136.0h1M291.4 128.5h1M291.9 140.0h1M296.0 164.4h1M285.8 163.1h1M290.3 162.5h1M294.4 148.0h1M291.5 149.1h1M287.8 134.9h1M290.3 144.2h1M288.3 145.1h1M287.4 147.2h1M299.1 149.6h1M294.6 163.9h1M287.2 150.8h1M298.3 159.4h1M292.8 142.1h1M279.9 134.0h1M286.6 135.0h1M293.2 129.9h1M295.7 149.9h1M288.1 135.1h1M286.5 130.4h1M282.6 130.7h1M296.9 140.1h1M292.1 129.3h1M283.5 160.5h1M297.8 149.3h1M289.4 161.5h1M281.9 157.1h1M294.7 159.1h1M291.7 156.6h1M278.9 159.5h1M289.9 153.8h1M294.2 143.6h1M295.6 152.1h1M286.4 126.1h1M284.4 148.1h1M292.7 156.4h1M297.9 143.6h1M285.2 150.9h1M293.1 164.9h1M291.6 161.8h1M288.7 156.1h1M285.7 141.7h1M287.0 134.7h1M291.0 144.3h1M285.1 157.0h1M286.6 160.4h1M281.5 146.2h1M287.2 161.1h1M284.3 147.1h1M290.7 146.7h1M291.5 160.2h1M284.3 149.3h1M297.0 127.7h1M280.3 160.2h1M292.7 150.4h1M302.6 134.3h1M291.3 157.9h1M285.9 134.8h1M291.9 154.2h1M293.2 142.2h1M282.7 138.2h1M277.5 158.1h1M297.7 146.6h1M287.7 144.9h1M286.0 131.8h1M290.9 142.6h1M293.4 129.2h1M287.7 144.7h1M295.4 136.1h1M289.4 164.2h1M293.5 162.8h1M300.5 136.3h1M302.6 149.1h1M283.8 163.5h1M287.3 159.2h1M283.0 164.0h1M282.3 127.4h1M300.1 149.3h1M287.9 144.8h1M296.0 162.7h1M294.9 149.4h1M286.4 152.1h1M285.6 133.2h1M285.1 152.3h1M298.5 142.9h1M297.7 127.8h1M297.3 131.9h1M285.0 139.0h1M302.6 144.8h1M281.5 143.4h1M284.6 152.6h1M279.4 155.5h1M296.4 142.1h1M289.4 135.5h1M296.4 147.6h1M288.1 149.1h1M290.2 155.3h1M287.5 157.1h1M280.3 141.1h1M290.3 161.0h1M290.2 154.7h1M287.0 159.9h1M290.8 160.7h1M291.9 135.4h1M294.0 143.2h1M292.3 135.1h1M291.0 142.4h1M286.5 141.0h1M291.5 140.9h1M282.8 157.0h1M294.2 128.2h1M291.0 146.5h1M286.1 165.1h1M280.7 147.9h1M297.9 131.1h1M282.7 154.0h1M294.4 145.1h1M289.7 131.7h1M293.7 164.8h1M295.9 146.0h1M290.3 160.3h1M288.6 162.7h1M280.0 131.6h1M292.8 149.8h1M292.3 137.6h1M290.2 134.7h1M290.8 148.6h1M286.9 144.8h1M283.2 164.8h1M298.7 144.9h1M282.0 150.6h1M286.6 152.9h1M293.6 161.4h1M287.9 134.1h1M297.4 165.2h1M284.3 128.2h1M300.0 143.5h1M293.3 145.8h1M282.2 131.8h1M291.9 152.7h1M295.6 158.0h1M296.4 139.8h1M286.1 142.5h1M282.2 137.6h1M292.9 150.6h1M298.3 128.9h1M288.7 145.3h1M297.2 128.7h1M284.3 150.8h1M290.3 129.9h1M291.4 147.9h1M284.5 129.4h1M296.7 148.3h1M291.6 131.5h1M299.3 134.3h1M291.2 161.3h1M288.3 147.9h1M288.1 142.3h1M281.2 137.0h1M282.6 163.2h1M300.0 155.7h1M297.5 147.4h1M287.1 146.4h1M294.6 154.8h1M289.7 154.5h1M294.5 162.8h1M287.8 139.1h1M298.0 145.9h1M291.3 157.4h1M282.8 136.3h1M296.1 142.9h1M293.7 151.9h1M289.3 134.0h1M287.9 147.5h1M295.9 127.5h1M284.7 160.0h1M300.8 141.7h1M295.2 131.1h1M292.7 163.3h1M290.4 157.1h1M288.4 160.8h1M294.2 165.2h1M287.8 154.1h1M288.7 133.8h1M294.6 132.3h1M282.6 128.8h1M282.4 137.5h1M296.7 155.7h1M285.2 132.9h1M287.5 145.8h1M288.8 143.1h1M297.3 141.1h1M282.3 147.0h1M283.7 165.2h1M290.7 150.0h1M296.3 140.4h1M294.6 125.3h1M288.8 131.6h1M297.5 144.3h1M283.3 164.1h1M294.1 153.9h1M284.9 151.0h1M294.5 134.4h1M296.6 163.3h1M296.8 155.7h1M295.3 138.1h1M288.2 143.7h1M282.8 151.3h1M287.5 137.6h1M293.9 129.9h1M300.0 148.0h1M285.1 158.9h1M291.1 152.7h1M290.8 142.4h1M285.3 144.4h1M284.9 151.5h1M286.2 161.9h1M298.0 162.3h1M296.8 142.7h1M294.7 144.2h1M291.6 130.6h1M282.2 138.6h1M291.6 150.9h1M294.9 162.5h1M300.4 161.1h1M282.6 151.4h1M282.1 132.0h1M296.0 149.3h1M297.5 141.1h1M288.5 145.2h1M292.3 129.6h1M283.6 138.0h1M289.3 146.1h1M296.7 150.2h1M292.9 146.7h1M287.5 139.3h1M286.4 162.1h1M289.1 134.7h1M284.7 129.3h1M290.0 148.5h1M289.4 156.0h1M293.3 158.9h1M283.6 145.3h1M291.2 164.3h1M293.5 161.9h1M286.7 130.4h1M290.1 160.5h1M298.1 138.9h1M282.4 154.5h1M297.6 129.9h1M290.2 135.5h1M299.1 144.1h1M302.5 146.2h1M291.4 138.7h1M286.9 162.7h1M294.3 148.8h1M295.8 148.0h1M288.5 153.7h1M287.9 147.3h1M286.1 153.8h1M285.9 133.8h1M295.1 149.6h1M298.0 156.8h1M297.9 158.3h1M290.7 146.7h1M289.2 162.3h1M284.2 159.8h1M292.3 158.7h1M288.0 141.0h1M296.5 147.4h1M292.9 157.5h1M281.2 146.0h1M295.2 131.6h1M293.8 152.9h1M289.3 141.6h1M291.7 147.0h1M288.7 126.3h1M290.9 155.5h1M283.1 147.3h1M286.7 132.2h1M288.2 152.6h1M295.6 149.5h1M294.3 142.9h1M296.8 141.2h1M297.8 157.4h1M302.1 134.1h1M300.9 164.6h1M296.6 139.5h1M295.7 151.2h1M290.5 140.0h1M291.0 129.0h1M300.0 135.2h1M286.4 133.9h1M283.7 139.1h1M286.3 158.6h1M291.9 153.0h1M281.6 142.7h1M295.5 131.0h1M280.3 139.9h1M292.3 152.7h1M293.7 158.7h1M291.2 141.4h1M293.5 138.4h1M286.8 155.3h1M294.6 140.5h1M293.1 152.9h1M287.8 134.9h1M296.8 150.4h1M291.4 158.5h1M288.2 144.1h1M293.7 134.3h1M286.7 157.2h1M287.7 152.1h1M294.0 136.5h1M299.0 144.5h1M287.2 144.9h1M281.1 156.1h1M301.7 156.1h1M292.0 155.1h1M299.2 139.6h1M298.4 155.4h1M283.1 165.2h1M282.1 142.2h1M291.9 159.6h1M291.6 164.4h1M293.7 160.2h1M299.9 127.6h1M286.7 154.1h1M296.8 141.5h1M286.7 151.4h1M296.4 150.7h1M280.5 163.4h1M284.3 141.1h1M294.8 135.1h1M297.8 146.5h1M296.1 145.0h1M297.1 154.2h1M300.7 143.0h1M292.4 133.5h1M300.9 133.7h1M297.2 145.4h1M298.1 159.1h1M286.7 142.9h1M289.4 131.7h1M294.4 162.4h1M296.1 131.1h1M284.1 152.5h1M292.9 162.5h1M299.5 139.5h1M298.4 161.0h1M288.2 149.1h1M281.8 153.4h1M291.9 164.4h1M284.9 131.6h1M287.5 164.5h1M297.6 128.3h1M297.9 145.4h1M294.9 127.1h1M283.8 151.1h1M295.8 146.8h1M302.9 144.1h1M295.5 144.0h1M296.5 128.0h1M300.1 135.8h1M294.4 142.4h1M299.6 135.7h1M293.0 165.3h1M287.5 129.3h1M289.1 131.5h1M295.4 135.8h1M281.4 161.1h1M293.3 164.7h1M295.3 139.4h1M293.3 144.9h1M295.9 153.1h1M288.3 134.7h1M288.9 145.5h1M292.3 147.2h1M285.9 156.0h1M283.2 139.7h1M300.4 130.6h1M281.8 134.7h1M287.5 137.1h1M294.2 162.7h1M285.1 150.2h1M291.6 156.8h1M298.6 155.6h1M283.8 163.2h1M299.0 144.3h1M297.6 155.0h1M282.8 129.4h1M292.1 123.1h1M286.4 165.4h1M296.7 129.9h1M287.3 133.1h1M293.4 138.3h1M291.5 151.0h1M301.5 156.6h1M283.6 158.5h1M303.6 154.3h1M291.6 139.8h1M296.8 138.2h1M290.5 144.2h1M293.8 151.2h1M287.4 135.1h1M291.1 143.0h1M288.5 165.3h1M285.9 131.6h1M286.5 130.9h1M281.9 153.8h1M296.0 156.8h1M302.5 152.6h1M282.8 131.7h1M294.4 149.6h1M286.7 148.4h1M286.6 143.7h1M283.3 150.7h1M294.6 162.6h1M287.1 145.1h1M289.8 135.5h1M284.2 132.2h1M284.3 137.9h1M287.9 155.8h1M293.7 134.5h1M290.5 144.5h1M298.1 161.2h1M282.6 134.1h1M293.3 161.0h1M292.6 154.1h1M295.7 139.4h1M294.3 165.2h1M284.8 131.6h1M294.2 157.8h1M300.4 150.2h1M283.7 164.5h1M291.1 133.9h1M285.2 160.1h1M298.2 157.6h1M295.4 129.6h1M297.4 158.0h1M285.8 151.4h1M295.5 132.1h1M291.6 155.6h1M296.6 142.7h1M285.2 130.2h1M294.5 162.2h1M293.3 128.7h1M285.9 149.8h1M295.3 152.9h1M296.1 142.4h1M281.8 151.2h1M299.6 152.5h1M287.2 161.3h1M294.7 133.2h1M300.2 140.3h1M291.7 140.2h1M290.0 145.9h1M285.5 132.1h1M299.9 155.1h1M287.6 131.0h1M296.4 155.2h1M286.7 148.2h1M293.3 141.2h1M291.1 150.8h1M295.4 141.7h1M283.1 130.3h1M290.2 141.5h1M299.1 152.0h1M301.3 146.1h1M282.7 144.0h1M284.1 142.6h1M286.2 149.4h1M288.5 162.1h1M290.5 144.4h1M285.8 144.8h1M283.8 144.5h1M297.9 147.5h1M285.1 131.8h1M298.8 148.6h1M290.9 158.0h1M297.3 130.1h1M295.5 163.3h1M288.5 131.4h1M296.4 163.6h1M292.7 156.1h1M281.7 158.6h1M302.0 151.0h1M285.1 152.4h1M286.7 156.0h1M285.6 152.2h1M279.8 149.9h1M284.0 153.6h1M287.1 156.3h1M295.9 155.3h1M302.5 145.4h1M288.7 155.8h1M287.4 127.7h1M296.2 132.6h1M292.6 138.3h1M286.2 147.8h1M289.2 164.2h1M298.0 137.2h1M287.2 133.9h1M281.5 146.9h1M288.0 151.4h1M290.6 159.7h1M302.0 150.1h1M286.9 148.7h1M285.7 147.1h1M286.3 150.9h1M291.7 163.5h1M295.0 151.4h1M294.9 145.5h1M293.0 129.5h1M281.5 133.3h1M292.0 158.2h1M293.4 137.9h1M282.2 147.3h1M290.7 147.0h1M298.0 160.2h1M297.0 143.7h1M293.3 152.5h1M296.8 146.2h1M295.0 130.1h1M292.6 133.0h1M280.3 158.0h1M280.4 151.1h1M298.4 130.4h1M281.3 154.8h1M287.1 158.9h1M296.0 126.5h1M291.5 146.1h1M304.6 133.6h1M298.7 152.4h1M296.0 164.3h1M292.3 137.3h1M296.5 136.5h1M293.1 142.5h1M301.0 162.9h1M288.6 137.7h1M300.2 155.7h1M296.0 153.7h1M281.4 132.8h1M289.5 134.3h1M279.7 140.0h1M297.1 151.4h1M289.8 158.9h1M288.6 150.9h1M278.9 135.8h1M285.1 127.0h1M284.6 155.4h1M288.5 141.2h1M290.6 148.8h1M299.2 162.4h1M281.8 151.7h1M297.8 158.5h1M286.3 144.7h1M291.0 141.7h1M284.9 147.3h1M287.2 143.7h1M287.7 130.6h1M286.8 138.8h1M290.7 135.2h1M303.3 146.3h1M280.1 141.8h1M297.2 137.1h1M298.7 152.5h1M283.0 130.9h1M278.8 159.5h1M300.3 156.6h1M292.0 152.7h1M294.3 150.4h1M293.4 164.5h1M290.2 138.1h1M292.6 148.6h1M284.0 159.7h1M283.0 140.0h1M289.8 141.7h1M283.4 161.4h1M295.2 128.6h1M297.3 140.3h1M287.8 160.8h1M292.1 162.6h1M292.9 142.2h1M295.0 161.6h1M284.6 161.9h1M294.4 151.6h1M291.5 164.3h1M289.2 154.9h1M286.9 146.6h1M297.0 148.1h1M284.1 149.8h1M298.1 132.7h1M293.9 142.3h1M294.6 131.5h1M277.3 157.9h1M291.8 133.7h1M301.8 142.1h1M295.6 155.5h1M294.9 144.2h1M284.4 144.3h1M284.4 159.8h1M296.0 137.4h1M298.0 146.5h1M296.3 154.4h1M296.5 156.7h1M294.0 156.0h1M295.2 150.1h1M300.2 141.0h1M284.6 154.6h1M287.0 153.5h1M300.5 159.4h1M289.9 157.7h1M288.8 149.5h1M284.7 151.2h1M299.0 139.3h1M296.3 156.9h1M293.3 141.4h1M298.7 133.6h1M299.4 142.7h1M296.1 137.0h1M298.0 144.9h1M294.3 142.8h1M300.0 160.4h1M284.8 128.3h1M292.2 143.3h1M294.3 134.5h1M285.9 133.3h1M287.7 150.1h1M289.4 163.2h1M283.6 141.2h1M295.1 139.8h1M299.8 155.1h1M286.7 130.0h1M291.7 151.0h1M287.2 137.4h1M282.8 158.7h1M293.5 134.6h1M282.1 149.3h1M293.1 135.6h1M297.4 156.6h1M295.5 160.4h1M289.6 144.0h1M279.0 135.2h1M281.4 157.8h1M298.6 144.0h1M281.8 134.2h1M296.1 157.1h1M287.9 140.5h1M299.7 150.0h1M281.9 151.0h1M287.8 158.8h1M295.4 150.5h1M288.8 163.9h1M281.6 143.8h1M289.6 148.0h1M294.6 149.5h1M287.9 148.2h1M285.0 160.6h1M285.0 132.6h1M288.9 163.4h1M283.0 150.0h1M287.0 151.0h1M293.2 134.6h1M284.2 149.1h1M290.6 145.9h1M298.8 159.7h1M295.1 142.0h1M286.6 136.9h1" stroke="#000" stroke-width="1" fill="none"/>
<path d="M292.5 82.9h1.25M287.5 75.2h1.25M294.6 80.6h1.25M285.9 81.7h1.25M291.9 83.1h1.25M294.5 80.1h1.25M295.4 80.0h1.25M293.4 76.0h1.25M290.0 81.3h1.25M292.0 84.5h1.25M287.0 79.9h1.25M296.6 78.9h1.25M296.2 78.1h1.25M287.9 83.4h1.25M289.9 82.7h1.25M295.7 78.3h1.25M296.4 78.7h1.25M293.6 81.8h1.25M288.0 84.9h1.25M291.6 80.4h1.25M295.2 79.2h1.25M284.1 80.3h1.25M287.2 81.1h1.25M293.8 78.8h1.25M294.3 83.1h1.25M288.0 74.5h1.25M282.5 84.7h1.25M283.4 79.6h1.25M293.4 80.4h1.25M289.2 78.6h1.25M292.2 83.3h1.25M290.5 80.9h1.25M291.5 77.2h1.25M297.8 81.2h1.25M289.9 82.3h1.25M289.6 84.9h1.25M294.7 77.6h1.25M289.4 84.8h1.25M288.3 81.7h1.25M285.0 80.2h1.25M290.5 78.9h1.25M291.2 81.8h1.25M293.9 82.6h1.25M294.4 76.0h1.25M284.8 80.1h1.25M295.1 81.0h1.25M295.2 78.7h1.25M294.0 80.4h1.25M293.0 78.2h1.25M296.2 78.9h1.25M285.4 82.2h1.25M288.4 87.9h1.25M290.3 80.1h1.25M290.2 79.5h1.25M289.0 80.2h1.25M292.3 81.1h1.25M296.3 80.2h1.25M288.6 79.7h1.25M289.1 78.3h1.25M285.5 81.5h1.25M290.3 82.3h1.25M291.3 84.7h1.25M294.5 81.5h1.25M290.0 80.5h1.25M288.6 84.4h1.25M286.2 81.4h1.25M290.7 82.1h1.25M293.2 80.8h1.25M294.9 77.9h1.25M293.3 77.9h1.25M289.3 83.8h1.25M291.3 80.6h1.25M283.5 84.1h1.25M298.5 82.4h1.25M290.4 83.4h1.25M288.1 80.1h1.25M296.0 82.8h1.25M285.7 81.3h1.25M296.2 81.9h1.25M288.7 79.5h1.25M291.1 81.5h1.25M294.9 79.4h1.25M287.5 74.6h1.25M287.1 82.3h1.25M288.2 80.1h1.25M292.3 77.0h1.25M295.2 80.2h1.25M291.2 75.0h1.25M291.4 81.0h1.25M285.6 81.3h1.25M294.0 76.2h1.25M290.3 76.2h1.25M287.5 81.6h1.25M294.2 74.6h1.25M295.8 76.6h1.25M287.6 84.2h1.25M285.9 82.4h1.25M289.3 80.4h1.25M294.4 74.4h1.25M287.7 80.8h1.25M285.1 80.3h1.25M301.7 74.7h1.25M292.6 80.4h1.25M285.7 83.9h1.25M291.0 83.9h1.25M289.2 127.4h1.25M293.0 114.9h1.25M287.7 105.6h1.25M291.0 100.3h1.25M298.3 119.1h1.25M295.3 126.5h1.25M297.5 106.2h1.25M295.5 108.7h1.25M294.8 114.4h1.25M282.3 114.8h1.25M284.3 126.1h1.25M287.1 116.8h1.25M284.1 105.7h1.25M282.3 127.6h1.25M290.5 127.9h1.25M285.4 103.0h1.25M290.0 106.9h1.25M286.6 125.9h1.25M289.5 125.4h1.25M290.2 100.1h1.25M288.2 123.1h1.25M298.2 124.3h1.25M287.7 127.0h1.25M287.8 117.7h1.25M291.7 110.9h1.25M286.7 119.6h1.25M286.6 121.4h1.25M302.6 124.6h1.25M292.5 107.3h1.25M288.1 113.7h1.25M288.0 95.4h1.25M296.4 118.3h1.25M285.1 108.0h1.25M290.2 127.4h1.25M296.3 114.4h1.25M290.0 106.7h1.25M289.6 109.0h1.25M291.3 114.4h1.25M291.5 119.6h1.25M286.0 125.8h1.25M285.2 117.0h1.25M292.8 107.0h1.25M291.6 125.0h1.25M282.3 126.1h1.25M289.6 118.4h1.25M293.9 109.6h1.25M290.7 124.8h1.25M287.9 122.9h1.25M280.1 122.7h1.25M290.1 123.7h1.25M300.8 110.8h1.25M295.6 109.1h1.25M285.0 124.5h1.25M287.7 110.7h1.25M293.0 97.2h1.25M294.4 112.0h1.25M290.8 124.2h1.25M278.7 126.8h1.25M296.5 104.0h1.25M292.2 125.1h1.25M289.1 113.1h1.25M289.2 120.8h1.25M287.0 124.9h1.25M292.5 101.2h1.25M288.9 97.9h1.25M284.2 121.7h1.25M293.0 112.3h1.25M296.2 123.3h1.25M294.4 116.6h1.25M296.1 110.0h1.25M294.4 113.5h1.25M287.9 105.8h1.25M303.1 106.7h1.25M293.5 112.9h1.25M289.5 117.6h1.25M293.6 113.8h1.25M297.3 109.0h1.25M281.5 114.5h1.25M288.2 128.0h1.25M289.6 95.9h1.25M293.9 95.0h1.25M300.1 107.6h1.25M292.3 116.3h1.25M296.6 120.9h1.25M282.4 117.6h1.25M291.7 116.0h1.25M293.9 112.6h1.25M279.9 116.1h1.25M291.4 113.2h1.25M287.8 99.6h1.25M288.0 104.0h1.25M296.5 102.0h1.25M293.6 104.1h1.25M282.9 124.2h1.25M294.3 114.7h1.25M288.4 115.9h1.25M295.8 124.2h1.25M289.8 123.2h1.25M283.5 109.6h1.25M288.8 117.0h1.25M291.0 155.5h1.25M300.3 159.2h1.25M303.8 139.0h1.25M287.2 132.0h1.25M291.5 125.7h1.25M278.6 155.7h1.25M301.8 146.7h1.25M295.1 158.5h1.25M285.8 147.6h1.25M295.2 129.5h1.25M299.5 160.0h1.25M286.3 147.7h1.25M272.6 124.9h1.25M285.8 156.2h1.25M305.6 128.5h1.25M299.4 157.2h1.25M287.9 146.2h1.25M298.1 129.3h1.25M295.2 151.4h1.25M291.2 155.2h1.25M292.2 140.9h1.25M284.8 142.5h1.25M298.8 156.3h1.25M282.5 148.0h1.25M302.9 159.7h1.25" stroke="#000" stroke-width="1.25" fill="none"/>
<path d="M452.6 76.3h1M449.4 74.3h1M444.1 82.7h1M455.9 75.4h1M450.9 70.2h1M451.3 77.8h1M444.3 79.1h1M447.2 75.9h1M445.6 74.8h1M444.3 80.4h1M447.0 79.5h1M455.3 76.7h1M443.4 76.7h1M438.4 81.9h1M446.2 80.7h1M457.4 69.0h1M443.4 76.4h1M447.8 78.3h1M439.3 81.0h1M449.3 82.4h1M450.2 80.7h1M445.8 71.4h1M449.7 71.7h1M453.7 73.6h1M454.9 71.4h1M449.2 74.3h1M441.2 77.7h1M447.9 72.6h1M454.8 74.7h1M447.7 80.4h1M450.9 75.8h1M444.8 78.6h1M449.1 77.7h1M448.1 79.1h1M453.5 74.3h1M444.1 77.9h1M448.1 73.7h1M452.3 76.9h1M446.3 78.0h1M452.0 74.7h1M446.7 84.5h1M438.8 81.7h1M447.7 67.3h1M451.7 71.6h1M448.9 76.2h1M446.8 74.2h1M450.3 80.2h1M447.6 70.9h1M439.9 87.5h1M452.0 72.0h1M446.0 78.5h1M447.2 70.0h1M442.7 83.5h1M453.3 76.1h1M449.6 81.5h1M448.9 78.4h1M455.8 78.8h1M451.1 72.2h1M452.2 76.6h1M445.5 81.4h1M447.0 80.2h1M450.6 77.0h1M447.7 76.0h1M446.4 78.7h1M443.8 77.2h1M448.5 84.4h1M456.6 74.4h1M446.3 80.1h1M447.4 75.7h1M448.7 77.1h1M444.3 81.9h1M448.1 85.0h1M450.1 69.7h1M447.8 76.5h1M439.9 85.3h1M452.3 73.1h1M448.8 73.2h1M449.3 82.0h1M440.0 80.0h1M448.4 76.6h1M444.2 81.9h1M451.0 79.6h1M449.2 77.3h1M450.3 75.9h1M450.7 76.4h1M444.6 75.2h1M448.3 81.9h1M446.6 80.0h1M442.7 82.2h1M447.3 80.2h1M448.6 77.3h1M449.5 86.1h1M449.7 75.5h1M449.0 71.4h1M441.3 82.3h1M447.2 84.6h1M449.3 83.4h1M454.7 72.1h1M452.1 74.9h1M443.0 78.7h1M451.2 75.1h1M452.1 74.3h1M451.1 78.4h1M449.4 75.4h1M449.8 81.1h1M447.6 82.8h1M450.6 76.9h1M443.1 79.4h1M448.3 80.0h1M448.8 77.1h1M436.9 81.4h1M449.5 81.3h1M451.8 74.3h1M453.7 75.9h1M442.3 74.9h1M447.2 80.8h1M447.1 78.4h1M450.3 77.7h1M442.0 84.4h1M451.6 74.1h1M448.2 73.6h1M448.2 77.7h1M451.1 71.8h1M442.1 79.7h1M449.0 73.2h1M450.1 72.8h1M452.3 75.4h1M445.2 74.6h1M452.4 74.7h1M450.4 79.0h1M446.5 80.8h1M448.9 71.2h1M451.0 74.8h1M441.0 80.4h1M449.9 75.6h1M449.4 73.4h1M446.5 81.3h1M449.6 78.3h1M455.2 73.9h1M445.2 77.5h1M455.8 73.3h1M447.6 76.1h1M448.3 75.9h1M454.3 75.9h1M452.4 75.7h1M441.2 75.1h1M450.4 68.6h1M446.9 79.4h1M449.7 78.2h1M449.1 76.4h1M445.6 79.4h1M447.8 71.5h1M451.6 79.5h1M455.8 71.7h1M439.9 86.2h1M452.3 75.3h1M446.1 75.2h1M453.2 73.2h1M444.2 79.6h1M444.5 79.6h1M445.0 80.4h1M447.0 80.6h1M451.8 72.8h1M441.3 79.0h1M449.4 79.2h1M447.5 84.2h1M450.4 80.2h1M448.3 78.1h1M448.3 74.4h1M449.2 69.7h1M440.3 85.6h1M443.7 80.1h1M445.7 77.7h1M447.1 69.5h1M445.0 76.4h1M452.1 69.9h1M455.1 77.9h1M444.5 85.5h1M446.4 76.5h1M453.0 72.8h1M445.9 75.3h1M441.4 79.7h1M446.5 82.2h1M441.7 80.1h1M450.3 77.6h1M448.1 78.3h1M446.5 76.9h1M454.0 70.3h1M443.8 79.9h1M452.8 76.1h1M443.0 82.0h1M441.5 84.5h1M453.8 76.8h1M437.6 80.5h1M450.5 71.7h1M453.5 74.4h1M449.6 76.6h1M453.8 77.1h1M438.7 79.1h1M446.0 79.3h1M454.7 73.5h1M449.2 84.2h1M440.8 80.8h1M448.9 75.9h1M458.5 72.0h1M450.1 74.2h1M451.9 78.2h1M448.5 75.7h1M440.2 76.3h1M452.8 76.7h1M444.5 86.0h1M449.3 68.1h1M447.0 75.9h1M444.8 78.2h1M448.9 75.9h1M452.7 82.5h1M448.9 79.1h1M449.4 70.3h1M446.9 82.5h1M447.1 78.0h1M443.1 78.9h1M446.0 80.0h1M445.8 72.9h1M443.3 86.9h1M446.9 67.2h1M451.8 73.5h1M445.5 76.3h1M452.1 72.5h1M443.5 79.6h1M447.8 78.3h1M453.6 67.4h1M446.9 73.9h1M454.6 76.1h1M450.0 79.2h1M444.0 82.5h1M444.3 79.1h1M451.8 73.2h1M449.7 73.4h1M456.9 71.9h1M444.6 82.6h1M448.7 77.5h1M444.3 81.6h1M449.1 80.0h1M447.5 74.9h1M442.0 85.2h1M447.5 81.0h1M451.9 83.8h1M447.1 71.5h1M449.5 72.3h1M450.1 79.0h1M450.3 78.1h1M447.5 67.8h1M444.0 71.7h1M445.5 78.5h1M447.0 78.0h1M443.7 88.8h1M445.1 78.0h1M443.9 81.4h1M450.6 70.4h1M444.5 72.9h1M445.7 75.6h1M441.0 80.3h1M447.4 76.9h1M443.4 77.5h1M449.7 70.0h1M450.0 68.6h1M445.6 73.8h1M456.0 77.2h1M451.4 77.0h1M446.8 77.2h1M448.4 69.0h1M449.0 78.4h1M450.7 75.4h1M441.1 79.1h1M453.4 76.1h1M446.3 74.4h1M447.3 75.4h1M447.9 77.7h1M442.4 80.9h1M444.4 82.7h1M443.0 79.3h1M448.8 73.9h1M453.5 69.2h1M447.9 75.9h1M438.9 82.1h1M456.2 70.4h1M454.1 70.2h1M445.3 81.4h1M440.5 84.2h1M451.1 71.5h1M445.5 83.6h1M450.2 78.2h1M447.5 77.8h1M447.6 79.8h1M447.4 78.4h1M444.5 84.5h1M454.5 75.4h1M436.8 98.4h1M447.3 74.4h1M447.3 79.1h1M449.6 73.2h1M449.2 76.6h1M450.8 72.8h1M449.1 73.0h1M444.3 81.4h1M447.4 77.0h1M445.2 75.6h1M439.0 81.9h1M445.6 82.0h1M443.9 82.8h1M443.6 86.3h1M452.9 71.4h1M445.0 85.4h1M441.7 82.1h1M450.8 77.1h1M442.9 76.5h1M453.5 79.7h1M438.7 85.0h1M450.7 74.4h1M448.3 79.1h1M448.1 72.7h1M447.7 81.7h1M448.5 72.3h1M446.9 77.8h1M449.6 76.3h1M447.2 71.8h1M448.1 77.9h1M447.1 75.2h1M443.7 85.5h1M452.0 68.1h1M447.4 81.5h1M443.0 75.5h1M446.8 78.9h1M446.1 69.2h1M448.1 78.3h1M451.7 73.6h1M443.9 76.9h1M450.1 76.7h1M450.7 79.5h1M449.5 78.2h1M450.1 71.8h1M443.3 87.4h1M446.6 69.3h1M444.0 78.5h1M452.3 70.3h1M439.2 78.6h1M447.0 80.4h1M452.0 75.2h1M447.4 79.5h1M448.0 69.0h1M451.5 76.2h1M448.8 80.5h1M450.1 78.5h1M445.6 82.6h1M441.1 78.4h1M454.0 72.7h1M446.0 78.4h1M454.4 77.3h1M444.4 76.7h1M451.5 69.5h1M447.1 73.7h1M444.1 73.0h1M449.0 72.6h1M448.7 85.8h1M444.5 78.5h1M459.6 75.1h1M441.2 83.1h1M443.5 74.7h1M450.0 70.8h1M444.7 78.2h1M441.6 83.2h1M445.9 80.6h1M446.3 73.4h1M443.1 82.3h1M440.1 79.6h1M448.6 78.4h1M443.1 77.6h1M453.6 74.2h1M452.1 69.3h1M450.2 72.4h1M447.5 72.7h1M443.2 83.0h1M445.4 72.0h1M445.4 80.0h1M449.3 75.9h1M450.1 77.8h1M451.9 75.2h1M452.7 78.7h1M452.2 74.3h1M443.2 79.4h1M451.9 74.1h1M450.5 76.0h1M447.3 77.8h1M446.2 78.7h1M450.0 79.0h1M446.0 82.7h1M446.2 85.2h1M443.0 79.5h1M446.5 75.7h1M446.8 82.3h1M440.4 83.8h1M446.2 82.4h1M452.6 83.8h1M451.0 77.2h1M444.9 67.8h1M455.6 75.4h1M436.2 83.2h1M445.2 83.5h1M451.3 76.9h1M442.3 77.7h1M449.6 77.9h1M445.1 84.5h1M450.6 78.4h1M451.2 76.2h1M447.2 83.7h1M447.7 76.2h1M450.6 74.4h1M446.7 75.8h1M453.1 78.2h1M454.9 77.8h1M451.3 76.9h1M445.0 75.3h1M453.7 73.2h1M436.3 79.9h1M440.6 81.9h1M443.3 85.7h1M449.0 81.7h1M446.0 72.9h1M447.4 81.5h1M451.7 74.2h1M447.5 80.2h1M452.3 76.4h1M444.2 80.2h1M457.5 74.0h1M450.4 73.3h1M447.8 81.4h1M448.4 81.8h1M447.4 84.2h1M454.7 72.7h1M445.2 73.3h1M442.4 77.2h1M448.0 74.8h1M446.6 83.6h1M451.3 73.6h1M443.6 78.4h1M452.8 72.5h1M447.2 76.1h1M447.7 73.9h1M451.7 70.8h1M445.0 79.8h1M445.2 75.7h1M451.3 78.6h1M451.9 73.6h1M446.5 78.9h1M446.7 76.2h1M445.1 76.9h1M446.6 85.0h1M450.4 81.8h1M460.0 70.8h1M443.5 83.7h1M444.0 81.3h1M454.8 68.9h1M445.3 80.5h1M445.2 77.6h1M448.5 82.8h1M450.8 74.9h1M446.3 79.5h1M444.9 84.0h1M452.7 86.3h1M455.6 72.0h1M441.1 82.3h1M450.6 76.7h1M449.0 72.3h1M450.2 78.7h1M446.7 76.1h1M445.2 83.6h1M440.9 86.0h1M449.3 80.6h1M444.5 73.3h1M446.8 76.4h1M445.4 77.9h1M450.5 74.2h1M456.0 79.8h1M438.6 85.9h1M453.0 74.9h1M439.1 83.0h1M450.7 72.7h1M445.3 79.0h1M447.1 76.2h1M444.7 80.0h1M448.2 76.9h1M452.2 75.1h1M451.2 78.2h1M444.9 75.8h1M449.8 71.1h1M451.7 76.9h1M452.3 76.0h1M441.1 83.0h1M447.6 76.0h1M449.1 78.7h1M449.0 76.6h1M444.4 79.8h1M445.4 81.3h1M448.9 74.4h1M453.0 73.4h1M445.2 76.0h1M453.1 69.6h1M457.8 72.5h1M454.6 74.6h1M448.1 79.8h1M443.1 86.0h1M455.4 66.0h1M446.7 71.2h1M452.5 69.5h1M447.1 74.5h1M444.9 82.7h1M453.2 82.0h1M449.6 76.7h1M447.7 74.3h1M458.1 72.8h1M446.7 84.0h1M447.9 71.1h1M451.7 76.2h1M445.9 74.6h1M445.2 76.5h1M446.2 75.6h1M451.3 69.3h1M447.2 81.1h1M440.4 75.6h1M443.4 88.2h1M439.2 90.3h1M447.8 81.2h1M444.9 71.2h1M448.4 82.8h1M448.2 74.3h1M451.5 68.8h1M443.2 82.3h1M444.8 83.5h1M448.2 78.2h1M451.3 83.1h1M448.0 78.6h1M448.8 69.1h1M454.1 80.2h1M453.9 75.1h1M433.8 84.1h1M448.9 73.1h1M443.2 83.4h1M446.5 74.1h1M444.1 83.9h1M445.0 84.2h1M448.9 77.2h1M452.6 74.5h1M450.1 77.6h1M442.9 82.5h1M450.5 80.7h1M447.1 67.4h1M451.0 76.4h1M451.2 70.1h1M454.0 74.4h1M445.8 76.4h1M450.0 77.4h1M445.1 79.4h1M448.7 79.2h1M457.6 73.8h1M444.5 80.1h1M455.2 77.3h1M448.9 74.0h1M448.1 84.4h1M443.7 82.1h1M452.8 74.8h1M446.4 73.4h1M448.7 74.0h1M443.1 82.6h1M449.8 75.2h1M447.0 80.0h1M443.9 84.0h1M452.9 74.7h1M447.0 83.9h1M445.3 80.7h1M448.0 75.4h1M442.1 75.7h1M440.2 82.7h1M445.2 81.9h1M445.8 77.0h1M442.7 79.9h1M448.9 85.4h1M442.2 82.6h1M451.2 78.2h1M455.9 72.0h1M454.6 77.4h1M450.0 77.2h1M454.3 74.4h1M455.1 69.2h1M444.5 77.9h1M440.8 80.2h1M442.6 83.1h1M451.6 80.2h1M439.8 84.3h1M442.6 80.4h1M445.5 75.9h1M449.9 76.6h1M448.8 81.8h1M440.8 72.2h1M446.0 80.8h1M439.4 81.4h1M451.0 76.9h1M444.2 79.0h1M446.5 74.7h1M448.1 78.9h1M447.8 74.9h1M446.7 74.4h1M447.3 79.0h1M445.9 83.4h1M441.5 78.6h1M452.0 79.8h1M439.3 81.4h1M451.1 71.7h1M441.9 88.1h1M455.2 75.6h1M445.2 75.7h1M454.6 74.0h1M444.7 77.0h1M444.7 74.3h1M449.0 75.6h1M449.0 77.4h1M449.0 80.0h1M446.3 79.4h1M454.2 77.8h1M454.7 78.0h1M441.4 76.7h1M448.4 89.2h1M455.0 79.7h1M443.8 82.7h1M453.6 73.5h1M449.3 75.0h1M443.3 78.5h1M441.3 78.3h1M448.0 76.8h1M442.7 73.5h1M443.7 77.5h1M440.2 79.8h1M445.7 75.0h1M450.8 82.9h1M446.3 84.3h1M444.9 76.5h1M447.7 74.8h1M450.3 74.8h1M447.7 77.4h1M446.2 76.5h1M449.5 78.4h1M444.5 73.0h1M450.6 71.6h1M440.0 79.6h1M441.8 77.4h1M452.7 75.7h1M449.3 68.6h1M450.2 75.3h1M449.6 78.4h1M449.4 70.0h1M444.7 85.3h1M453.2 74.7h1M450.0 75.2h1M447.4 79.3h1M447.5 78.5h1M454.7 74.8h1M449.9 81.5h1M444.0 82.4h1M445.1 71.8h1M444.8 74.7h1M451.2 72.9h1M450.5 76.8h1M446.6 75.6h1M446.3 80.2h1M443.2 82.3h1M450.2 76.2h1M448.6 75.8h1M444.4 84.8h1M443.2 75.9h1M450.3 73.2h1M453.0 77.4h1M449.1 82.3h1M449.3 78.4h1M444.5 76.5h1M448.7 76.6h1M444.9 79.1h1M440.3 80.9h1M452.1 74.1h1M445.9 77.4h1M447.9 71.4h1M450.6 73.6h1M453.3 70.2h1M454.4 79.8h1M449.1 75.0h1M440.6 75.1h1M445.6 75.5h1M447.7 72.3h1M447.1 78.5h1M448.0 71.7h1M443.4 71.0h1M446.0 76.3h1M443.0 81.3h1M444.3 78.5h1M448.6 65.8h1M448.2 85.8h1M449.1 73.1h1M453.9 70.8h1M450.6 74.9h1M450.9 74.6h1M443.8 88.9h1M449.1 73.7h1M452.3 74.5h1M448.2 75.5h1M447.1 68.6h1M444.8 78.2h1M453.3 74.2h1M450.7 73.8h1M445.2 72.7h1M443.6 75.9h1M449.4 75.1h1M456.4 78.2h1M444.9 80.4h1M449.0 76.4h1M448.9 71.8h1M449.7 77.6h1M449.9 80.1h1M452.6 72.5h1M450.9 73.2h1M456.9 78.0h1M450.7 72.5h1M458.7 73.4h1M447.5 77.5h1M453.5 72.7h1M440.1 78.2h1M447.7 79.2h1M461.4 71.5h1M450.4 73.3h1M441.7 76.6h1M443.3 86.1h1M447.4 82.1h1M443.5 77.2h1M451.4 74.4h1M449.4 74.6h1M439.1 79.8h1M448.9 67.5h1M442.3 84.8h1M450.1 73.3h1M440.9 88.8h1M456.3 67.8h1M451.2 75.0h1M454.5 78.4h1M443.9 77.3h1M450.7 76.8h1M434.1 80.1h1M451.8 71.2h1M442.0 87.9h1M449.9 84.0h1M448.7 80.3h1M451.1 80.0h1M448.2 75.6h1M439.6 85.2h1M446.9 78.0h1M454.0 68.3h1M451.8 72.5h1M451.0 77.7h1M443.6 75.7h1M441.6 83.4h1M448.2 70.8h1M451.1 76.0h1M443.5 85.9h1M450.7 72.3h1M441.7 79.9h1M454.3 77.0h1M445.8 75.6h1M455.6 81.3h1M442.7 83.2h1M448.2 73.8h1M445.4 80.9h1M453.9 78.4h1M445.8 77.2h1M442.2 81.3h1M449.1 82.9h1M437.8 80.6h1M444.3 74.3h1M448.7 76.9h1M444.2 76.7h1M448.0 80.1h1M449.6 79.3h1M448.0 78.7h1M452.2 71.7h1M446.0 80.7h1M453.3 77.2h1M448.9 80.4h1M457.7 65.9h1M448.1 81.5h1M454.6 75.1h1M454.8 78.0h1M448.4 78.7h1M450.9 75.0h1M450.2 78.9h1M451.5 78.2h1M447.9 73.9h1M445.2 82.7h1M449.5 74.1h1M451.0 72.6h1M453.2 80.8h1M456.2 73.7h1M444.7 81.4h1M445.3 79.1h1M451.6 79.5h1M442.6 85.1h1M446.3 78.9h1M452.2 75.2h1M444.2 81.0h1M444.6 70.7h1M449.7 85.3h1M446.0 76.7h1M452.6 68.9h1M446.2 81.7h1M436.7 81.9h1M441.5 79.8h1M445.4 83.9h1M445.5 76.8h1M455.2 68.4h1M452.5 74.5h1M454.2 76.6h1M451.6 77.5h1M448.0 80.7h1M448.0 79.7h1M455.4 69.4h1M450.0 81.5h1M452.2 78.1h1M454.7 77.7h1M457.6 77.3h1M441.6 79.7h1M443.8 78.5h1M442.8 76.3h1M446.0 74.4h1M447.8 75.3h1M443.8 72.2h1M437.2 82.8h1M450.3 79.0h1M451.3 70.1h1M441.3 82.8h1M445.0 85.2h1M453.8 77.6h1M446.2 78.4h1M441.6 76.5h1M454.2 67.4h1M451.2 76.4h1M448.5 76.3h1M445.6 77.7h1M451.8 73.3h1M441.1 81.3h1M442.3 73.8h1M451.4 75.9h1M441.7 79.1h1M444.0 87.7h1M451.5 69.6h1M452.0 75.6h1M452.4 75.1h1M444.9 75.8h1M448.0 72.5h1M447.6 83.7h1M440.8 80.5h1M448.8 78.7h1M453.4 74.8h1M451.3 72.6h1M447.6 72.7h1M452.3 76.8h1M451.8 74.7h1M458.1 72.4h1M450.1 84.8h1M455.3 80.6h1M446.5 74.3h1M440.3 84.7h1M445.9 79.8h1M441.6 82.0h1M446.1 72.8h1M453.1 75.8h1M451.3 79.6h1M443.3 77.2h1M456.1 69.7h1M447.9 78.6h1M451.5 72.1h1M445.2 75.3h1M441.6 79.4h1M453.0 71.4h1M449.5 74.2h1M445.8 69.6h1M451.1 74.1h1M450.3 74.4h1M447.6 77.9h1M444.3 74.9h1M450.8 80.9h1M452.9 72.5h1M445.8 78.3h1M455.7 68.1h1M448.3 76.7h1M448.1 74.0h1M452.1 71.9h1M444.8 76.5h1M450.5 71.4h1M442.5 79.3h1M455.9 77.0h1M457.5 78.1h1M445.5 78.8h1M442.4 80.1h1M445.1 74.8h1M455.4 77.8h1M438.5 85.6h1M449.8 69.3h1M442.7 81.5h1M449.0 74.9h1M453.2 74.9h1M449.6 82.9h1M456.2 72.8h1M451.9 76.7h1M443.6 81.0h1M445.7 78.5h1M445.2 78.4h1M448.4 74.3h1M450.9 77.0h1M442.4 82.2h1M449.8 73.9h1M452.4 74.5h1M443.9 77.5h1M447.4 80.9h1M445.4 82.4h1M440.6 76.0h1M447.4 81.2h1M448.0 79.9h1M443.7 73.5h1M450.6 80.0h1M442.7 76.8h1M455.0 75.7h1M444.9 80.4h1M451.3 76.2h1M444.7 84.9h1M447.3 82.2h1M445.8 73.5h1M445.9 85.1h1M448.7 80.7h1M445.0 82.1h1M450.8 73.0h1M449.4 74.6h1M450.7 76.9h1M449.8 77.7h1M446.3 76.8h1M442.7 82.5h1M453.1 74.7h1M451.8 74.7h1M450.6 81.0h1M442.7 70.4h1M447.2 70.9h1M443.0 79.4h1M448.4 76.7h1M451.4 72.0h1M444.4 70.8h1M443.5 79.0h1M444.5 84.2h1M445.4 75.4h1M438.2 85.0h1M445.6 78.0h1M442.0 79.7h1M449.9 76.3h1M448.0 77.1h1M444.7 79.1h1M446.6 76.3h1M447.1 77.1h1M448.8 74.5h1M448.4 75.1h1M444.6 79.2h1M446.8 81.2h1M446.7 74.9h1M441.4 82.1h1M453.9 70.9h1M445.2 81.6h1M452.3 78.5h1M452.6 73.7h1M445.3 81.3h1M454.5 69.6h1M446.7 73.9h1M440.2 83.5h1M448.3 76.7h1M449.5 78.8h1M446.1 84.0h1M461.0 69.9h1M448.3 82.0h1M443.7 80.3h1M449.9 74.6h1M450.9 74.8h1M445.6 78.8h1M446.2 77.9h1M442.4 72.8h1M451.1 78.3h1M450.9 76.8h1M445.6 69.6h1M454.1 81.9h1M440.2 85.4h1M442.7 74.4h1M446.4 72.1h1M450.6 78.2h1M454.3 76.2h1M447.6 75.2h1M447.9 71.0h1M444.2 82.6h1M447.6 78.2h1M448.9 71.6h1M445.9 75.6h1M449.5 76.9h1M451.5 74.9h1M449.7 74.6h1M446.6 79.3h1M443.2 82.2h1M460.8 73.4h1M450.6 83.3h1M454.4 71.5h1M442.0 86.6h1M440.9 79.5h1M448.4 73.1h1M449.8 73.6h1M444.4 80.6h1M443.4 77.5h1M450.2 80.4h1M448.5 81.6h1M447.3 79.3h1M444.2 82.5h1M439.6 80.3h1M442.7 86.7h1M451.7 67.6h1M444.5 72.0h1M453.4 74.0h1M442.3 77.8h1M454.5 76.4h1M449.8 80.8h1M445.5 71.9h1M447.8 77.9h1M442.2 76.3h1M447.9 74.5h1M447.2 74.8h1M446.8 80.2h1M451.7 77.9h1M439.2 82.7h1M439.4 75.5h1M439.2 76.5h1M451.8 80.5h1M447.2 75.5h1M447.8 73.8h1M446.8 73.3h1M446.3 81.4h1M444.7 79.5h1M446.4 76.1h1M448.5 76.9h1M449.3 80.7h1M451.6 77.3h1M450.8 77.5h1M457.6 74.7h1M449.8 70.6h1M443.2 84.4h1M449.3 73.7h1M444.2 78.1h1M436.0 78.9h1M448.8 77.9h1M448.3 73.9h1M441.0 79.6h1M454.7 76.4h1M452.8 67.9h1M451.2 70.2h1M451.2 69.0h1M454.8 76.5h1M438.9 75.8h1M448.8 80.1h1M451.4 75.4h1M448.8 70.9h1M450.7 77.3h1M444.2 84.4h1M450.3 68.1h1M450.2 74.6h1M447.6 84.7h1M449.4 79.4h1M444.2 82.2h1M452.1 74.4h1M449.7 80.0h1M445.8 73.8h1M455.0 71.5h1M455.4 77.3h1M448.3 81.3h1M455.0 69.3h1M453.0 74.5h1M447.6 76.0h1M450.1 79.3h1M446.5 84.8h1M443.9 81.6h1M443.7 83.9h1M443.4 75.7h1M445.6 81.4h1M447.4 87.0h1M444.7 83.2h1M445.4 80.2h1M447.6 77.3h1M453.9 73.2h1M449.2 83.1h1M445.0 75.5h1M448.9 69.3h1M454.9 79.7h1M449.1 83.1h1M442.5 76.1h1M450.2 72.8h1M445.4 81.0h1M446.7 82.1h1M449.7 74.2h1M448.1 79.0h1M441.8 81.7h1M448.7 69.9h1M446.8 72.3h1M447.1 79.2h1M443.3 81.6h1M444.9 82.5h1M444.9 76.1h1M443.6 79.9h1M455.4 74.4h1M450.9 71.9h1M449.6 74.6h1M450.3 76.6h1M444.1 77.5h1M447.2 77.7h1M450.8 69.2h1M439.3 69.0h1M453.2 76.9h1M440.8 71.9h1M445.8 82.3h1M445.1 79.4h1M451.2 78.2h1M446.0 77.8h1M453.5 71.8h1M452.1 78.4h1M450.3 72.2h1M448.1 80.6h1M451.3 74.5h1M440.9 76.1h1M446.3 75.7h1M440.1 83.2h1M444.5 84.7h1M446.3 85.0h1M445.5 77.5h1M446.2 85.8h1M451.8 79.3h1M451.8 74.3h1M447.6 76.0h1M450.4 75.3h1M443.5 78.2h1M455.1 74.1h1M445.8 80.8h1M452.8 71.7h1M451.5 75.0h1M448.7 71.7h1M456.1 75.6h1M451.9 63.7h1M442.6 77.2h1M447.9 74.5h1M447.0 77.0h1M452.8 72.1h1M446.6 82.1h1M453.8 72.5h1M451.4 85.6h1M444.5 80.9h1M445.1 78.0h1M455.7 75.2h1M449.1 76.3h1M442.1 75.7h1M456.7 75.6h1M455.0 74.6h1M455.3 79.6h1M447.5 77.9h1M456.9 73.1h1M448.4 80.9h1M447.6 77.5h1M448.0 80.7h1M442.6 75.4h1M455.4 73.6h1M442.4 73.8h1M449.1 73.8h1M449.3 78.8h1M451.2 74.8h1M447.4 81.5h1M452.6 67.0h1M448.9 72.0h1M453.0 84.9h1M453.0 73.5h1M454.2 73.5h1M448.7 69.0h1M449.7 79.5h1M451.0 72.7h1M446.1 77.9h1M443.7 79.5h1M443.9 74.3h1M454.2 78.2h1M450.5 75.8h1M445.7 76.7h1M444.4 79.2h1M447.3 80.1h1M452.2 71.8h1M442.0 72.7h1M434.4 84.1h1M450.8 77.5h1M442.7 87.4h1M445.7 82.9h1M445.2 78.3h1M441.6 83.6h1M447.3 84.8h1M440.2 80.6h1M454.3 72.7h1M452.2 64.6h1M442.1 73.0h1M445.9 76.6h1M454.3 88.6h1M453.4 74.7h1M447.8 74.1h1M459.5 65.2h1M441.7 76.5h1M458.4 72.0h1M444.0 76.9h1M450.1 75.3h1M446.7 70.7h1M454.5 77.0h1M440.3 78.7h1M445.2 79.8h1M444.9 79.5h1M452.6 77.3h1M446.0 72.3h1M447.7 86.6h1M447.4 76.8h1M446.5 77.8h1M453.3 78.3h1M449.8 73.1h1M448.4 79.6h1M448.7 79.4h1M451.6 77.5h1M447.8 77.4h1M447.5 82.1h1M446.3 85.0h1M450.9 78.5h1M454.3 79.9h1M450.7 73.3h1M440.1 78.1h1M460.8 70.1h1M454.1 77.6h1M455.7 69.4h1M445.5 76.4h1M456.7 74.3h1M447.6 79.9h1M450.3 82.1h1M450.3 74.4h1M449.7 77.6h1M444.1 81.6h1M448.2 78.6h1M449.1 76.4h1M448.7 78.1h1M447.4 74.6h1M442.9 86.7h1M448.6 74.8h1M453.9 77.4h1M454.4 68.9h1M444.3 89.4h1M447.2 75.2h1M450.3 78.7h1M444.1 78.3h1M446.8 77.8h1M447.7 78.3h1M447.8 80.0h1M447.7 72.9h1M445.4 76.4h1M442.7 80.4h1M450.4 74.3h1M453.3 69.4h1M443.1 79.2h1M434.9 80.2h1M442.2 77.2h1M443.7 71.9h1M447.5 72.2h1M449.7 79.8h1M448.9 80.2h1M443.9 83.1h1M446.7 78.1h1M447.6 82.1h1M450.2 73.4h1M447.9 77.7h1M449.7 77.6h1M441.5 75.6h1M441.5 85.3h1M445.5 78.9h1M439.3 87.7h1M445.8 74.3h1M454.7 73.0h1M441.5 75.1h1M444.8 79.1h1M442.8 80.4h1M443.5 78.4h1M452.1 78.7h1M448.7 75.9h1M458.6 73.4h1M447.0 79.7h1M446.3 79.1h1M451.6 83.5h1M444.8 75.8h1M444.1 78.7h1M445.7 79.7h1M446.3 83.0h1M450.1 76.3h1M443.7 76.6h1M444.1 81.2h1M450.2 75.0h1M453.5 73.9h1M449.7 79.2h1M448.3 85.0h1M451.4 81.5h1M451.2 69.7h1M441.9 79.4h1M441.1 84.5h1M451.6 80.4h1M448.5 75.7h1M450.3 76.6h1M440.5 83.1h1M445.2 82.9h1M449.8 78.0h1M449.2 74.7h1M452.9 69.8h1M443.0 85.1h1M436.4 79.0h1M458.0 70.6h1M445.5 78.7h1M452.3 70.9h1M445.1 82.9h1M452.0 66.2h1M448.2 75.8h1M455.6 73.9h1M443.6 77.2h1M447.0 77.7h1M444.5 78.4h1M447.3 89.5h1M452.8 74.9h1M444.2 70.5h1M444.7 79.6h1M449.6 76.1h1M452.2 76.0h1M437.7 85.1h1M443.5 79.6h1M451.3 76.0h1M451.5 79.3h1M448.0 73.9h1M457.2 74.0h1M449.5 78.8h1M449.4 77.1h1M447.8 76.9h1M455.4 72.2h1M444.4 78.2h1M450.8 77.0h1M442.5 81.8h1M444.0 83.9h1M459.3 73.8h1M450.7 75.8h1M433.3 86.9h1M434.0 84.8h1M445.9 76.7h1M449.2 83.4h1M447.4 76.3h1M449.9 80.2h1M443.4 85.5h1M449.1 77.6h1M447.5 75.4h1M451.7 77.5h1M449.3 81.6h1M453.8 76.8h1M453.2 75.5h1M453.7 75.2h1M449.4 78.1h1M438.8 78.2h1M449.1 78.0h1M450.1 74.3h1M441.8 70.7h1M458.3 76.5h1M444.7 79.9h1M442.4 81.6h1M448.8 76.0h1M447.7 75.9h1M457.9 71.2h1M448.2 73.1h1M450.5 76.8h1M442.5 79.5h1M453.1 73.8h1M445.6 76.1h1M439.6 78.0h1M452.3 82.8h1M444.3 78.7h1M454.4 71.4h1M445.0 81.0h1M448.1 75.1h1M451.8 69.1h1M444.0 75.7h1M449.9 72.2h1M448.0 73.9h1M456.8 64.9h1M440.9 79.9h1M451.3 75.3h1M449.7 71.5h1M447.4 81.6h1M453.2 75.3h1M453.3 74.5h1M447.7 89.2h1M455.2 67.0h1M444.0 83.9h1M449.2 73.4h1M447.1 84.5h1M445.3 82.0h1M449.8 77.8h1M450.8 76.8h1M445.9 82.4h1M448.6 75.6h1M445.1 78.1h1M446.9 80.4h1M449.5 70.3h1M453.0 77.4h1M445.9 85.2h1M454.8 78.7h1M445.4 75.6h1M444.4 80.1h1M451.0 77.9h1M438.4 84.7h1M456.0 74.4h1M447.0 78.8h1M448.4 74.7h1M450.4 79.7h1M444.9 77.9h1M450.2 81.1h1M451.5 73.7h1M441.9 77.5h1M448.4 75.7h1M446.6 80.1h1M442.3 79.1h1M441.8 83.2h1M447.4 67.8h1M446.5 81.6h1M440.7 80.9h1M439.6 83.0h1M449.1 76.8h1M438.7 86.4h1M448.5 80.7h1M456.2 75.0h1M450.5 84.4h1M453.4 76.2h1M446.8 79.5h1M439.1 85.8h1M449.7 78.6h1M450.6 78.6h1M444.4 83.5h1M443.4 81.5h1M442.8 83.1h1M449.9 78.4h1M445.6 82.5h1M452.3 82.3h1M448.5 76.0h1M443.2 88.7h1M448.9 79.5h1M451.7 75.5h1M445.4 78.7h1M453.7 71.5h1M441.4 73.2h1M444.4 81.5h1M452.3 73.2h1M448.0 77.9h1M443.5 81.9h1M448.3 80.9h1M443.8 77.7h1M452.0 81.2h1M445.5 77.5h1M450.4 78.0h1M447.0 89.6h1M445.6 77.9h1M447.9 79.7h1M446.3 76.8h1M446.1 70.2h1M443.3 78.3h1M445.5 77.9h1M450.1 81.3h1M447.7 76.1h1M449.3 79.0h1M446.3 76.9h1M446.4 74.9h1M448.6 73.7h1M451.0 69.0h1M450.2 79.5h1M448.0 80.4h1M445.8 82.4h1M441.1 85.1h1M448.8 77.0h1M445.1 86.3h1M447.0 76.2h1M455.3 78.0h1M440.2 76.3h1M453.8 64.1h1M449.3 79.7h1M448.8 82.5h1M442.2 79.7h1M451.4 75.0h1M450.8 81.3h1M446.0 81.8h1M439.5 82.6h1M442.5 78.5h1M449.2 72.9h1M445.3 84.1h1M447.3 80.8h1M454.3 74.9h1M451.7 75.8h1M450.7 78.1h1M443.9 77.2h1M445.5 82.3h1M446.8 74.9h1M449.3 75.0h1M453.7 71.9h1M451.7 78.1h1M444.3 80.2h1M451.0 75.2h1M441.8 77.8h1M444.9 84.0h1M445.3 81.9h1M449.6 74.9h1M446.9 81.1h1M444.1 81.5h1M443.4 86.3h1M450.4 70.3h1M450.2 72.7h1M448.7 76.5h1M451.8 70.0h1M444.6 74.3h1M446.2 80.0h1M450.7 84.5h1M446.1 78.3h1M443.9 74.6h1M449.6 76.4h1M447.6 73.0h1M453.7 70.9h1M447.0 81.4h1M455.1 72.0h1M445.2 74.3h1M442.7 83.8h1M453.6 72.6h1M449.3 78.2h1M439.1 78.8h1M448.7 78.0h1M445.8 79.7h1M446.6 74.3h1M445.1 82.1h1M444.8 76.7h1M446.7 73.8h1M449.1 82.2h1M450.3 79.8h1M449.3 72.5h1M443.6 81.5h1M446.3 77.1h1M456.3 71.2h1M452.7 71.8h1M449.8 76.0h1M448.0 72.3h1M442.1 84.7h1M446.8 80.4h1M446.5 77.5h1M447.3 68.7h1M449.4 75.8h1M445.4 84.4h1M449.2 73.1h1M451.1 72.6h1M440.9 76.8h1M444.9 87.5h1M445.8 75.7h1M453.7 75.0h1M447.5 76.4h1M446.9 81.5h1M451.9 77.2h1M442.2 76.2h1M447.6 75.7h1M445.5 74.4h1M448.3 81.3h1M445.0 77.5h1M451.2 75.4h1M443.1 84.5h1M450.3 80.7h1M446.2 74.0h1M445.1 79.1h1M445.5 79.7h1M452.1 72.3h1M450.4 70.0h1M449.2 73.1h1M449.7 79.9h1M448.6 73.8h1M446.0 81.1h1M449.2 77.6h1M441.1 76.7h1M450.6 73.7h1M454.2 80.8h1M445.8 80.5h1M455.1 78.8h1M451.8 71.2h1M448.4 72.8h1M443.9 73.3h1M440.8 79.8h1M452.1 80.6h1M442.1 73.5h1M446.9 75.3h1M443.4 78.5h1M442.5 77.5h1M442.1 78.8h1M449.8 85.6h1M445.5 76.1h1M450.4 83.3h1M442.3 83.9h1M450.8 75.0h1M452.2 80.6h1M446.0 72.6h1M441.7 80.8h1M444.1 82.5h1M444.3 82.8h1M450.0 73.9h1M447.7 83.5h1M444.3 79.8h1M442.0 85.4h1M446.6 81.1h1M450.7 82.6h1M446.2 79.3h1M447.4 84.9h1M446.5 86.2h1M447.8 80.4h1M451.7 78.0h1M446.0 74.4h1M455.0 73.9h1M443.5 80.1h1M444.3 71.9h1M449.4 75.9h1M445.1 79.9h1M449.9 74.4h1M457.2 71.4h1M450.0 79.8h1M446.0 79.1h1M444.2 81.8h1M450.6 82.9h1M441.9 79.2h1M448.2 72.7h1M455.5 74.6h1M448.3 79.7h1M442.9 85.6h1M454.5 73.9h1M444.8 76.4h1M444.8 78.2h1M452.2 70.0h1M446.9 81.3h1M449.0 77.3h1M446.6 78.0h1M445.7 77.2h1M447.5 77.6h1M449.8 76.1h1M452.2 85.8h1M447.1 74.6h1M441.6 81.9h1M449.7 74.2h1M432.8 91.9h1M444.1 77.3h1M448.2 77.4h1M455.6 76.4h1M452.2 79.7h1M444.6 79.8h1M444.2 77.9h1M441.6 77.1h1M447.9 76.3h1M440.5 78.7h1M448.5 75.0h1M449.2 73.5h1M440.7 81.0h1M448.3 79.9h1M442.3 83.9h1M453.2 72.7h1M449.7 78.4h1M447.3 86.5h1M447.3 77.2h1M449.1 85.0h1M450.1 83.2h1M446.6 85.3h1M445.7 82.8h1M446.4 84.7h1M452.7 82.7h1M444.0 71.0h1M446.9 79.4h1M442.8 85.7h1M446.4 81.3h1M445.6 86.9h1M451.7 72.8h1M447.8 76.0h1M440.2 83.3h1M441.2 80.5h1M449.5 81.5h1M451.0 76.8h1M451.5 69.6h1M446.3 79.4h1M449.6 80.5h1M445.8 80.7h1M435.2 87.6h1M447.2 79.4h1M450.8 72.6h1M455.4 69.3h1M441.8 76.6h1M442.9 85.8h1M448.0 83.4h1M450.0 78.5h1M444.1 74.6h1M441.1 77.0h1M441.5 79.1h1M450.4 71.5h1M451.4 76.2h1M445.1 75.7h1M450.5 77.3h1M444.2 73.1h1M448.4 79.4h1M444.8 82.6h1M445.8 76.5h1M448.2 74.0h1M453.4 76.0h1M444.8 84.6h1M447.3 76.6h1M447.3 78.9h1M447.7 73.7h1M450.1 84.3h1M446.1 82.7h1M443.8 79.7h1M449.7 77.3h1M437.8 82.8h1M447.1 78.8h1M452.4 72.9h1M448.6 72.9h1M445.5 82.8h1M453.4 69.2h1M448.9 74.5h1M450.8 74.1h1M445.0 77.4h1M446.3 82.0h1M440.6 81.6h1M445.3 72.9h1M453.3 73.1h1M444.3 79.1h1M445.6 79.3h1M453.8 78.8h1M444.3 81.2h1M453.8 83.2h1M453.5 71.4h1M461.5 68.6h1M447.4 79.6h1M449.4 68.8h1M442.0 79.5h1M442.6 81.2h1M444.8 68.9h1M451.3 70.8h1M451.8 73.9h1M449.1 69.0h1M446.3 73.9h1M444.8 81.0h1M436.3 83.7h1M450.9 73.5h1M437.1 85.9h1M442.3 79.9h1M448.3 80.9h1M442.0 80.9h1M456.1 71.2h1M451.1 74.9h1M451.8 77.9h1M443.4 75.9h1M436.5 84.6h1M443.7 73.9h1M450.1 74.4h1M451.1 74.7h1M445.3 76.8h1M451.3 70.6h1M457.3 71.2h1M451.1 75.6h1M446.3 74.2h1M453.7 75.3h1M445.3 79.7h1M450.7 71.2h1M442.0 70.5h1M453.3 75.9h1M452.0 70.6h1M440.5 72.8h1M455.1 79.2h1M440.1 81.4h1M446.0 83.9h1M452.1 73.5h1M447.5 84.8h1M438.9 84.3h1M445.1 86.3h1M438.1 86.9h1M449.7 84.5h1M441.0 83.5h1M445.1 75.6h1M450.7 76.8h1M447.8 74.0h1M440.9 74.3h1M448.5 71.1h1M446.6 70.3h1M445.8 82.7h1M443.7 74.4h1M445.0 75.2h1M448.6 72.4h1M441.4 84.9h1M445.0 83.4h1M446.6 80.1h1M449.5 81.6h1M439.6 79.8h1M445.5 75.7h1M447.8 80.8h1M446.1 86.9h1M451.1 81.1h1M455.3 65.6h1M452.7 76.1h1M445.6 80.0h1M445.2 82.2h1M446.0 79.9h1M453.4 73.2h1M447.5 79.9h1M450.1 78.3h1M447.2 74.6h1M453.6 68.7h1M440.8 88.0h1M443.8 79.0h1M449.9 74.9h1M450.9 83.0h1M448.4 81.0h1M450.7 74.1h1M451.7 77.2h1M444.5 75.5h1M441.1 81.2h1M446.5 80.2h1M449.2 74.6h1M449.7 84.9h1M445.5 75.4h1M448.0 75.7h1M445.0 74.5h1M454.0 78.1h1M449.5 75.1h1M451.0 79.4h1M448.7 71.6h1M453.4 75.4h1M441.4 74.8h1M444.5 75.2h1M444.1 82.4h1M453.9 73.4h1M444.1 73.1h1M449.4 77.3h1M445.2 79.0h1M444.5 83.6h1M445.3 77.7h1M454.4 73.4h1M446.2 73.4h1M448.6 73.9h1M449.4 79.3h1M448.6 77.1h1M441.2 79.6h1M443.3 87.3h1M448.4 79.8h1M454.1 76.6h1M450.3 75.8h1M447.8 76.8h1M452.7 71.8h1M445.5 79.2h1M442.8 83.2h1M453.4 74.0h1M453.3 78.7h1M448.5 82.6h1M445.7 76.5h1M446.9 82.6h1M449.2 74.5h1M450.5 79.3h1M456.6 67.3h1M450.1 76.7h1M443.9 73.9h1M445.6 78.2h1M442.2 81.5h1M444.7 75.3h1M441.0 83.8h1M449.4 77.0h1M445.9 79.2h1M453.7 75.6h1M447.2 80.0h1M447.5 78.4h1M447.4 75.7h1M445.8 81.3h1M442.2 80.3h1M451.5 77.3h1M444.9 82.8h1M446.1 79.8h1M455.8 71.6h1M447.6 77.0h1M442.1 77.7h1M442.1 80.3h1M450.6 79.0h1M446.2 72.3h1M445.6 77.4h1M451.5 83.1h1M448.9 77.7h1M449.7 76.5h1M448.5 74.5h1M445.6 80.9h1M449.7 76.8h1M450.1 76.6h1M440.5 83.9h1M451.5 74.1h1M449.7 77.4h1M451.8 71.3h1M452.1 80.6h1M448.5 76.6h1M449.4 78.3h1M439.4 84.0h1M451.3 71.2h1M455.6 79.6h1M451.6 73.8h1M450.0 77.5h1M444.7 75.3h1M454.1 71.9h1M449.5 80.6h1M445.7 83.4h1M448.6 75.4h1M446.6 77.8h1M459.0 61.2h1M451.5 72.5h1M438.2 82.2h1M446.5 82.7h1M447.0 75.4h1M452.5 72.8h1M448.3 78.5h1M447.6 69.8h1M446.9 77.8h1M446.2 82.1h1M442.2 72.7h1M443.5 84.8h1M443.6 77.9h1M455.7 75.1h1M444.9 78.1h1M445.2 76.9h1M448.9 77.4h1M446.3 76.5h1M439.2 78.8h1M448.4 70.3h1M444.6 75.0h1M452.3 79.7h1M453.5 76.8h1M449.4 76.3h1M452.1 78.7h1M450.7 75.1h1M446.5 77.5h1M439.3 85.9h1M443.9 80.8h1M447.1 76.9h1M449.8 79.1h1M441.2 77.5h1M443.7 81.9h1M448.3 70.1h1M447.0 76.7h1M440.0 79.9h1M447.0 84.1h1M447.3 74.8h1M444.9 76.0h1M454.7 78.2h1M446.4 79.6h1M447.0 79.5h1M446.8 75.3h1M445.7 80.4h1M446.6 73.9h1M446.8 72.7h1M445.4 70.5h1M441.5 80.8h1M447.6 76.1h1M450.1 82.3h1M442.5 78.9h1M442.4 73.7h1M448.9 74.8h1M447.4 80.0h1M452.5 79.1h1M451.5 76.5h1M456.8 72.1h1M444.0 83.8h1M448.3 80.7h1M445.1 77.9h1M450.7 78.0h1M449.1 73.3h1M453.5 76.0h1M441.8 71.7h1M447.9 75.5h1M450.1 79.6h1M440.1 78.4h1M448.2 81.6h1M454.1 77.3h1M448.2 73.0h1M444.5 86.3h1M443.1 89.7h1M455.9 70.7h1M454.0 72.7h1M446.8 79.3h1M447.7 68.7h1M448.6 76.4h1M447.5 81.1h1M447.3 75.0h1M454.3 72.2h1M452.0 75.2h1M446.1 77.4h1M440.6 77.8h1M449.0 78.9h1M448.9 77.9h1M443.4 77.8h1M450.1 76.8h1M444.8 78.8h1M444.6 72.7h1M445.4 84.6h1M450.0 73.9h1M450.3 72.4h1M444.8 75.6h1M451.7 76.0h1M449.3 76.8h1M450.5 72.5h1M454.1 73.9h1M439.3 80.7h1M449.4 74.1h1M441.9 81.0h1M446.5 77.8h1M457.0 69.9h1M450.7 78.6h1M450.1 72.8h1M449.4 75.8h1M439.2 80.7h1M454.1 74.8h1M446.5 80.3h1M438.9 75.6h1M444.2 79.5h1M446.0 75.1h1M446.8 72.3h1M443.5 80.9h1M444.7 77.0h1M449.2 76.2h1M450.2 82.5h1M445.9 76.2h1M448.9 72.8h1M452.0 77.6h1M452.0 84.0h1M450.7 78.7h1M443.4 76.1h1M439.8 83.0h1M448.2 75.3h1M447.2 76.5h1M450.0 75.0h1M448.6 72.6h1M443.3 84.8h1M443.8 81.5h1M451.2 75.3h1M448.9 80.7h1M452.3 69.0h1M452.2 81.7h1M440.8 76.1h1M440.4 86.0h1M444.5 81.1h1M451.5 76.8h1M443.4 75.7h1M446.2 77.5h1M445.8 79.8h1M450.3 77.4h1M445.2 83.4h1M450.2 68.7h1M439.8 85.9h1M445.7 81.4h1M442.4 72.0h1M445.2 82.3h1M445.2 74.5h1M448.4 71.9h1M445.7 77.1h1M444.0 80.8h1M452.2 80.6h1M433.5 88.6h1M446.5 81.1h1M451.8 80.0h1M452.8 66.9h1M452.5 75.3h1M448.1 81.2h1M446.3 81.4h1M443.1 85.9h1M447.5 78.0h1M445.4 78.0h1M447.1 70.4h1M444.4 84.7h1M445.6 88.4h1M446.7 77.5h1M451.4 76.6h1M441.9 81.2h1M451.4 75.9h1M447.0 75.3h1M451.6 76.8h1M441.6 76.3h1M446.3 79.4h1M448.0 77.9h1M446.5 82.7h1M449.7 84.7h1M449.5 81.2h1M453.4 70.2h1M454.2 73.4h1M447.2 81.2h1M448.2 78.5h1M445.3 78.0h1M442.3 81.1h1M446.7 80.6h1M440.5 78.8h1M445.1 75.5h1M447.3 71.6h1M453.8 76.9h1M451.2 77.8h1M443.4 84.7h1M448.0 70.1h1M442.1 81.5h1M445.3 77.6h1M442.7 77.9h1M443.5 79.3h1M439.2 87.2h1M453.1 75.7h1M447.0 77.7h1M440.9 78.4h1M455.2 77.8h1M453.9 68.0h1M445.0 77.3h1M445.2 79.8h1M456.6 72.1h1M444.5 80.1h1M454.9 76.7h1M444.3 78.7h1M451.8 69.6h1M442.6 82.2h1M443.8 84.2h1M457.7 75.0h1M444.7 83.0h1M454.1 72.3h1M448.0 75.8h1M446.3 78.6h1M444.8 69.9h1M444.7 81.1h1M444.9 76.8h1M451.7 74.9h1M443.9 68.0h1M447.0 79.2h1M449.1 76.7h1M444.0 82.8h1M443.6 81.6h1M443.1 79.0h1M444.1 76.0h1M452.3 73.5h1M448.2 76.3h1M451.5 75.8h1M451.1 75.8h1M441.4 79.1h1M452.2 67.5h1M449.0 79.1h1M445.7 81.2h1M459.4 63.2h1M449.1 78.2h1M449.5 76.8h1M447.3 73.2h1M454.3 74.5h1M446.8 76.9h1M447.1 74.6h1M450.1 71.4h1M447.9 84.3h1M446.9 74.0h1M447.4 79.8h1M445.2 69.9h1M440.2 81.2h1M448.4 77.1h1M446.1 81.0h1M449.7 76.1h1M449.0 75.4h1M444.7 73.8h1M445.3 70.9h1M442.0 82.3h1M442.9 84.0h1M449.9 74.3h1M442.2 82.4h1M443.6 76.8h1M443.1 73.1h1M454.1 74.9h1M452.3 70.8h1M443.8 75.7h1M446.8 76.5h1M441.3 86.3h1M451.6 78.3h1M440.6 89.2h1M453.3 72.0h1M451.8 81.0h1M443.5 73.8h1M449.1 73.2h1M443.6 80.1h1M456.6 76.8h1M448.1 78.2h1M453.8 72.9h1M445.9 77.9h1M445.6 73.2h1M444.3 80.3h1M446.7 76.8h1M441.7 83.5h1M452.3 77.1h1M450.6 73.2h1M450.6 72.9h1M444.0 77.3h1M444.3 74.5h1M447.5 75.8h1M441.7 82.8h1M450.5 79.3h1M449.6 79.8h1M449.0 78.7h1M449.5 79.9h1M452.6 72.3h1M446.2 73.2h1M443.8 73.2h1M446.0 75.0h1M452.6 73.9h1M446.6 79.0h1M446.3 78.0h1M448.9 69.4h1M450.8 73.1h1M444.2 78.3h1M455.2 69.0h1M445.8 76.9h1M447.8 74.2h1M440.7 85.2h1M444.7 78.1h1M440.8 77.1h1M443.0 81.3h1M449.2 73.1h1M448.4 78.2h1M444.3 77.0h1M462.6 74.0h1M449.7 75.5h1M458.5 72.2h1M451.4 78.1h1M446.8 85.4h1M450.0 73.2h1M453.5 81.5h1M447.2 77.9h1M452.4 79.0h1M445.7 72.7h1M446.9 81.0h1M448.3 75.0h1M448.7 81.4h1M444.2 78.5h1M449.1 75.4h1M448.0 84.3h1M438.1 87.9h1M447.9 76.3h1M446.6 79.7h1M444.4 85.9h1M440.9 78.8h1M455.1 70.6h1M453.0 75.3h1M449.3 72.3h1M449.6 73.1h1M443.0 76.5h1M448.1 79.2h1M446.9 74.6h1M451.2 72.4h1M440.8 90.7h1M453.8 70.2h1M447.6 74.8h1M443.7 87.0h1M446.1 80.6h1M448.0 74.3h1M449.4 68.8h1M449.8 77.1h1M451.3 73.9h1M455.2 72.1h1M448.5 76.2h1M447.8 81.7h1M450.4 75.1h1M447.2 80.2h1M448.2 84.9h1M449.5 81.7h1M451.2 66.2h1M452.9 71.1h1M454.7 77.9h1M452.4 72.3h1M451.9 76.5h1M446.7 87.6h1M445.6 79.7h1M452.7 70.2h1M447.6 72.6h1M451.0 75.7h1M453.5 73.8h1M443.5 78.4h1M449.6 73.5h1M446.9 78.7h1M445.9 74.1h1M441.7 80.4h1M443.7 77.6h1M446.4 75.1h1M452.8 70.2h1M451.5 79.7h1M451.2 73.2h1M452.3 76.1h1M446.5 78.9h1M445.7 80.5h1M449.4 74.7h1M443.4 79.8h1M443.3 79.7h1M444.8 77.8h1M443.6 70.5h1M452.5 68.5h1M447.1 77.0h1M450.1 82.5h1M451.0 71.1h1M447.5 76.7h1M448.6 79.6h1M451.9 78.7h1M445.1 71.7h1M448.4 82.4h1M447.4 69.2h1M454.0 74.9h1M457.3 72.1h1M448.1 74.4h1M450.6 82.0h1M443.2 76.4h1M445.7 80.6h1M445.6 82.5h1M456.4 81.5h1M446.6 74.3h1M452.4 69.2h1M450.9 76.2h1M451.4 78.6h1M444.1 67.9h1M444.4 80.8h1M444.9 76.1h1M451.5 79.7h1M442.5 83.0h1M447.9 78.2h1M446.3 79.1h1M448.4 79.3h1M453.6 74.2h1M439.6 74.8h1M449.7 74.5h1M443.8 76.4h1M445.2 75.9h1M440.4 85.3h1M450.8 74.8h1M449.9 81.0h1M451.3 70.4h1M435.2 84.3h1M448.8 76.1h1M451.2 73.5h1M439.0 77.7h1M449.6 74.9h1M447.2 76.4h1M438.1 86.2h1M449.7 78.5h1M449.4 72.9h1M448.7 82.3h1M453.8 68.6h1M448.6 73.7h1M437.4 85.5h1M447.6 73.9h1M442.7 74.8h1M450.0 72.0h1M445.9 72.8h1M449.3 76.7h1M446.9 80.6h1M438.1 77.6h1M451.8 78.6h1M450.8 76.1h1M441.4 77.6h1M451.5 72.4h1M446.9 78.6h1M439.8 83.5h1M435.7 82.5h1M443.4 79.0h1M445.9 77.6h1M447.2 80.7h1M447.1 79.8h1M443.5 84.4h1M443.5 77.1h1M452.8 72.8h1M454.5 68.8h1M453.1 78.8h1M438.6 88.3h1M449.9 78.0h1M446.2 76.7h1M452.5 77.0h1M448.2 79.7h1M442.7 84.4h1M452.3 68.5h1M444.7 89.0h1M451.5 75.8h1M446.3 72.8h1M443.2 82.3h1M451.6 80.5h1M455.2 76.6h1M453.8 72.1h1M437.3 80.7h1M454.3 77.7h1M454.7 77.1h1M443.1 87.6h1M448.4 80.1h1M444.5 78.7h1M454.8 80.3h1M452.7 73.5h1M457.8 66.1h1M450.6 74.6h1M449.8 69.4h1M450.8 77.3h1M439.4 78.2h1M454.0 73.7h1M443.7 80.3h1M455.7 72.4h1M453.5 78.9h1M446.7 69.9h1M448.2 80.3h1M445.3 77.7h1M443.4 84.9h1M453.1 76.3h1M447.7 86.1h1M445.4 79.8h1M442.2 81.6h1M451.7 76.0h1M448.6 76.4h1M443.6 83.9h1M444.5 78.2h1M452.8 74.5h1M439.5 78.9h1M446.4 78.9h1M445.3 80.8h1M447.1 72.8h1M442.3 87.9h1M450.1 71.0h1M440.4 81.7h1M450.3 74.4h1M443.0 85.4h1M445.5 83.4h1M446.3 80.9h1M442.4 80.4h1M448.1 75.3h1M449.1 73.6h1M447.0 76.3h1M447.4 71.3h1M446.0 79.3h1M439.2 80.5h1M451.3 83.6h1M436.3 74.8h1M452.3 74.3h1M449.2 79.7h1M446.1 78.9h1M452.1 78.6h1M451.3 76.9h1M450.9 76.9h1M450.1 72.6h1M439.1 84.7h1M447.4 79.8h1M452.1 69.6h1M448.5 73.3h1M448.6 70.2h1M452.9 73.1h1M449.0 69.0h1M449.4 77.6h1M452.5 74.9h1M455.2 73.1h1M438.9 83.1h1M431.4 91.2h1M452.7 71.8h1M450.3 77.5h1M452.7 70.9h1M448.3 76.4h1M445.5 77.7h1M448.1 73.3h1M446.7 76.3h1M451.2 78.9h1M451.9 75.9h1M443.7 76.9h1M447.9 86.4h1M446.2 74.9h1M452.9 69.9h1M453.8 70.3h1M453.1 72.0h1M449.2 73.2h1M449.2 68.6h1M442.7 88.3h1M447.9 76.5h1M446.2 83.4h1M450.1 73.2h1M454.7 74.2h1M447.0 82.8h1M447.6 81.2h1M445.0 77.8h1M451.9 70.5h1M447.6 85.3h1M450.8 68.7h1M448.5 77.6h1M448.0 73.7h1M446.2 76.0h1M454.3 73.2h1M445.9 78.9h1M447.2 80.8h1M448.2 76.2h1M443.0 80.8h1M446.6 82.6h1M444.0 80.7h1M448.2 72.9h1M444.6 78.6h1M448.0 73.0h1M456.0 69.8h1M445.4 79.0h1M454.3 70.3h1M454.4 78.5h1M440.7 80.7h1M447.8 73.0h1M447.1 74.6h1M456.9 68.8h1M449.5 78.7h1M440.2 78.9h1M445.8 79.9h1M448.0 76.9h1M449.1 77.6h1M440.4 80.4h1M451.5 80.1h1M455.4 74.8h1M451.8 72.2h1M442.8 79.9h1M447.2 82.1h1M448.6 74.2h1M449.5 83.1h1M449.5 85.5h1M444.3 83.1h1M445.1 78.4h1M440.8 81.5h1M444.5 80.3h1M449.9 75.9h1M438.5 78.5h1M450.0 68.2h1M443.7 78.1h1M446.0 69.9h1M453.0 75.9h1M445.4 76.0h1M445.1 74.7h1M447.7 70.2h1M448.4 75.3h1M444.0 79.8h1M450.7 71.5h1M448.5 81.4h1M448.9 81.0h1M446.5 83.5h1M453.6 78.9h1M453.3 82.7h1M445.7 75.2h1M445.0 82.4h1M441.1 80.0h1M444.9 81.5h1M443.7 87.2h1M447.9 76.0h1M452.1 72.0h1M452.5 72.9h1M450.2 74.0h1M451.5 69.4h1M450.8 78.2h1M443.2 80.6h1M454.2 71.8h1M446.0 75.8h1M438.9 85.3h1M456.9 74.8h1M455.1 78.6h1M446.0 77.5h1M451.5 72.4h1M446.0 78.6h1M446.6 77.7h1M446.1 77.7h1M450.0 71.1h1M448.7 78.3h1M452.1 73.4h1M447.1 73.5h1M447.5 74.0h1M449.5 76.8h1M447.3 74.3h1M452.5 85.5h1M447.5 85.7h1M445.1 70.5h1M449.6 77.5h1M451.9 69.5h1M450.7 74.0h1M454.7 73.5h1M441.7 71.2h1M448.9 80.7h1M444.8 83.2h1M443.7 76.3h1M443.9 75.6h1M440.3 75.2h1M446.0 83.5h1M449.3 79.5h1M452.4 79.8h1M455.2 64.9h1M453.3 75.6h1M442.3 74.6h1M447.4 79.2h1M450.8 75.4h1M449.7 75.9h1M448.8 80.3h1M443.6 81.0h1M456.8 71.1h1M450.3 73.9h1M450.9 79.9h1M448.8 75.4h1M451.4 75.5h1M455.8 76.6h1M441.8 74.5h1M452.4 70.4h1M444.3 67.8h1M444.1 78.6h1M451.4 75.2h1M444.8 79.1h1M447.2 78.9h1M454.5 77.0h1M445.4 84.5h1M447.7 72.7h1M449.7 83.1h1M448.8 84.7h1M458.1 68.4h1M449.0 83.4h1M442.6 78.8h1M454.9 77.6h1M442.6 79.9h1M444.9 87.7h1M440.7 80.9h1M449.5 74.4h1M452.8 70.9h1M443.9 82.0h1M448.5 75.4h1M450.9 70.5h1M453.2 72.5h1M454.2 64.2h1M446.3 78.4h1M449.9 79.6h1M444.1 81.8h1M445.4 74.6h1M444.6 83.3h1M445.0 80.7h1M454.8 79.7h1M445.6 77.6h1M450.4 76.2h1M450.8 73.9h1M448.0 75.5h1M454.2 75.2h1M451.0 75.3h1M443.6 71.3h1M442.8 75.6h1M444.6 74.8h1M456.2 72.6h1M451.1 73.4h1M448.4 77.9h1M445.6 86.8h1M451.9 72.2h1M442.0 82.0h1M448.9 74.0h1M445.6 79.3h1M451.9 71.9h1M440.8 78.1h1M449.6 80.4h1M444.0 84.3h1M441.3 79.9h1M450.2 73.6h1M442.3 76.5h1M448.2 75.7h1M450.9 77.3h1M447.2 76.6h1M447.2 84.4h1M444.3 78.6h1M451.0 70.9h1M449.6 78.7h1M445.7 79.0h1M442.3 87.3h1M454.8 72.2h1M450.1 80.2h1M456.3 76.2h1M441.7 84.5h1M450.1 74.6h1M452.1 74.0h1M445.1 76.6h1M444.2 80.9h1M453.8 73.2h1M447.3 80.1h1M452.8 70.2h1M451.3 73.8h1M445.3 74.2h1M434.3 83.5h1M437.2 87.7h1M452.7 71.9h1M446.1 74.7h1M449.5 76.3h1M446.5 78.3h1M445.2 73.0h1M450.2 73.6h1M449.4 74.2h1M453.9 70.8h1M448.5 80.0h1M439.6 78.6h1M446.2 79.3h1M441.9 77.7h1M450.0 74.3h1M449.7 75.3h1M447.6 69.3h1M440.0 76.9h1M444.1 82.0h1M443.3 75.2h1M453.6 71.8h1M450.9 74.6h1M436.4 75.5h1M449.1 79.0h1M443.4 76.9h1M443.7 81.0h1M452.4 73.8h1M450.6 78.3h1M448.8 75.4h1M450.6 80.3h1M448.7 81.4h1M446.0 84.4h1M446.5 75.3h1M453.1 78.0h1M447.8 76.0h1M444.1 83.4h1M447.2 70.6h1M450.0 78.2h1M443.6 77.4h1M448.3 69.6h1M450.1 79.1h1M445.2 78.9h1M444.7 70.6h1M451.7 71.9h1M449.0 74.2h1M445.6 80.7h1M449.6 74.4h1M447.7 72.1h1M450.1 71.9h1M453.8 72.7h1M445.4 72.9h1M451.3 77.5h1M458.9 65.3h1M449.8 73.6h1M446.5 79.2h1M453.3 71.0h1M446.3 78.5h1M447.1 76.7h1M447.6 88.6h1M448.6 79.8h1M449.0 71.1h1M456.8 68.0h1M443.7 78.1h1M455.6 72.3h1M448.5 83.5h1M447.7 75.3h1M442.3 83.8h1M447.9 74.0h1M447.4 78.2h1M453.8 69.8h1M449.7 79.8h1M460.2 67.4h1M450.7 75.0h1M449.6 74.8h1M447.8 78.1h1M444.4 78.1h1M454.9 69.2h1M449.0 75.3h1M445.7 74.2h1M446.2 80.1h1M441.7 87.1h1M451.6 70.0h1M454.5 77.5h1M454.7 73.3h1M444.1 78.9h1M452.6 74.6h1M449.7 78.6h1M442.9 81.2h1M443.8 78.5h1M440.8 77.3h1M446.1 75.5h1M451.4 74.7h1M447.4 86.9h1M445.8 75.8h1M446.3 77.7h1M444.9 69.9h1M443.8 73.4h1M443.5 74.1h1M451.1 75.8h1M450.5 71.4h1M446.3 76.1h1M446.8 77.2h1M450.4 72.8h1M449.2 77.5h1M451.9 71.6h1M450.9 76.2h1M443.4 80.3h1M454.1 72.4h1M447.0 78.9h1M454.4 68.7h1M447.8 80.8h1M441.3 82.9h1M446.5 77.7h1M441.1 76.0h1M451.0 69.1h1M448.3 70.9h1M453.1 74.0h1M446.8 83.3h1M448.0 81.5h1M447.2 75.5h1M450.7 74.7h1M446.2 64.7h1M455.6 76.1h1M451.2 74.0h1M451.4 76.9h1M447.4 76.9h1M449.2 73.9h1M446.9 73.1h1M448.8 78.4h1M451.1 73.4h1M447.2 76.2h1M445.1 80.1h1M456.2 79.0h1M452.3 73.9h1M448.7 84.7h1M452.5 77.5h1M449.6 77.5h1M446.2 81.0h1M439.6 84.9h1M440.1 87.0h1M447.2 80.4h1M447.7 87.7h1M443.9 81.2h1M451.2 75.4h1M448.2 75.5h1M443.6 79.4h1M454.6 73.0h1M449.7 77.1h1M444.9 82.3h1M442.2 78.9h1M445.8 76.1h1M444.3 79.2h1M451.4 80.5h1M443.2 83.5h1M456.3 72.0h1M449.7 80.3h1M446.4 83.8h1M452.1 77.6h1M455.8 80.8h1M443.3 78.1h1M448.8 82.8h1M447.9 75.4h1M445.9 79.6h1M445.8 79.3h1M449.0 80.5h1M450.4 73.5h1M459.0 71.7h1M447.9 86.8h1M438.7 84.0h1M446.8 80.3h1M442.4 82.7h1M445.1 73.9h1M446.9 81.4h1M442.2 74.1h1M451.3 78.4h1M450.1 78.3h1M446.6 79.7h1M445.8 85.4h1M444.4 75.9h1M436.6 82.4h1M446.3 79.4h1M447.3 76.3h1M449.6 77.6h1M445.1 79.0h1M447.5 86.1h1M445.2 80.1h1M452.0 71.4h1M453.9 67.7h1M450.5 76.9h1M445.5 77.1h1M448.4 71.4h1M450.5 69.9h1M441.4 81.4h1M446.9 77.8h1M447.3 73.9h1M436.4 92.4h1M446.9 83.3h1M445.3 84.0h1M449.0 80.8h1M439.0 82.7h1M448.8 83.1h1M447.9 78.5h1M452.4 71.6h1M450.3 70.9h1M453.3 77.5h1M445.5 77.2h1M437.8 82.1h1M453.9 74.1h1M439.7 77.1h1" stroke="#000" stroke-width="1" fill="none"/>
<path d="M446.9 81.4h1.25M450.6 79.5h1.25M438.2 84.0h1.25M444.3 80.4h1.25M444.9 78.5h1.25M444.0 86.1h1.25M449.3 77.3h1.25M443.1 82.0h1.25M453.3 84.7h1.25M455.3 65.5h1.25M447.7 77.3h1.25M446.8 79.7h1.25M442.1 77.6h1.25M462.3 65.3h1.25M453.1 77.0h1.25M458.0 81.5h1.25M442.3 81.8h1.25M449.0 77.9h1.25M442.3 82.3h1.25M441.8 73.7h1.25M448.9 77.1h1.25M447.8 82.2h1.25M449.9 75.9h1.25M442.7 78.5h1.25M439.9 90.0h1.25M443.1 85.6h1.25M453.8 84.8h1.25M459.7 59.3h1.25M438.2 88.9h1.25M442.4 80.1h1.25M443.2 86.7h1.25M444.6 82.2h1.25M435.2 83.1h1.25M443.9 78.2h1.25M453.2 71.8h1.25M446.2 73.9h1.25M446.4 75.9h1.25M457.0 70.3h1.25M440.8 94.5h1.25M438.6 85.1h1.25M441.9 82.5h1.25M452.7 71.9h1.25M448.5 79.0h1.25M433.4 85.8h1.25M449.1 78.6h1.25M454.5 67.0h1.25M452.7 69.7h1.25M436.8 78.3h1.25M447.1 79.1h1.25M449.4 75.2h1.25M443.2 81.0h1.25M448.6 77.0h1.25M452.3 76.5h1.25M457.9 79.6h1.25M449.0 66.8h1.25M442.6 76.2h1.25M446.9 72.9h1.25M450.3 78.8h1.25M437.6 95.4h1.25M453.7 77.2h1.25M453.0 77.7h1.25M440.7 87.0h1.25M438.3 75.9h1.25M453.8 73.3h1.25M443.3 81.8h1.25M453.1 70.8h1.25M443.8 83.6h1.25M430.2 89.7h1.25M430.3 85.2h1.25M446.7 76.7h1.25M448.7 72.6h1.25M436.5 70.7h1.25M450.4 75.1h1.25M443.3 77.8h1.25M460.2 69.5h1.25M443.2 70.9h1.25M456.0 65.5h1.25M442.7 78.4h1.25M449.6 85.2h1.25M451.2 83.6h1.25M440.5 86.2h1.25M448.4 82.5h1.25M436.4 92.3h1.25M445.0 84.4h1.25M444.0 76.4h1.25M441.4 73.8h1.25M442.9 79.0h1.25M446.0 73.3h1.25M431.9 87.3h1.25M456.2 71.9h1.25M454.9 75.5h1.25M452.7 83.2h1.25M456.9 81.1h1.25M437.8 89.1h1.25M448.7 65.7h1.25M455.5 65.7h1.25M447.0 81.8h1.25M448.5 69.6h1.25M447.4 73.7h1.25M457.0 69.3h1.25M458.8 60.2h1.25M448.4 82.9h1.25M446.5 81.5h1.25M441.7 76.8h1.25M439.7 82.6h1.25M449.6 78.6h1.25M443.6 80.4h1.25M455.7 69.2h1.25M451.5 72.0h1.25M454.7 67.1h1.25M447.4 73.6h1.25M448.6 81.2h1.25M447.9 67.0h1.25M441.4 85.4h1.25M447.3 79.1h1.25M453.5 71.1h1.25M442.5 77.0h1.25M437.7 73.0h1.25M437.4 89.5h1.25M449.6 78.0h1.25M440.7 69.2h1.25M446.1 69.7h1.25M446.8 85.8h1.25M446.9 76.0h1.25M455.1 74.5h1.25M445.5 78.9h1.25M442.5 94.4h1.25M440.1 84.7h1.25M451.3 77.4h1.25M445.5 66.1h1.25M435.0 93.0h1.25M433.7 91.8h1.25M444.8 89.7h1.25M439.4 85.4h1.25M440.1 92.5h1.25M439.4 90.2h1.25M433.3 93.9h1.25M437.0 91.3h1.25M433.1 92.5h1.25M438.7 89.1h1.25M436.4 90.0h1.25M430.6 89.9h1.25M431.3 87.2h1.25M438.3 93.2h1.25M435.8 92.4h1.25M440.7 95.9h1.25M437.7 97.6h1.25M435.7 97.0h1.25M439.1 94.2h1.25M435.6 91.6h1.25M431.9 85.0h1.25M439.0 90.3h1.25M436.4 90.8h1.25M434.0 94.6h1.25M440.3 87.1h1.25M433.7 91.9h1.25M437.8 90.4h1.25M434.3 99.0h1.25M432.6 92.9h1.25M439.0 90.7h1.25M439.2 92.0h1.25M432.6 91.4h1.25M438.1 86.4h1.25M435.1 91.5h1.25M438.5 92.6h1.25M438.6 90.1h1.25M438.1 94.5h1.25M434.0 88.9h1.25M438.3 97.0h1.25M437.4 92.1h1.25M435.4 97.1h1.25M441.9 96.7h1.25M434.7 89.3h1.25M437.3 89.4h1.25M436.7 92.9h1.25M440.3 93.1h1.25M438.9 92.5h1.25M440.1 90.2h1.25M432.4 93.2h1.25M437.2 89.1h1.25M435.3 95.6h1.25M434.4 93.3h1.25M438.5 88.8h1.25M438.4 93.2h1.25M443.1 96.6h1.25M437.9 95.3h1.25M436.3 90.1h1.25M435.9 85.8h1.25M432.7 89.9h1.25M438.8 91.5h1.25M444.6 131.7h1.25M445.5 161.1h1.25M448.1 119.5h1.25M440.4 141.7h1.25M455.3 149.1h1.25M450.6 146.9h1.25M446.0 123.7h1.25M456.2 135.4h1.25M443.0 139.8h1.25M456.4 130.9h1.25M460.6 137.2h1.25M450.5 149.5h1.25M442.0 156.8h1.25M456.1 145.0h1.25M452.4 145.2h1.25M452.0 142.1h1.25M453.8 142.9h1.25M442.7 144.4h1.25M454.0 136.5h1.25M453.8 147.4h1.25M446.8 145.0h1.25M447.9 157.2h1.25M448.6 140.3h1.25M451.9 123.4h1.25M444.7 139.5h1.25M444.2 136.3h1.25M442.4 129.7h1.25M456.6 141.4h1.25M448.5 135.8h1.25M446.1 158.1h1.25M444.5 123.3h1.25M451.4 153.9h1.25M442.4 163.3h1.25M456.5 131.2h1.25M447.5 136.4h1.25M450.6 128.3h1.25M449.5 144.5h1.25M452.5 156.4h1.25M451.3 119.3h1.25M449.1 125.6h1.25M458.1 141.5h1.25M444.5 133.7h1.25M446.9 146.5h1.25M454.3 141.1h1.25M457.6 133.8h1.25M453.5 132.2h1.25M449.5 142.7h1.25M452.8 144.8h1.25M453.5 135.3h1.25M454.7 130.4h1.25M455.8 138.4h1.25M451.6 131.9h1.25M448.0 124.0h1.25M450.7 144.2h1.25M454.6 125.4h1.25M449.8 149.6h1.25M450.7 138.4h1.25M452.0 119.5h1.25M452.3 138.3h1.25M454.6 150.8h1.25M449.1 130.8h1.25M459.9 138.4h1.25M446.6 140.8h1.25M453.1 127.0h1.25M450.1 122.8h1.25M459.6 136.9h1.25M450.6 122.0h1.25M445.8 145.2h1.25M443.6 132.7h1.25M448.8 152.9h1.25M453.3 131.2h1.25M435.2 147.0h1.25M448.2 130.3h1.25M444.8 132.1h1.25M446.9 142.3h1.25M452.4 149.6h1.25M440.1 125.3h1.25M448.4 124.7h1.25M446.6 142.7h1.25M447.4 128.6h1.25M439.5 137.0h1.25M451.1 127.7h1.25M455.1 140.1h1.25M448.0 131.0h1.25M444.0 147.9h1.25M450.7 132.7h1.25M451.6 146.9h1.25M452.8 116.7h1.25M442.2 145.7h1.25M451.5 135.8h1.25M452.4 131.3h1.25M450.9 145.1h1.25M444.2 134.3h1.25M450.2 142.5h1.25M440.6 121.8h1.25M442.6 135.3h1.25M450.3 125.7h1.25M440.9 129.7h1.25M455.0 159.0h1.25M445.9 141.3h1.25M453.7 143.2h1.25M452.6 150.6h1.25M452.8 121.9h1.25M455.4 117.5h1.25M448.1 161.3h1.25M446.0 143.7h1.25M450.6 121.6h1.25M445.1 135.6h1.25M449.0 112.0h1.25M437.5 141.6h1.25M449.9 149.5h1.25M449.1 154.9h1.25M460.7 139.2h1.25M450.0 140.9h1.25M450.0 149.0h1.25M441.8 142.7h1.25M444.1 145.1h1.25M446.7 142.9h1.25M442.2 139.7h1.25M443.6 157.3h1.25M447.3 131.4h1.25M443.2 143.6h1.25M444.2 142.0h1.25M448.3 135.4h1.25M451.9 163.8h1.25M444.6 130.3h1.25M452.5 148.6h1.25M447.2 114.5h1.25M450.7 131.4h1.25M453.4 143.2h1.25M442.8 150.8h1.25M445.2 141.6h1.25M449.5 135.3h1.25M441.9 152.3h1.25M452.3 121.9h1.25M444.3 140.7h1.25M451.0 139.8h1.25M447.4 155.8h1.25M456.4 128.8h1.25M448.9 144.8h1.25M444.9 158.6h1.25M445.5 133.1h1.25M451.7 136.9h1.25M453.2 118.1h1.25M448.2 152.9h1.25M460.6 138.9h1.25M447.9 145.3h1.25M447.3 138.0h1.25M447.0 141.9h1.25M454.7 133.3h1.25M447.8 145.4h1.25M458.8 119.4h1.25M441.1 149.2h1.25M453.7 150.9h1.25M454.1 121.7h1.25M457.9 131.0h1.25M446.0 140.7h1.25M443.4 132.0h1.25M450.8 145.4h1.25M452.1 153.4h1.25M447.4 139.1h1.25M451.9 140.2h1.25M451.4 139.7h1.25M455.3 158.9h1.25M459.1 131.6h1.25M448.2 124.4h1.25M444.9 145.6h1.25M448.0 129.2h1.25M450.9 124.7h1.25M447.5 143.1h1.25M458.9 143.2h1.25M447.4 149.2h1.25M449.7 138.5h1.25M448.3 124.5h1.25M449.5 129.4h1.25M445.7 161.9h1.25M455.4 145.6h1.25M447.2 130.5h1.25M444.2 136.4h1.25M449.2 145.3h1.25M454.6 152.0h1.25M449.9 118.6h1.25M452.3 146.2h1.25M452.6 144.3h1.25M450.6 144.6h1.25M439.1 152.1h1.25M455.7 146.1h1.25M452.8 152.7h1.25M451.4 139.6h1.25M460.9 143.1h1.25M435.7 146.1h1.25M434.5 148.1h1.25M435.0 140.0h1.25M436.2 159.1h1.25M437.4 149.9h1.25M430.3 115.6h1.25M430.5 117.9h1.25M434.6 108.5h1.25M431.1 108.0h1.25M433.1 115.7h1.25M436.1 113.4h1.25M432.6 116.1h1.25M432.6 147.1h1.25M436.0 147.1h1.25M432.8 143.9h1.25M435.9 135.0h1.25M437.9 108.6h1.25M431.6 117.5h1.25M433.3 129.8h1.25M437.8 146.5h1.25M431.6 119.3h1.25M431.6 129.1h1.25M432.2 137.3h1.25M436.4 149.9h1.25M437.7 118.9h1.25M432.5 118.2h1.25M433.3 133.9h1.25M433.2 122.9h1.25M449.1 117.7h1.25M456.0 112.4h1.25M445.6 108.4h1.25M437.3 107.5h1.25M459.8 121.2h1.25M445.3 105.3h1.25M442.1 119.1h1.25M455.2 113.5h1.25M433.4 110.6h1.25M432.9 113.0h1.25M440.8 110.5h1.25M433.9 112.2h1.25M448.2 123.8h1.25M437.6 103.1h1.25M447.2 121.9h1.25M432.9 123.9h1.25M438.8 103.9h1.25M455.6 109.6h1.25M452.2 103.4h1.25M458.0 102.3h1.25M455.0 118.5h1.25M447.2 109.1h1.25M454.8 111.0h1.25M443.6 124.5h1.25M458.6 121.8h1.25M457.5 116.4h1.25M441.8 120.5h1.25M443.8 120.2h1.25" stroke="#000" stroke-width="1.25" fill="none"/>
<path d="M40.3 167V194.2H289" stroke="#000" stroke-width="2.4" fill="none"/>
<path d="M40.3 161.2L36.5 168.6H44.1Z" fill="#000"/>
<path d="M294.6 194.2L288 190.4V198Z" fill="#000"/>
<text x="297.4" y="198.6" font-size="12.2" font-weight="bold" textLength="72" lengthAdjust="spacingAndGlyphs">Anti-CD8-PE</text>
<text transform="translate(44.3,154.5) rotate(-90)" font-size="12.2" font-weight="bold" textLength="115" lengthAdjust="spacingAndGlyphs">Cw*0602-TRAT-APC</text>
<text x="0" y="14.6" font-size="20.6" font-weight="bold">A</text>
<text x="-0.3" y="236.2" font-size="20.6" font-weight="bold">B</text>
<text x="-0.2" y="543.2" font-size="20.6" font-weight="bold">C</text>
<path d="M181.3 256.0V478.9" stroke="#000" stroke-width="1.9" fill="none"/>
<path d="M175.70000000000002 478.9H507.6" stroke="#000" stroke-width="1.9" fill="none"/>
<path d="M175.70000000000002 256.8H181.3M175.70000000000002 284.6H181.3M175.70000000000002 312.3H181.3M175.70000000000002 340.1H181.3M175.70000000000002 367.8H181.3M175.70000000000002 395.6H181.3M175.70000000000002 423.4H181.3M175.70000000000002 451.1H181.3M181.3 478.9V482.09999999999997M262.7 478.9V482.09999999999997M344.1 478.9V482.09999999999997M425.6 478.9V482.09999999999997M507.0 478.9V482.09999999999997" stroke="#000" stroke-width="1.7" fill="none"/>
<rect x="181.3" y="261.6" width="275.0" height="9.9" fill="#000"/>
<rect x="181.3" y="289.2" width="250.2" height="9.9" fill="#000"/>
<rect x="182.0" y="299.3" width="90.5" height="9.7" fill="#cecece"/>
<rect x="181.3" y="316.8" width="230.4" height="9.9" fill="#000"/>
<rect x="182.0" y="326.9" width="5.6" height="9.7" fill="#cecece"/>
<rect x="181.3" y="344.4" width="19.3" height="9.9" fill="#000"/>
<rect x="182.0" y="354.5" width="17.2" height="9.7" fill="#cecece"/>
<rect x="181.3" y="372.0" width="14.7" height="9.9" fill="#000"/>
<rect x="182.0" y="382.1" width="4.0" height="9.7" fill="#cecece"/>
<rect x="181.3" y="399.6" width="4.9" height="9.9" fill="#000"/>
<rect x="182.0" y="409.7" width="2.6" height="9.7" fill="#cecece"/>
<rect x="181.3" y="427.2" width="19.7" height="9.9" fill="#000"/>
<rect x="182.0" y="437.3" width="132.0" height="9.7" fill="#cecece"/>
<rect x="181.3" y="454.8" width="9.0" height="9.9" fill="#000"/>
<rect x="182.0" y="464.9" width="140.6" height="10.5" fill="#cecece"/>
<text x="172.9" y="274.5" font-size="12.2" font-weight="bold" text-anchor="end">A2 B35, B57 Cw6 DR4&#160;&#160; Auto</text>
<text x="172.9" y="301.2" font-size="12.2" font-weight="bold" text-anchor="end">Cw6, B57 DR4&#160; LCL1</text>
<text x="172.9" y="329.0" font-size="12.2" font-weight="bold" text-anchor="end">Cw6&#160; LCL2</text>
<text x="172.9" y="357.0" font-size="12.2" font-weight="bold" text-anchor="end">B35&#160; LCL3</text>
<text x="172.9" y="384.3" font-size="12.2" font-weight="bold" text-anchor="end">B35&#160; LCL4</text>
<text x="172.9" y="411.8" font-size="12.2" font-weight="bold" text-anchor="end">A2, B35&#160; LCL5</text>
<text x="172.9" y="441.3" font-size="12.2" font-weight="bold" text-anchor="end">DR4&#160; LCL6</text>
<text x="172.9" y="469.1" font-size="12.2" font-weight="bold" text-anchor="end">DR4&#160; LCL7</text>
<text x="66.8" y="256.6" font-size="12.3" font-weight="bold">HLA Shared</text>
<text x="181.8" y="498.9" font-size="14" font-weight="bold" text-anchor="middle">0</text>
<text x="263.22" y="498.9" font-size="14" font-weight="bold" text-anchor="middle">20</text>
<text x="344.64" y="498.9" font-size="14" font-weight="bold" text-anchor="middle">40</text>
<text x="426.06" y="498.9" font-size="14" font-weight="bold" text-anchor="middle">60</text>
<text x="507.47999999999996" y="498.9" font-size="14" font-weight="bold" text-anchor="middle">80</text>
<text x="236.8" y="516.0" font-size="14.2" font-weight="bold" textLength="219" lengthAdjust="spacingAndGlyphs">% IFN-<tspan font-weight="normal">γ</tspan> expressing CD8+ T cells</text>
<rect x="378" y="424.5" width="12" height="11.5" fill="#000"/>
<rect x="378" y="447.4" width="12" height="11.2" fill="#b4b4b4"/>
<text x="393.6" y="434.5" font-size="14.3" font-weight="bold" textLength="105" lengthAdjust="spacingAndGlyphs">+ TRAT peptide</text>
<text x="395.4" y="456.5" font-size="14.3" font-weight="bold" textLength="74" lengthAdjust="spacingAndGlyphs">No peptide</text>
<rect x="57.1" y="561" width="217.1" height="118.0" fill="none" stroke="#000" stroke-width="1.9"/>
<text x="52.4" y="684.0" font-size="14.1" font-weight="bold" text-anchor="end">0</text>
<text x="52.4" y="667.1428571428571" font-size="14.1" font-weight="bold" text-anchor="end">5</text>
<text x="52.4" y="650.2857142857143" font-size="14.1" font-weight="bold" text-anchor="end">10</text>
<text x="52.4" y="633.4285714285714" font-size="14.1" font-weight="bold" text-anchor="end">15</text>
<text x="52.4" y="616.5714285714286" font-size="14.1" font-weight="bold" text-anchor="end">20</text>
<text x="52.4" y="599.7142857142857" font-size="14.1" font-weight="bold" text-anchor="end">25</text>
<text x="52.4" y="582.8571428571429" font-size="14.1" font-weight="bold" text-anchor="end">30</text>
<text x="52.4" y="566.0" font-size="14.1" font-weight="bold" text-anchor="end">35</text>
<path d="M53.7 679.0H57.1M53.7 662.1H57.1M53.7 645.3H57.1M53.7 628.4H57.1M53.7 611.6H57.1M53.7 594.7H57.1M53.7 577.9H57.1M53.7 561.0H57.1M129.5 679.0V682.0M201.8 679.0V682.0" stroke="#000" stroke-width="1.4" fill="none"/>
<path d="M94.3 575.4L166.7 649.2L237.8 671.9" stroke="#000" stroke-width="1.5" fill="none"/>
<path d="M94.3 650.4L166.7 670.2L237.8 678.7" stroke="#000" stroke-width="1.5" fill="none"/>
<rect x="90.90" y="572.03" width="6.8" height="6.8" fill="#bdbdbd" stroke="#000" stroke-width="1.8"/>
<rect x="163.30" y="645.83" width="6.8" height="6.8" fill="#bdbdbd" stroke="#000" stroke-width="1.8"/>
<rect x="234.40" y="668.52" width="6.8" height="6.8" fill="#bdbdbd" stroke="#000" stroke-width="1.8"/>
<rect x="90.90" y="647.04" width="6.8" height="6.8" fill="#000" stroke="#000" stroke-width="1.8"/>
<rect x="163.30" y="666.77" width="6.8" height="6.8" fill="#000" stroke="#000" stroke-width="1.8"/>
<rect x="234.40" y="675.26" width="6.8" height="6.8" fill="#000" stroke="#000" stroke-width="1.8"/>
<text x="66" y="554.6" font-size="12.2" font-weight="bold" textLength="194.3" lengthAdjust="spacingAndGlyphs">Cw*0602<tspan dy="-4.4" font-size="7.8">+</tspan><tspan dy="4.4"> DRB*0401</tspan><tspan dy="-4.4" font-size="7.8">-</tspan><tspan dy="4.4"> LCL + TRAT</tspan></text>
<path d="M165.4 570.7H176.4M165.4 583H176.4" stroke="#000" stroke-width="1.2"/>
<rect x="168.10" y="567.80" width="5.8" height="5.8" fill="#000" stroke="#000" stroke-width="1.6"/>
<rect x="168.55" y="580.55" width="4.9" height="4.9" fill="#bdbdbd" stroke="#000" stroke-width="1.7"/>
<text x="181.6" y="574.6" font-size="12.3" font-weight="bold" textLength="89" lengthAdjust="spacingAndGlyphs">+ <tspan font-weight="normal">α</tspan>-HLA class I</text>
<text x="181.6" y="586.8" font-size="12.3" font-weight="bold" textLength="31" lengthAdjust="spacingAndGlyphs">Mock</text>
<text x="97.2" y="695.0" font-size="14.2" font-weight="bold" text-anchor="middle">22:1</text>
<text x="167.1" y="695.0" font-size="14.2" font-weight="bold" text-anchor="middle">67:1</text>
<text x="240.3" y="695.0" font-size="14.2" font-weight="bold" text-anchor="middle">200:1</text>
<text transform="translate(14.2,617.8) rotate(-90)" font-size="14.2" font-weight="bold" text-anchor="middle" textLength="133" lengthAdjust="spacingAndGlyphs">% IFN-<tspan font-weight="normal">γ</tspan> expressing</text>
<text transform="translate(30,615.3) rotate(-90)" font-size="14.2" font-weight="bold" text-anchor="middle" textLength="83.5" lengthAdjust="spacingAndGlyphs">CD8+ T cells</text>
<rect x="298.9" y="560" width="220.4" height="117.2" fill="none" stroke="#000" stroke-width="1.9"/>
<text x="293.2" y="682.2" font-size="14.1" font-weight="bold" text-anchor="end">0</text>
<text x="293.2" y="665.4571428571429" font-size="14.1" font-weight="bold" text-anchor="end">1</text>
<text x="293.2" y="648.7142857142858" font-size="14.1" font-weight="bold" text-anchor="end">2</text>
<text x="293.2" y="631.9714285714285" font-size="14.1" font-weight="bold" text-anchor="end">3</text>
<text x="293.2" y="615.2285714285714" font-size="14.1" font-weight="bold" text-anchor="end">4</text>
<text x="293.2" y="598.4857142857143" font-size="14.1" font-weight="bold" text-anchor="end">5</text>
<text x="293.2" y="581.7428571428571" font-size="14.1" font-weight="bold" text-anchor="end">6</text>
<text x="293.2" y="565.0" font-size="14.1" font-weight="bold" text-anchor="end">7</text>
<path d="M295.7 677.2H298.9M295.7 660.5H298.9M295.7 643.7H298.9M295.7 627.0H298.9M295.7 610.2H298.9M295.7 593.5H298.9M295.7 576.7H298.9M295.7 560.0H298.9M372.4 677.2V680.2M445.8 677.2V680.2" stroke="#000" stroke-width="1.4" fill="none"/>
<path d="M335.2 569.5L409 638.4L482.5 667.5" stroke="#000" stroke-width="1.75" fill="none"/>
<path d="M335.2 675.5L409 676.9L482.5 676.2" stroke="#000" stroke-width="1.5" fill="none"/>
<rect x="331.70" y="566.04" width="7.0" height="7.0" fill="#bdbdbd" stroke="#000" stroke-width="1.3"/>
<rect x="405.50" y="634.86" width="7.0" height="7.0" fill="#bdbdbd" stroke="#000" stroke-width="1.3"/>
<rect x="479.00" y="663.99" width="7.0" height="7.0" fill="#bdbdbd" stroke="#000" stroke-width="1.3"/>
<rect x="332.20" y="672.53" width="6.0" height="6.0" fill="#000" stroke="#000" stroke-width="1.6"/>
<rect x="406.00" y="673.87" width="6.0" height="6.0" fill="#000" stroke="#000" stroke-width="1.6"/>
<rect x="479.50" y="673.20" width="6.0" height="6.0" fill="#000" stroke="#000" stroke-width="1.6"/>
<text x="335.4" y="555" font-size="12.2" font-weight="bold" textLength="147.6" lengthAdjust="spacingAndGlyphs">Cw*0602<tspan dy="-4.4" font-size="7.8">-</tspan><tspan dy="4.4"> DRB*0401</tspan><tspan dy="-4.4" font-size="7.8">+</tspan><tspan dy="4.4"> LCL</tspan></text>
<path d="M402.6 570H414M402.6 583H414" stroke="#000" stroke-width="1.2"/>
<rect x="405.50" y="567.10" width="5.8" height="5.8" fill="#000" stroke="#000" stroke-width="1.6"/>
<rect x="406.15" y="580.55" width="4.9" height="4.9" fill="#bdbdbd" stroke="#000" stroke-width="1.7"/>
<text x="418" y="574.4" font-size="12.3" font-weight="bold" textLength="95" lengthAdjust="spacingAndGlyphs">+&#160; <tspan font-weight="normal">α</tspan>-HLA class II</text>
<text x="418" y="586.2" font-size="12.3" font-weight="bold" textLength="31" lengthAdjust="spacingAndGlyphs">Mock</text>
<text x="338.2" y="696.8" font-size="14.2" font-weight="bold" text-anchor="middle">22:1</text>
<text x="408.0" y="696.8" font-size="14.2" font-weight="bold" text-anchor="middle">67:1</text>
<text x="481.6" y="696.8" font-size="14.2" font-weight="bold" text-anchor="middle">200:1</text>
<path d="M73.7 694.5V700.8H515.2V691.2" stroke="#000" stroke-width="2.2" fill="none"/>
<text x="227.8" y="714.5" font-size="12.6" font-weight="bold" textLength="157.6" lengthAdjust="spacingAndGlyphs">Responder:stimulator ratio</text>
</svg>
</body></html>
